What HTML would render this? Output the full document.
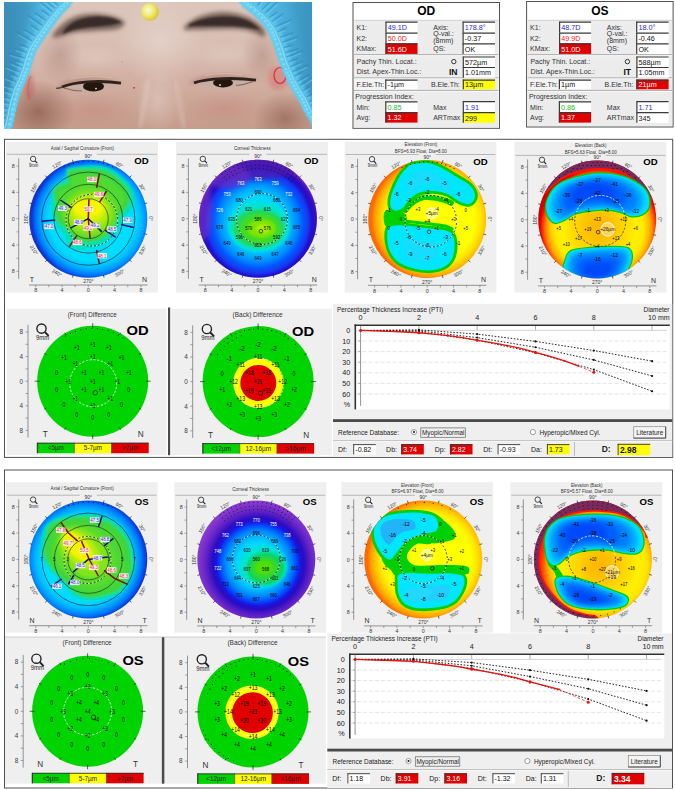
<!DOCTYPE html>
<html><head><meta charset="utf-8"><title>Belin/Ambrosio Enhanced Ectasia Display</title>
<style>
html,body{margin:0;padding:0;background:#fff;width:675px;height:790px;overflow:hidden;}
svg text{font-family:"Liberation Sans", sans-serif;}
</style></head><body>
<svg width="675" height="790" viewBox="0 0 675 790" style="display:block">
<rect x="0" y="0" width="675" height="790" fill="#ffffff"/>
<defs>
<clipPath id="phclip"><rect x="4" y="2" width="308" height="127"/></clipPath>
<linearGradient id="skinV" x1="0" y1="0" x2="0" y2="1">
 <stop offset="0" stop-color="#dcc6bc"/>
 <stop offset="0.35" stop-color="#d8bdb2"/>
 <stop offset="0.65" stop-color="#d1aea0"/>
 <stop offset="1" stop-color="#c59c8c"/>
</linearGradient>
<radialGradient id="noseHi" cx="0.5" cy="0.5" r="0.5">
 <stop offset="0" stop-color="#e6d4cc" stop-opacity="0.8"/>
 <stop offset="1" stop-color="#e6d4cc" stop-opacity="0"/>
</radialGradient>
<radialGradient id="shadeL" cx="0.5" cy="0.5" r="0.5">
 <stop offset="0" stop-color="#8a5a4c" stop-opacity="0.75"/>
 <stop offset="1" stop-color="#8a5a4c" stop-opacity="0"/>
</radialGradient>
<radialGradient id="pinkR" cx="0.5" cy="0.5" r="0.5">
 <stop offset="0" stop-color="#c07870" stop-opacity="0.55"/>
 <stop offset="1" stop-color="#c07870" stop-opacity="0"/>
</radialGradient>
<linearGradient id="capL" x1="0" y1="0" x2="1" y2="0">
 <stop offset="0" stop-color="#3e96c2"/>
 <stop offset="0.5" stop-color="#4cb0dc"/>
 <stop offset="1" stop-color="#5cc6ee"/>
</linearGradient>
<linearGradient id="capR" x1="1" y1="0" x2="0" y2="0">
 <stop offset="0" stop-color="#3e98c4"/>
 <stop offset="0.5" stop-color="#4cb2de"/>
 <stop offset="1" stop-color="#5cc8f0"/>
</linearGradient>
<radialGradient id="dotY" cx="0.4" cy="0.4" r="0.6">
 <stop offset="0" stop-color="#fbfbd8"/>
 <stop offset="0.55" stop-color="#f0ea70"/>
 <stop offset="1" stop-color="#d6c830"/>
</radialGradient>
<filter id="blur2" x="-20%" y="-20%" width="140%" height="140%"><feGaussianBlur stdDeviation="2"/></filter>
<filter id="blur1" x="-20%" y="-20%" width="140%" height="140%"><feGaussianBlur stdDeviation="1"/></filter>
<filter id="blur3" x="-30%" y="-30%" width="160%" height="160%"><feGaussianBlur stdDeviation="3.5"/></filter>
<filter id="blur6" x="-30%" y="-30%" width="160%" height="160%"><feGaussianBlur stdDeviation="6"/></filter>
<filter id="blur05" x="-20%" y="-20%" width="140%" height="140%"><feGaussianBlur stdDeviation="0.6"/></filter>
</defs>
<g clip-path="url(#phclip)">
<rect x="4" y="2" width="308" height="127" fill="url(#skinV)"/>
<ellipse cx="160" cy="40" rx="45" ry="45" fill="url(#noseHi)"/>
<ellipse cx="158" cy="100" rx="22" ry="35" fill="url(#noseHi)" opacity="0.6"/>
<ellipse cx="95" cy="58" rx="38" ry="14" fill="url(#noseHi)" opacity="0.55"/>
<ellipse cx="225" cy="55" rx="38" ry="14" fill="url(#noseHi)" opacity="0.55"/>
<path d="M148,80 C146,95 143,110 140,128" fill="none" stroke="#ecdcd6" stroke-width="3" opacity="0.5" filter="url(#blur2)"/>
<path d="M176,80 C178,95 181,110 184,128" fill="none" stroke="#ecdcd6" stroke-width="3" opacity="0.4" filter="url(#blur2)"/>
<ellipse cx="38" cy="112" rx="38" ry="32" fill="url(#shadeL)"/>
<ellipse cx="285" cy="118" rx="32" ry="26" fill="url(#shadeL)" opacity="0.8"/>
<ellipse cx="60" cy="55" rx="22" ry="30" fill="url(#shadeL)" opacity="0.35"/>
<ellipse cx="262" cy="55" rx="20" ry="30" fill="url(#shadeL)" opacity="0.35"/>
<ellipse cx="95" cy="110" rx="45" ry="18" fill="url(#pinkR)" opacity="0.6"/>
<ellipse cx="225" cy="108" rx="45" ry="18" fill="url(#pinkR)" opacity="0.6"/>
<path d="M52,37 C57,27 68,17 83,14.5 C97,12.5 113,14.5 124,21 C126,25 122,29 111,30 C97,31 84,31 72,33 C63,35 57,39 52,37 Z" fill="#5a463c" filter="url(#blur2)" opacity="0.75"/>
<path d="M63,32 C69,22 82,17 96,16.5 C108,16.5 117,18.5 121.5,22.5 C112,25.5 100,26.5 88,27.5 C78,28.5 70,30.5 63,34 Z" fill="#2e2420" filter="url(#blur1)" opacity="0.85"/>
<path d="M184,27 C190,19 204,13.5 220,12 C238,11.5 253,17 262,27 C266,32 266,36 263,37 C256,32 246,29 232,29 C215,29 198,30 184,30 Z" fill="#5a463c" filter="url(#blur2)" opacity="0.75"/>
<path d="M189,24.5 C199,18.5 214,16 230,16.5 C244,17.5 254,22 260,30 C250,27.5 238,26 225,26 C210,26 198,26 189,26.5 Z" fill="#2e2420" filter="url(#blur1)" opacity="0.85"/>
<path d="M58,86 C72,76 102,74 124,83 C104,79 80,80 58,88 Z" fill="#9a6a5c" filter="url(#blur2)" opacity="0.55"/>
<path d="M190,82 C206,73 236,72 258,80 C236,76 212,77 190,84 Z" fill="#9a6a5c" filter="url(#blur2)" opacity="0.55"/>
<path d="M70,79 C85,76 100,75.5 112,78" fill="none" stroke="#ead6cc" stroke-width="1.2" opacity="0.35" filter="url(#blur05)"/>
<path d="M205,75.5 C218,73 232,73 242,75" fill="none" stroke="#ead6cc" stroke-width="1.2" opacity="0.35" filter="url(#blur05)"/>
<path d="M63,86.5 C74,82 100,80 120,83.5 C112,88.5 101,91.2 89,91.2 C78,91.2 70,89.5 63,86.5 Z" fill="#c4aea6" filter="url(#blur05)"/>
<ellipse cx="93.5" cy="86.4" rx="10.5" ry="5" fill="#24150f" filter="url(#blur05)"/>
<path d="M62,87 C74,81.8 100,79.8 121,83.2" fill="none" stroke="#33201c" stroke-width="2.8" filter="url(#blur05)"/>
<path d="M64,88 C70,90 76,91 82,91" fill="none" stroke="#5a3a32" stroke-width="1.2" opacity="0.6" filter="url(#blur05)"/>
<path d="M62,87 C60,88 58,88.5 56,88.5" fill="none" stroke="#3a2622" stroke-width="1.4" filter="url(#blur05)" opacity="0.7"/>
<circle cx="96" cy="88.6" r="0.9" fill="#e8e0e0"/>
<path d="M195,82.5 C208,78.5 235,77.5 255,80.5 C246,85.5 235,87.5 222,87.5 C210,87.5 201,85.5 195,82.5 Z" fill="#c4aea6" filter="url(#blur05)"/>
<ellipse cx="223" cy="82.8" rx="10" ry="4.7" fill="#24150f" filter="url(#blur05)"/>
<path d="M194,82.8 C208,78.2 235,77.2 256,80.2" fill="none" stroke="#33201c" stroke-width="2.8" filter="url(#blur05)"/>
<path d="M236,85.5 C242,85 248,83.5 253,81.5" fill="none" stroke="#5a3a32" stroke-width="1.2" opacity="0.6" filter="url(#blur05)"/>
<circle cx="220" cy="85" r="0.9" fill="#e8e0e0"/>
<ellipse cx="278" cy="78" rx="10" ry="12" fill="#d86a6a" opacity="0.45" filter="url(#blur2)"/>
<ellipse cx="280" cy="75.5" rx="6" ry="8" fill="none" stroke="#d82a3a" stroke-width="1.2" filter="url(#blur05)"/>
<ellipse cx="29" cy="87" rx="5" ry="13" fill="#c05a5a" opacity="0.45" filter="url(#blur2)"/>
<path d="M31,76 C27,84 27,92 30,99" fill="none" stroke="#c84040" stroke-width="0.8" opacity="0.6"/>
<circle cx="134" cy="87.8" r="0.9" fill="#b03030"/>
<circle cx="122" cy="62" r="0.6" fill="#b06050" opacity="0.6"/>
<path d="M2,0 L73,1 L64,10 L56,20 L49,30 L42,40 L36,50 L32.5,60 L29.6,70 L25.5,80 L21,90 L18,100 L15.6,110 L13.5,120 L11,130 L2,131 Z" fill="url(#capL)"/>
<path d="M314,0 L239,1 L248,8 L256,15 L262.5,22 L268,30 L272.5,40 L276,50 L279,60 L283,70 L287.5,80 L293,90 L299.5,100 L304,110 L309,118 L313,126 L314,131 Z" fill="url(#capR)"/>
<path d="M67.0,1 L58.0,10 L50.0,20 L43.0,30 L36.0,40 L30.0,50 L26.5,60 L23.6,70 L19.5,80 L15.0,90 L12.0,100 L9.6,110 L7.5,120 L5.0,130" fill="none" stroke="#5cc4ea" stroke-width="12" opacity="0.9" filter="url(#blur1)"/>
<path d="M245.0,1 L254.0,8 L262.0,15 L268.5,22 L274.0,30 L278.5,40 L282.0,50 L285.0,60 L289.0,70 L293.5,80 L299.0,90 L305.5,100 L310.0,110 L315.0,118 L319.0,126" fill="none" stroke="#5cc4ea" stroke-width="12" opacity="0.9" filter="url(#blur1)"/>
<path d="M2,0 L36,0 C28,20 21,45 16,70 C12,95 9,115 8,131 L2,131 Z" fill="#2a6c90" opacity="0.25" filter="url(#blur3)"/>
<path d="M314,0 L290,0 C296,20 301,45 305,70 C308,95 310,110 312,131 L314,131 Z" fill="#2a7aa4" opacity="0.2" filter="url(#blur3)"/>
<line x1="67.3" y1="-4.7" x2="60.3" y2="-11.7" stroke="#2f86b4" stroke-width="1.3" opacity="0.55"/>
<line x1="65.9" y1="-3.2" x2="61.0" y2="-8.2" stroke="#74d0f0" stroke-width="1.1" opacity="0.5"/>
<line x1="64.3" y1="-1.7" x2="54.4" y2="-11.6" stroke="#2f86b4" stroke-width="1.3" opacity="0.55"/>
<line x1="62.9" y1="-0.2" x2="55.2" y2="-8.0" stroke="#74d0f0" stroke-width="1.1" opacity="0.5"/>
<line x1="61.3" y1="1.3" x2="48.6" y2="-11.4" stroke="#2f86b4" stroke-width="1.3" opacity="0.55"/>
<line x1="59.9" y1="2.8" x2="49.3" y2="-7.8" stroke="#74d0f0" stroke-width="1.1" opacity="0.5"/>
<line x1="57.8" y1="5.0" x2="49.9" y2="-1.2" stroke="#2f86b4" stroke-width="1.3" opacity="0.55"/>
<line x1="56.5" y1="6.6" x2="51.0" y2="2.2" stroke="#74d0f0" stroke-width="1.1" opacity="0.5"/>
<line x1="55.1" y1="8.3" x2="44.2" y2="-0.4" stroke="#2f86b4" stroke-width="1.3" opacity="0.55"/>
<line x1="53.8" y1="9.9" x2="45.2" y2="3.0" stroke="#74d0f0" stroke-width="1.1" opacity="0.5"/>
<line x1="52.4" y1="11.7" x2="38.4" y2="0.4" stroke="#2f86b4" stroke-width="1.3" opacity="0.55"/>
<line x1="51.2" y1="13.2" x2="39.5" y2="3.9" stroke="#74d0f0" stroke-width="1.1" opacity="0.5"/>
<line x1="49.4" y1="15.4" x2="41.3" y2="9.7" stroke="#2f86b4" stroke-width="1.3" opacity="0.55"/>
<line x1="48.3" y1="17.1" x2="42.6" y2="13.0" stroke="#74d0f0" stroke-width="1.1" opacity="0.5"/>
<line x1="45.9" y1="20.4" x2="34.5" y2="12.4" stroke="#2f86b4" stroke-width="1.3" opacity="0.55"/>
<line x1="44.8" y1="22.1" x2="35.8" y2="15.7" stroke="#74d0f0" stroke-width="1.1" opacity="0.5"/>
<line x1="42.4" y1="25.4" x2="27.7" y2="15.1" stroke="#2f86b4" stroke-width="1.3" opacity="0.55"/>
<line x1="41.3" y1="27.1" x2="29.0" y2="18.4" stroke="#74d0f0" stroke-width="1.1" opacity="0.5"/>
<line x1="38.9" y1="30.4" x2="30.8" y2="24.7" stroke="#2f86b4" stroke-width="1.3" opacity="0.55"/>
<line x1="37.8" y1="32.1" x2="32.1" y2="28.0" stroke="#74d0f0" stroke-width="1.1" opacity="0.5"/>
<line x1="35.1" y1="35.9" x2="23.1" y2="28.7" stroke="#2f86b4" stroke-width="1.3" opacity="0.55"/>
<line x1="34.1" y1="37.6" x2="24.7" y2="31.9" stroke="#74d0f0" stroke-width="1.1" opacity="0.5"/>
<line x1="32.1" y1="40.9" x2="16.7" y2="31.6" stroke="#2f86b4" stroke-width="1.3" opacity="0.55"/>
<line x1="31.1" y1="42.6" x2="18.2" y2="34.9" stroke="#74d0f0" stroke-width="1.1" opacity="0.5"/>
<line x1="28.4" y1="47.4" x2="19.0" y2="44.1" stroke="#2f86b4" stroke-width="1.3" opacity="0.55"/>
<line x1="27.8" y1="49.2" x2="21.2" y2="46.9" stroke="#74d0f0" stroke-width="1.1" opacity="0.5"/>
<line x1="26.7" y1="52.4" x2="13.5" y2="47.7" stroke="#2f86b4" stroke-width="1.3" opacity="0.55"/>
<line x1="26.0" y1="54.2" x2="15.7" y2="50.6" stroke="#74d0f0" stroke-width="1.1" opacity="0.5"/>
<line x1="24.8" y1="57.8" x2="7.5" y2="52.8" stroke="#2f86b4" stroke-width="1.3" opacity="0.55"/>
<line x1="24.3" y1="59.7" x2="9.9" y2="55.5" stroke="#74d0f0" stroke-width="1.1" opacity="0.5"/>
<line x1="23.4" y1="62.8" x2="13.8" y2="60.0" stroke="#2f86b4" stroke-width="1.3" opacity="0.55"/>
<line x1="22.8" y1="64.7" x2="16.1" y2="62.7" stroke="#74d0f0" stroke-width="1.1" opacity="0.5"/>
<line x1="22.2" y1="67.0" x2="9.2" y2="61.7" stroke="#2f86b4" stroke-width="1.3" opacity="0.55"/>
<line x1="21.4" y1="68.8" x2="11.3" y2="64.6" stroke="#74d0f0" stroke-width="1.1" opacity="0.5"/>
<line x1="20.1" y1="72.0" x2="3.5" y2="65.1" stroke="#2f86b4" stroke-width="1.3" opacity="0.55"/>
<line x1="19.4" y1="73.8" x2="5.5" y2="68.1" stroke="#74d0f0" stroke-width="1.1" opacity="0.5"/>
<line x1="18.2" y1="76.7" x2="9.1" y2="72.6" stroke="#2f86b4" stroke-width="1.3" opacity="0.55"/>
<line x1="17.4" y1="78.5" x2="11.0" y2="75.7" stroke="#74d0f0" stroke-width="1.1" opacity="0.5"/>
<line x1="16.0" y1="81.7" x2="3.2" y2="76.0" stroke="#2f86b4" stroke-width="1.3" opacity="0.55"/>
<line x1="15.1" y1="83.5" x2="5.1" y2="79.0" stroke="#74d0f0" stroke-width="1.1" opacity="0.5"/>
<line x1="13.3" y1="87.7" x2="-3.9" y2="82.5" stroke="#2f86b4" stroke-width="1.3" opacity="0.55"/>
<line x1="12.8" y1="89.6" x2="-1.6" y2="85.3" stroke="#74d0f0" stroke-width="1.1" opacity="0.5"/>
<line x1="11.8" y1="92.7" x2="2.3" y2="89.8" stroke="#2f86b4" stroke-width="1.3" opacity="0.55"/>
<line x1="11.3" y1="94.6" x2="4.6" y2="92.6" stroke="#74d0f0" stroke-width="1.1" opacity="0.5"/>
<line x1="10.2" y1="98.1" x2="-3.4" y2="94.9" stroke="#2f86b4" stroke-width="1.3" opacity="0.55"/>
<line x1="9.8" y1="100.1" x2="-0.9" y2="97.5" stroke="#74d0f0" stroke-width="1.1" opacity="0.5"/>
<line x1="9.0" y1="103.1" x2="-8.5" y2="98.9" stroke="#2f86b4" stroke-width="1.3" opacity="0.55"/>
<line x1="8.6" y1="105.1" x2="-6.0" y2="101.6" stroke="#74d0f0" stroke-width="1.1" opacity="0.5"/>
<line x1="7.8" y1="108.4" x2="-2.0" y2="106.3" stroke="#2f86b4" stroke-width="1.3" opacity="0.55"/>
<line x1="7.4" y1="110.3" x2="0.5" y2="108.9" stroke="#74d0f0" stroke-width="1.1" opacity="0.5"/>
<line x1="6.7" y1="113.4" x2="-7.0" y2="110.5" stroke="#2f86b4" stroke-width="1.3" opacity="0.55"/>
<line x1="6.3" y1="115.3" x2="-4.5" y2="113.1" stroke="#74d0f0" stroke-width="1.1" opacity="0.5"/>
<line x1="5.7" y1="118.1" x2="-11.7" y2="113.7" stroke="#2f86b4" stroke-width="1.3" opacity="0.55"/>
<line x1="5.3" y1="120.0" x2="-9.3" y2="116.4" stroke="#74d0f0" stroke-width="1.1" opacity="0.5"/>
<line x1="4.5" y1="123.1" x2="-5.2" y2="120.6" stroke="#2f86b4" stroke-width="1.3" opacity="0.55"/>
<line x1="4.0" y1="125.0" x2="-2.8" y2="123.3" stroke="#74d0f0" stroke-width="1.1" opacity="0.5"/>
<line x1="243.9" y1="-5.3" x2="250.1" y2="-13.2" stroke="#2f86b4" stroke-width="1.3" opacity="0.55"/>
<line x1="245.5" y1="-4.1" x2="249.8" y2="-9.6" stroke="#74d0f0" stroke-width="1.1" opacity="0.5"/>
<line x1="248.4" y1="-1.8" x2="257.0" y2="-12.9" stroke="#2f86b4" stroke-width="1.3" opacity="0.55"/>
<line x1="250.0" y1="-0.6" x2="256.7" y2="-9.3" stroke="#74d0f0" stroke-width="1.1" opacity="0.5"/>
<line x1="253.3" y1="2.0" x2="265.1" y2="-11.6" stroke="#2f86b4" stroke-width="1.3" opacity="0.55"/>
<line x1="254.8" y1="3.3" x2="264.7" y2="-8.0" stroke="#74d0f0" stroke-width="1.1" opacity="0.5"/>
<line x1="257.3" y1="5.5" x2="263.9" y2="-2.0" stroke="#2f86b4" stroke-width="1.3" opacity="0.55"/>
<line x1="258.8" y1="6.8" x2="263.4" y2="1.5" stroke="#74d0f0" stroke-width="1.1" opacity="0.5"/>
<line x1="261.9" y1="9.6" x2="272.1" y2="0.0" stroke="#2f86b4" stroke-width="1.3" opacity="0.55"/>
<line x1="263.2" y1="11.0" x2="271.3" y2="3.5" stroke="#74d0f0" stroke-width="1.1" opacity="0.5"/>
<line x1="265.1" y1="13.1" x2="278.3" y2="0.8" stroke="#2f86b4" stroke-width="1.3" opacity="0.55"/>
<line x1="266.5" y1="14.5" x2="277.5" y2="4.3" stroke="#74d0f0" stroke-width="1.1" opacity="0.5"/>
<line x1="269.1" y1="17.5" x2="277.3" y2="11.8" stroke="#2f86b4" stroke-width="1.3" opacity="0.55"/>
<line x1="270.2" y1="19.1" x2="276.0" y2="15.2" stroke="#74d0f0" stroke-width="1.1" opacity="0.5"/>
<line x1="271.8" y1="21.5" x2="283.4" y2="13.5" stroke="#2f86b4" stroke-width="1.3" opacity="0.55"/>
<line x1="273.0" y1="23.1" x2="282.0" y2="16.9" stroke="#74d0f0" stroke-width="1.1" opacity="0.5"/>
<line x1="275.3" y1="26.7" x2="291.7" y2="19.3" stroke="#2f86b4" stroke-width="1.3" opacity="0.55"/>
<line x1="276.1" y1="28.5" x2="289.8" y2="22.4" stroke="#74d0f0" stroke-width="1.1" opacity="0.5"/>
<line x1="277.5" y1="31.7" x2="286.7" y2="27.6" stroke="#2f86b4" stroke-width="1.3" opacity="0.55"/>
<line x1="278.4" y1="33.5" x2="284.7" y2="30.7" stroke="#74d0f0" stroke-width="1.1" opacity="0.5"/>
<line x1="280.1" y1="37.4" x2="293.3" y2="32.7" stroke="#2f86b4" stroke-width="1.3" opacity="0.55"/>
<line x1="280.7" y1="39.2" x2="291.1" y2="35.6" stroke="#74d0f0" stroke-width="1.1" opacity="0.5"/>
<line x1="281.8" y1="42.4" x2="298.8" y2="36.4" stroke="#2f86b4" stroke-width="1.3" opacity="0.55"/>
<line x1="282.5" y1="44.2" x2="296.6" y2="39.3" stroke="#74d0f0" stroke-width="1.1" opacity="0.5"/>
<line x1="283.7" y1="47.7" x2="293.2" y2="44.8" stroke="#2f86b4" stroke-width="1.3" opacity="0.55"/>
<line x1="284.2" y1="49.6" x2="290.9" y2="47.6" stroke="#74d0f0" stroke-width="1.1" opacity="0.5"/>
<line x1="285.2" y1="52.7" x2="298.6" y2="48.7" stroke="#2f86b4" stroke-width="1.3" opacity="0.55"/>
<line x1="285.7" y1="54.6" x2="296.3" y2="51.5" stroke="#74d0f0" stroke-width="1.1" opacity="0.5"/>
<line x1="286.4" y1="57.0" x2="303.1" y2="50.3" stroke="#2f86b4" stroke-width="1.3" opacity="0.55"/>
<line x1="287.2" y1="58.9" x2="301.1" y2="53.3" stroke="#74d0f0" stroke-width="1.1" opacity="0.5"/>
<line x1="288.4" y1="62.0" x2="297.7" y2="58.3" stroke="#2f86b4" stroke-width="1.3" opacity="0.55"/>
<line x1="289.2" y1="63.9" x2="295.7" y2="61.3" stroke="#74d0f0" stroke-width="1.1" opacity="0.5"/>
<line x1="290.3" y1="66.7" x2="303.1" y2="61.0" stroke="#2f86b4" stroke-width="1.3" opacity="0.55"/>
<line x1="291.1" y1="68.5" x2="301.1" y2="64.0" stroke="#74d0f0" stroke-width="1.1" opacity="0.5"/>
<line x1="292.5" y1="71.7" x2="309.0" y2="64.3" stroke="#2f86b4" stroke-width="1.3" opacity="0.55"/>
<line x1="293.4" y1="73.5" x2="307.0" y2="67.4" stroke="#74d0f0" stroke-width="1.1" opacity="0.5"/>
<line x1="294.5" y1="76.1" x2="303.3" y2="71.3" stroke="#2f86b4" stroke-width="1.3" opacity="0.55"/>
<line x1="295.5" y1="77.9" x2="301.6" y2="74.5" stroke="#74d0f0" stroke-width="1.1" opacity="0.5"/>
<line x1="297.3" y1="81.1" x2="309.5" y2="74.4" stroke="#2f86b4" stroke-width="1.3" opacity="0.55"/>
<line x1="298.2" y1="82.9" x2="307.9" y2="77.6" stroke="#74d0f0" stroke-width="1.1" opacity="0.5"/>
<line x1="299.7" y1="85.6" x2="314.8" y2="75.8" stroke="#2f86b4" stroke-width="1.3" opacity="0.55"/>
<line x1="300.8" y1="87.3" x2="313.4" y2="79.1" stroke="#74d0f0" stroke-width="1.1" opacity="0.5"/>
<line x1="303.0" y1="90.6" x2="311.3" y2="85.2" stroke="#2f86b4" stroke-width="1.3" opacity="0.55"/>
<line x1="304.0" y1="92.3" x2="309.9" y2="88.5" stroke="#74d0f0" stroke-width="1.1" opacity="0.5"/>
<line x1="306.8" y1="96.7" x2="319.6" y2="91.0" stroke="#2f86b4" stroke-width="1.3" opacity="0.55"/>
<line x1="307.6" y1="98.5" x2="317.6" y2="94.0" stroke="#74d0f0" stroke-width="1.1" opacity="0.5"/>
<line x1="309.0" y1="101.7" x2="325.5" y2="94.3" stroke="#2f86b4" stroke-width="1.3" opacity="0.55"/>
<line x1="309.9" y1="103.5" x2="323.5" y2="97.4" stroke="#74d0f0" stroke-width="1.1" opacity="0.5"/>
<line x1="310.8" y1="105.8" x2="319.3" y2="100.5" stroke="#2f86b4" stroke-width="1.3" opacity="0.55"/>
<line x1="311.8" y1="107.5" x2="317.8" y2="103.7" stroke="#74d0f0" stroke-width="1.1" opacity="0.5"/>
<line x1="313.3" y1="109.8" x2="325.2" y2="102.3" stroke="#2f86b4" stroke-width="1.3" opacity="0.55"/>
<line x1="314.3" y1="111.5" x2="323.7" y2="105.6" stroke="#74d0f0" stroke-width="1.1" opacity="0.5"/>
<line x1="316.2" y1="114.4" x2="332.3" y2="106.4" stroke="#2f86b4" stroke-width="1.3" opacity="0.55"/>
<line x1="317.0" y1="116.2" x2="330.5" y2="109.5" stroke="#74d0f0" stroke-width="1.1" opacity="0.5"/>
<line x1="318.2" y1="118.4" x2="327.1" y2="114.0" stroke="#2f86b4" stroke-width="1.3" opacity="0.55"/>
<line x1="319.0" y1="120.2" x2="325.3" y2="117.1" stroke="#74d0f0" stroke-width="1.1" opacity="0.5"/>
<path d="M66.5,1 L57.5,10 L49.5,20 L42.5,30 L35.5,40 L29.5,50 L26.0,60 L23.1,70 L19.0,80 L14.5,90 L11.5,100 L9.1,110 L7.0,120 L4.5,130" fill="none" stroke="#8edcf4" stroke-width="1.4" opacity="0.9"/>
<path d="M245.5,1 L254.5,8 L262.5,15 L269.0,22 L274.5,30 L279.0,40 L282.5,50 L285.5,60 L289.5,70 L294.0,80 L299.5,90 L306.0,100 L310.5,110 L315.5,118 L319.5,126" fill="none" stroke="#8edcf4" stroke-width="1.4" opacity="0.9"/>
<circle cx="70.6" cy="1.0" r="2.9" fill="#66cef0"/>
<circle cx="67.6" cy="4.0" r="2.9" fill="#66cef0"/>
<circle cx="64.6" cy="7.0" r="2.9" fill="#66cef0"/>
<circle cx="61.6" cy="10.0" r="2.9" fill="#66cef0"/>
<circle cx="58.9" cy="13.3" r="2.9" fill="#66cef0"/>
<circle cx="56.3" cy="16.7" r="2.9" fill="#66cef0"/>
<circle cx="53.6" cy="20.0" r="2.9" fill="#66cef0"/>
<circle cx="51.3" cy="23.3" r="2.9" fill="#66cef0"/>
<circle cx="48.9" cy="26.7" r="2.9" fill="#66cef0"/>
<circle cx="46.6" cy="30.0" r="2.9" fill="#66cef0"/>
<circle cx="44.3" cy="33.3" r="2.9" fill="#66cef0"/>
<circle cx="41.9" cy="36.7" r="2.9" fill="#66cef0"/>
<circle cx="39.6" cy="40.0" r="2.9" fill="#66cef0"/>
<circle cx="37.6" cy="43.3" r="2.9" fill="#66cef0"/>
<circle cx="35.6" cy="46.7" r="2.9" fill="#66cef0"/>
<circle cx="33.6" cy="50.0" r="2.9" fill="#66cef0"/>
<circle cx="31.9" cy="55.0" r="2.9" fill="#66cef0"/>
<circle cx="30.1" cy="60.0" r="2.9" fill="#66cef0"/>
<circle cx="28.7" cy="65.0" r="2.9" fill="#66cef0"/>
<circle cx="27.2" cy="70.0" r="2.9" fill="#66cef0"/>
<circle cx="25.8" cy="73.3" r="2.9" fill="#66cef0"/>
<circle cx="24.5" cy="76.7" r="2.9" fill="#66cef0"/>
<circle cx="23.1" cy="80.0" r="2.9" fill="#66cef0"/>
<circle cx="21.6" cy="83.3" r="2.9" fill="#66cef0"/>
<circle cx="20.1" cy="86.7" r="2.9" fill="#66cef0"/>
<circle cx="18.6" cy="90.0" r="2.9" fill="#66cef0"/>
<circle cx="17.1" cy="95.0" r="2.9" fill="#66cef0"/>
<circle cx="15.6" cy="100.0" r="2.9" fill="#66cef0"/>
<circle cx="14.4" cy="105.0" r="2.9" fill="#66cef0"/>
<circle cx="13.2" cy="110.0" r="2.9" fill="#66cef0"/>
<circle cx="12.2" cy="115.0" r="2.9" fill="#66cef0"/>
<circle cx="11.1" cy="120.0" r="2.9" fill="#66cef0"/>
<circle cx="9.8" cy="125.0" r="2.9" fill="#66cef0"/>
<circle cx="8.6" cy="130.0" r="2.9" fill="#66cef0"/>
<circle cx="70.2" cy="0.1" r="1.2" fill="#96e2f8" opacity="0.7"/>
<circle cx="67.2" cy="3.1" r="1.2" fill="#96e2f8" opacity="0.7"/>
<circle cx="64.2" cy="6.1" r="1.2" fill="#96e2f8" opacity="0.7"/>
<circle cx="61.2" cy="9.1" r="1.2" fill="#96e2f8" opacity="0.7"/>
<circle cx="58.5" cy="12.4" r="1.2" fill="#96e2f8" opacity="0.7"/>
<circle cx="55.9" cy="15.8" r="1.2" fill="#96e2f8" opacity="0.7"/>
<circle cx="53.2" cy="19.1" r="1.2" fill="#96e2f8" opacity="0.7"/>
<circle cx="50.9" cy="22.4" r="1.2" fill="#96e2f8" opacity="0.7"/>
<circle cx="48.5" cy="25.8" r="1.2" fill="#96e2f8" opacity="0.7"/>
<circle cx="46.2" cy="29.1" r="1.2" fill="#96e2f8" opacity="0.7"/>
<circle cx="43.9" cy="32.4" r="1.2" fill="#96e2f8" opacity="0.7"/>
<circle cx="41.5" cy="35.8" r="1.2" fill="#96e2f8" opacity="0.7"/>
<circle cx="39.2" cy="39.1" r="1.2" fill="#96e2f8" opacity="0.7"/>
<circle cx="37.2" cy="42.4" r="1.2" fill="#96e2f8" opacity="0.7"/>
<circle cx="35.2" cy="45.8" r="1.2" fill="#96e2f8" opacity="0.7"/>
<circle cx="33.2" cy="49.1" r="1.2" fill="#96e2f8" opacity="0.7"/>
<circle cx="31.4" cy="54.1" r="1.2" fill="#96e2f8" opacity="0.7"/>
<circle cx="29.7" cy="59.1" r="1.2" fill="#96e2f8" opacity="0.7"/>
<circle cx="28.2" cy="64.1" r="1.2" fill="#96e2f8" opacity="0.7"/>
<circle cx="26.8" cy="69.1" r="1.2" fill="#96e2f8" opacity="0.7"/>
<circle cx="25.4" cy="72.4" r="1.2" fill="#96e2f8" opacity="0.7"/>
<circle cx="24.1" cy="75.8" r="1.2" fill="#96e2f8" opacity="0.7"/>
<circle cx="22.7" cy="79.1" r="1.2" fill="#96e2f8" opacity="0.7"/>
<circle cx="21.2" cy="82.4" r="1.2" fill="#96e2f8" opacity="0.7"/>
<circle cx="19.7" cy="85.8" r="1.2" fill="#96e2f8" opacity="0.7"/>
<circle cx="18.2" cy="89.1" r="1.2" fill="#96e2f8" opacity="0.7"/>
<circle cx="16.7" cy="94.1" r="1.2" fill="#96e2f8" opacity="0.7"/>
<circle cx="15.2" cy="99.1" r="1.2" fill="#96e2f8" opacity="0.7"/>
<circle cx="14.0" cy="104.1" r="1.2" fill="#96e2f8" opacity="0.7"/>
<circle cx="12.8" cy="109.1" r="1.2" fill="#96e2f8" opacity="0.7"/>
<circle cx="11.8" cy="114.1" r="1.2" fill="#96e2f8" opacity="0.7"/>
<circle cx="10.7" cy="119.1" r="1.2" fill="#96e2f8" opacity="0.7"/>
<circle cx="9.4" cy="124.1" r="1.2" fill="#96e2f8" opacity="0.7"/>
<circle cx="8.2" cy="129.1" r="1.2" fill="#96e2f8" opacity="0.7"/>
<circle cx="241.4" cy="1.0" r="2.9" fill="#66cef0"/>
<circle cx="244.4" cy="3.3" r="2.9" fill="#66cef0"/>
<circle cx="247.4" cy="5.7" r="2.9" fill="#66cef0"/>
<circle cx="250.4" cy="8.0" r="2.9" fill="#66cef0"/>
<circle cx="254.4" cy="11.5" r="2.9" fill="#66cef0"/>
<circle cx="258.4" cy="15.0" r="2.9" fill="#66cef0"/>
<circle cx="261.6" cy="18.5" r="2.9" fill="#66cef0"/>
<circle cx="264.9" cy="22.0" r="2.9" fill="#66cef0"/>
<circle cx="267.6" cy="26.0" r="2.9" fill="#66cef0"/>
<circle cx="270.4" cy="30.0" r="2.9" fill="#66cef0"/>
<circle cx="271.9" cy="33.3" r="2.9" fill="#66cef0"/>
<circle cx="273.4" cy="36.7" r="2.9" fill="#66cef0"/>
<circle cx="274.9" cy="40.0" r="2.9" fill="#66cef0"/>
<circle cx="276.6" cy="45.0" r="2.9" fill="#66cef0"/>
<circle cx="278.4" cy="50.0" r="2.9" fill="#66cef0"/>
<circle cx="279.9" cy="55.0" r="2.9" fill="#66cef0"/>
<circle cx="281.4" cy="60.0" r="2.9" fill="#66cef0"/>
<circle cx="283.4" cy="65.0" r="2.9" fill="#66cef0"/>
<circle cx="285.4" cy="70.0" r="2.9" fill="#66cef0"/>
<circle cx="286.9" cy="73.3" r="2.9" fill="#66cef0"/>
<circle cx="288.4" cy="76.7" r="2.9" fill="#66cef0"/>
<circle cx="289.9" cy="80.0" r="2.9" fill="#66cef0"/>
<circle cx="291.7" cy="83.3" r="2.9" fill="#66cef0"/>
<circle cx="293.6" cy="86.7" r="2.9" fill="#66cef0"/>
<circle cx="295.4" cy="90.0" r="2.9" fill="#66cef0"/>
<circle cx="297.6" cy="93.3" r="2.9" fill="#66cef0"/>
<circle cx="299.7" cy="96.7" r="2.9" fill="#66cef0"/>
<circle cx="301.9" cy="100.0" r="2.9" fill="#66cef0"/>
<circle cx="303.4" cy="103.3" r="2.9" fill="#66cef0"/>
<circle cx="304.9" cy="106.7" r="2.9" fill="#66cef0"/>
<circle cx="306.4" cy="110.0" r="2.9" fill="#66cef0"/>
<circle cx="308.9" cy="114.0" r="2.9" fill="#66cef0"/>
<circle cx="311.4" cy="118.0" r="2.9" fill="#66cef0"/>
<circle cx="313.4" cy="122.0" r="2.9" fill="#66cef0"/>
<circle cx="315.4" cy="126.0" r="2.9" fill="#66cef0"/>
<circle cx="241.8" cy="0.1" r="1.2" fill="#96e2f8" opacity="0.7"/>
<circle cx="244.8" cy="2.4" r="1.2" fill="#96e2f8" opacity="0.7"/>
<circle cx="247.8" cy="4.8" r="1.2" fill="#96e2f8" opacity="0.7"/>
<circle cx="250.8" cy="7.1" r="1.2" fill="#96e2f8" opacity="0.7"/>
<circle cx="254.8" cy="10.6" r="1.2" fill="#96e2f8" opacity="0.7"/>
<circle cx="258.8" cy="14.1" r="1.2" fill="#96e2f8" opacity="0.7"/>
<circle cx="262.1" cy="17.6" r="1.2" fill="#96e2f8" opacity="0.7"/>
<circle cx="265.3" cy="21.1" r="1.2" fill="#96e2f8" opacity="0.7"/>
<circle cx="268.1" cy="25.1" r="1.2" fill="#96e2f8" opacity="0.7"/>
<circle cx="270.8" cy="29.1" r="1.2" fill="#96e2f8" opacity="0.7"/>
<circle cx="272.3" cy="32.4" r="1.2" fill="#96e2f8" opacity="0.7"/>
<circle cx="273.8" cy="35.8" r="1.2" fill="#96e2f8" opacity="0.7"/>
<circle cx="275.3" cy="39.1" r="1.2" fill="#96e2f8" opacity="0.7"/>
<circle cx="277.1" cy="44.1" r="1.2" fill="#96e2f8" opacity="0.7"/>
<circle cx="278.8" cy="49.1" r="1.2" fill="#96e2f8" opacity="0.7"/>
<circle cx="280.3" cy="54.1" r="1.2" fill="#96e2f8" opacity="0.7"/>
<circle cx="281.8" cy="59.1" r="1.2" fill="#96e2f8" opacity="0.7"/>
<circle cx="283.8" cy="64.1" r="1.2" fill="#96e2f8" opacity="0.7"/>
<circle cx="285.8" cy="69.1" r="1.2" fill="#96e2f8" opacity="0.7"/>
<circle cx="287.3" cy="72.4" r="1.2" fill="#96e2f8" opacity="0.7"/>
<circle cx="288.8" cy="75.8" r="1.2" fill="#96e2f8" opacity="0.7"/>
<circle cx="290.3" cy="79.1" r="1.2" fill="#96e2f8" opacity="0.7"/>
<circle cx="292.1" cy="82.4" r="1.2" fill="#96e2f8" opacity="0.7"/>
<circle cx="294.0" cy="85.8" r="1.2" fill="#96e2f8" opacity="0.7"/>
<circle cx="295.8" cy="89.1" r="1.2" fill="#96e2f8" opacity="0.7"/>
<circle cx="298.0" cy="92.4" r="1.2" fill="#96e2f8" opacity="0.7"/>
<circle cx="300.1" cy="95.8" r="1.2" fill="#96e2f8" opacity="0.7"/>
<circle cx="302.3" cy="99.1" r="1.2" fill="#96e2f8" opacity="0.7"/>
<circle cx="303.8" cy="102.4" r="1.2" fill="#96e2f8" opacity="0.7"/>
<circle cx="305.3" cy="105.8" r="1.2" fill="#96e2f8" opacity="0.7"/>
<circle cx="306.8" cy="109.1" r="1.2" fill="#96e2f8" opacity="0.7"/>
<circle cx="309.3" cy="113.1" r="1.2" fill="#96e2f8" opacity="0.7"/>
<circle cx="311.8" cy="117.1" r="1.2" fill="#96e2f8" opacity="0.7"/>
<circle cx="313.8" cy="121.1" r="1.2" fill="#96e2f8" opacity="0.7"/>
<circle cx="315.8" cy="125.1" r="1.2" fill="#96e2f8" opacity="0.7"/>
<circle cx="150" cy="12" r="8.8" fill="url(#dotY)"/>
</g>
<rect x="353.00" y="2.50" width="146.50" height="125.80" fill="#ffffff" stroke="#505050" stroke-width="1" />
<rect x="354.00" y="20.30" width="144.50" height="107.00" fill="#ececec" stroke="none" stroke-width="1" />
<line x1="354.00" y1="20.30" x2="498.50" y2="20.30" stroke="#c8c8c8" stroke-width="0.8" />
<text x="426.25" y="14.60" font-size="12.0" fill="#000" text-anchor="middle" font-weight="bold" >OD</text>
<line x1="354.00" y1="54.70" x2="498.50" y2="54.70" stroke="#a8a8a8" stroke-width="1" />
<line x1="354.00" y1="55.70" x2="498.50" y2="55.70" stroke="#fafafa" stroke-width="0.8" />
<line x1="354.00" y1="77.90" x2="498.50" y2="77.90" stroke="#a8a8a8" stroke-width="1" />
<line x1="354.00" y1="78.90" x2="498.50" y2="78.90" stroke="#fafafa" stroke-width="0.8" />
<line x1="354.00" y1="90.40" x2="498.50" y2="90.40" stroke="#a8a8a8" stroke-width="1" />
<line x1="354.00" y1="91.40" x2="498.50" y2="91.40" stroke="#fafafa" stroke-width="0.8" />
<text x="356.50" y="29.80" font-size="7.0" fill="#333" text-anchor="start" font-weight="normal" >K1:</text>
<text x="356.50" y="40.60" font-size="7.0" fill="#333" text-anchor="start" font-weight="normal" >K2:</text>
<text x="356.50" y="51.20" font-size="7.0" fill="#333" text-anchor="start" font-weight="normal" >KMax:</text>
<rect x="385.50" y="21.70" width="32.00" height="10.90" fill="#ffffff" stroke="none" stroke-width="1" />
<line x1="385.50" y1="22.20" x2="417.50" y2="22.20" stroke="#3a3a3a" stroke-width="1.2" />
<line x1="386.00" y1="21.70" x2="386.00" y2="32.60" stroke="#3a3a3a" stroke-width="1.2" />
<text x="387.70" y="30.30" font-size="7.2" fill="#2828e8" text-anchor="start" font-weight="normal" >49.1D</text>
<rect x="385.50" y="32.60" width="32.00" height="10.70" fill="#ffffff" stroke="none" stroke-width="1" />
<line x1="385.50" y1="33.10" x2="417.50" y2="33.10" stroke="#3a3a3a" stroke-width="1.2" />
<line x1="386.00" y1="32.60" x2="386.00" y2="43.30" stroke="#3a3a3a" stroke-width="1.2" />
<text x="387.70" y="41.00" font-size="7.2" fill="#f02020" text-anchor="start" font-weight="normal" >50.0D</text>
<rect x="385.50" y="43.30" width="32.00" height="10.60" fill="#e00000" stroke="none" stroke-width="1" />
<line x1="385.50" y1="43.80" x2="417.50" y2="43.80" stroke="#3a3a3a" stroke-width="1.2" />
<line x1="386.00" y1="43.30" x2="386.00" y2="53.90" stroke="#3a3a3a" stroke-width="1.2" />
<text x="387.70" y="51.60" font-size="7.2" fill="#fff" text-anchor="start" font-weight="normal" >51.6D</text>
<text x="433.20" y="29.60" font-size="7.0" fill="#333" text-anchor="start" font-weight="normal" >Axis:</text>
<text x="433.20" y="36.00" font-size="7.0" fill="#333" text-anchor="start" font-weight="normal" >Q-val.:</text>
<text x="433.20" y="43.40" font-size="7.0" fill="#333" text-anchor="start" font-weight="normal" >(8mm)</text>
<text x="433.20" y="51.20" font-size="7.0" fill="#333" text-anchor="start" font-weight="normal" >QS:</text>
<rect x="462.60" y="21.70" width="32.40" height="10.90" fill="#ffffff" stroke="none" stroke-width="1" />
<line x1="462.60" y1="22.20" x2="495.00" y2="22.20" stroke="#3a3a3a" stroke-width="1.2" />
<line x1="463.10" y1="21.70" x2="463.10" y2="32.60" stroke="#3a3a3a" stroke-width="1.2" />
<text x="464.80" y="30.30" font-size="7.2" fill="#2828e8" text-anchor="start" font-weight="normal" >178.8°</text>
<rect x="462.60" y="32.60" width="32.40" height="10.70" fill="#ffffff" stroke="none" stroke-width="1" />
<line x1="462.60" y1="33.10" x2="495.00" y2="33.10" stroke="#3a3a3a" stroke-width="1.2" />
<line x1="463.10" y1="32.60" x2="463.10" y2="43.30" stroke="#3a3a3a" stroke-width="1.2" />
<text x="464.80" y="41.00" font-size="7.2" fill="#111" text-anchor="start" font-weight="normal" >-0.37</text>
<rect x="462.60" y="43.30" width="32.40" height="10.60" fill="#ffffff" stroke="none" stroke-width="1" />
<line x1="462.60" y1="43.80" x2="495.00" y2="43.80" stroke="#3a3a3a" stroke-width="1.2" />
<line x1="463.10" y1="43.30" x2="463.10" y2="53.90" stroke="#3a3a3a" stroke-width="1.2" />
<text x="464.80" y="51.60" font-size="7.2" fill="#111" text-anchor="start" font-weight="normal" >OK</text>
<text x="356.80" y="63.80" font-size="7.0" fill="#333" text-anchor="start" font-weight="normal" >Pachy Thin. Locat.:</text>
<text x="356.80" y="74.40" font-size="7.0" fill="#333" text-anchor="start" font-weight="normal" >Dist. Apex-Thin.Loc.:</text>
<circle cx="453.80" cy="61.6" r="2.2" fill="none" stroke="#222" stroke-width="0.9"/>
<text x="457.50" y="74.60" font-size="8.6" fill="#111" text-anchor="end" font-weight="bold" >IN</text>
<rect x="462.80" y="56.50" width="32.20" height="10.50" fill="#ffffff" stroke="none" stroke-width="1" />
<line x1="462.80" y1="57.00" x2="495.00" y2="57.00" stroke="#3a3a3a" stroke-width="1.2" />
<line x1="463.30" y1="56.50" x2="463.30" y2="67.00" stroke="#3a3a3a" stroke-width="1.2" />
<text x="465.00" y="64.70" font-size="7.2" fill="#111" text-anchor="start" font-weight="normal" >572µm</text>
<rect x="462.80" y="67.00" width="32.20" height="10.70" fill="#ffffff" stroke="none" stroke-width="1" />
<line x1="462.80" y1="67.50" x2="495.00" y2="67.50" stroke="#3a3a3a" stroke-width="1.2" />
<line x1="463.30" y1="67.00" x2="463.30" y2="77.70" stroke="#3a3a3a" stroke-width="1.2" />
<text x="465.00" y="75.40" font-size="7.2" fill="#111" text-anchor="start" font-weight="normal" >1.01mm</text>
<rect x="354.50" y="79.20" width="30.50" height="10.60" fill="#f4f4f4" stroke="none" stroke-width="1" />
<text x="356.50" y="87.40" font-size="7.0" fill="#333" text-anchor="start" font-weight="normal" >F.Ele.Th:</text>
<rect x="385.30" y="79.60" width="32.20" height="9.60" fill="#ffffff" stroke="none" stroke-width="1" />
<line x1="385.30" y1="80.10" x2="417.50" y2="80.10" stroke="#3a3a3a" stroke-width="1.2" />
<line x1="385.80" y1="79.60" x2="385.80" y2="89.20" stroke="#3a3a3a" stroke-width="1.2" />
<text x="387.50" y="86.90" font-size="7.2" fill="#111" text-anchor="start" font-weight="normal" >-1µm</text>
<text x="459.80" y="87.40" font-size="7.0" fill="#333" text-anchor="end" font-weight="normal" >B.Ele.Th:</text>
<rect x="462.80" y="79.60" width="32.20" height="9.70" fill="#ffff00" stroke="none" stroke-width="1" />
<line x1="462.80" y1="80.10" x2="495.00" y2="80.10" stroke="#3a3a3a" stroke-width="1.2" />
<line x1="463.30" y1="79.60" x2="463.30" y2="89.30" stroke="#3a3a3a" stroke-width="1.2" />
<text x="465.00" y="87.00" font-size="7.2" fill="#111" text-anchor="start" font-weight="normal" >13µm</text>
<text x="355.30" y="98.70" font-size="7.0" fill="#333" text-anchor="start" font-weight="normal" >Progression Index:</text>
<text x="356.50" y="109.60" font-size="7.0" fill="#333" text-anchor="start" font-weight="normal" >Min:</text>
<text x="356.50" y="120.20" font-size="7.0" fill="#333" text-anchor="start" font-weight="normal" >Avg:</text>
<rect x="385.30" y="101.40" width="32.20" height="10.80" fill="#ffffff" stroke="none" stroke-width="1" />
<line x1="385.30" y1="101.90" x2="417.50" y2="101.90" stroke="#3a3a3a" stroke-width="1.2" />
<line x1="385.80" y1="101.40" x2="385.80" y2="112.20" stroke="#3a3a3a" stroke-width="1.2" />
<text x="387.50" y="109.90" font-size="7.2" fill="#20c020" text-anchor="start" font-weight="normal" >0.85</text>
<rect x="385.30" y="112.20" width="32.20" height="10.40" fill="#e00000" stroke="none" stroke-width="1" />
<line x1="385.30" y1="112.70" x2="417.50" y2="112.70" stroke="#3a3a3a" stroke-width="1.2" />
<line x1="385.80" y1="112.20" x2="385.80" y2="122.60" stroke="#3a3a3a" stroke-width="1.2" />
<text x="387.50" y="120.30" font-size="7.2" fill="#fff" text-anchor="start" font-weight="normal" >1.32</text>
<text x="433.20" y="109.60" font-size="7.0" fill="#333" text-anchor="start" font-weight="normal" >Max</text>
<text x="433.20" y="120.20" font-size="7.0" fill="#333" text-anchor="start" font-weight="normal" >ARTmax</text>
<rect x="462.80" y="101.20" width="32.20" height="11.00" fill="#ffffff" stroke="none" stroke-width="1" />
<line x1="462.80" y1="101.70" x2="495.00" y2="101.70" stroke="#3a3a3a" stroke-width="1.2" />
<line x1="463.30" y1="101.20" x2="463.30" y2="112.20" stroke="#3a3a3a" stroke-width="1.2" />
<text x="465.00" y="109.90" font-size="7.2" fill="#2828e8" text-anchor="start" font-weight="normal" >1.91</text>
<rect x="462.80" y="112.20" width="32.20" height="10.60" fill="#ffff00" stroke="none" stroke-width="1" />
<line x1="462.80" y1="112.70" x2="495.00" y2="112.70" stroke="#3a3a3a" stroke-width="1.2" />
<line x1="463.30" y1="112.20" x2="463.30" y2="122.80" stroke="#3a3a3a" stroke-width="1.2" />
<text x="465.00" y="120.50" font-size="7.2" fill="#111" text-anchor="start" font-weight="normal" >299</text>
<rect x="526.60" y="1.50" width="146.50" height="125.50" fill="#ffffff" stroke="#505050" stroke-width="1" />
<rect x="527.60" y="20.30" width="144.50" height="105.70" fill="#ececec" stroke="none" stroke-width="1" />
<line x1="527.60" y1="20.30" x2="672.10" y2="20.30" stroke="#c8c8c8" stroke-width="0.8" />
<text x="599.85" y="14.60" font-size="12.0" fill="#000" text-anchor="middle" font-weight="bold" >OS</text>
<line x1="527.60" y1="54.70" x2="672.10" y2="54.70" stroke="#a8a8a8" stroke-width="1" />
<line x1="527.60" y1="55.70" x2="672.10" y2="55.70" stroke="#fafafa" stroke-width="0.8" />
<line x1="527.60" y1="77.90" x2="672.10" y2="77.90" stroke="#a8a8a8" stroke-width="1" />
<line x1="527.60" y1="78.90" x2="672.10" y2="78.90" stroke="#fafafa" stroke-width="0.8" />
<line x1="527.60" y1="90.40" x2="672.10" y2="90.40" stroke="#a8a8a8" stroke-width="1" />
<line x1="527.60" y1="91.40" x2="672.10" y2="91.40" stroke="#fafafa" stroke-width="0.8" />
<text x="530.10" y="29.80" font-size="7.0" fill="#333" text-anchor="start" font-weight="normal" >K1:</text>
<text x="530.10" y="40.60" font-size="7.0" fill="#333" text-anchor="start" font-weight="normal" >K2:</text>
<text x="530.10" y="51.20" font-size="7.0" fill="#333" text-anchor="start" font-weight="normal" >KMax:</text>
<rect x="559.10" y="21.70" width="32.00" height="10.90" fill="#ffffff" stroke="none" stroke-width="1" />
<line x1="559.10" y1="22.20" x2="591.10" y2="22.20" stroke="#3a3a3a" stroke-width="1.2" />
<line x1="559.60" y1="21.70" x2="559.60" y2="32.60" stroke="#3a3a3a" stroke-width="1.2" />
<text x="561.30" y="30.30" font-size="7.2" fill="#2828e8" text-anchor="start" font-weight="normal" >48.7D</text>
<rect x="559.10" y="32.60" width="32.00" height="10.70" fill="#ffffff" stroke="none" stroke-width="1" />
<line x1="559.10" y1="33.10" x2="591.10" y2="33.10" stroke="#3a3a3a" stroke-width="1.2" />
<line x1="559.60" y1="32.60" x2="559.60" y2="43.30" stroke="#3a3a3a" stroke-width="1.2" />
<text x="561.30" y="41.00" font-size="7.2" fill="#f02020" text-anchor="start" font-weight="normal" >49.9D</text>
<rect x="559.10" y="43.30" width="32.00" height="10.60" fill="#e00000" stroke="none" stroke-width="1" />
<line x1="559.10" y1="43.80" x2="591.10" y2="43.80" stroke="#3a3a3a" stroke-width="1.2" />
<line x1="559.60" y1="43.30" x2="559.60" y2="53.90" stroke="#3a3a3a" stroke-width="1.2" />
<text x="561.30" y="51.60" font-size="7.2" fill="#fff" text-anchor="start" font-weight="normal" >51.0D</text>
<text x="606.80" y="29.60" font-size="7.0" fill="#333" text-anchor="start" font-weight="normal" >Axis:</text>
<text x="606.80" y="36.00" font-size="7.0" fill="#333" text-anchor="start" font-weight="normal" >Q-val.:</text>
<text x="606.80" y="43.40" font-size="7.0" fill="#333" text-anchor="start" font-weight="normal" >(8mm)</text>
<text x="606.80" y="51.20" font-size="7.0" fill="#333" text-anchor="start" font-weight="normal" >QS:</text>
<rect x="636.20" y="21.70" width="32.40" height="10.90" fill="#ffffff" stroke="none" stroke-width="1" />
<line x1="636.20" y1="22.20" x2="668.60" y2="22.20" stroke="#3a3a3a" stroke-width="1.2" />
<line x1="636.70" y1="21.70" x2="636.70" y2="32.60" stroke="#3a3a3a" stroke-width="1.2" />
<text x="638.40" y="30.30" font-size="7.2" fill="#2828e8" text-anchor="start" font-weight="normal" >18.0°</text>
<rect x="636.20" y="32.60" width="32.40" height="10.70" fill="#ffffff" stroke="none" stroke-width="1" />
<line x1="636.20" y1="33.10" x2="668.60" y2="33.10" stroke="#3a3a3a" stroke-width="1.2" />
<line x1="636.70" y1="32.60" x2="636.70" y2="43.30" stroke="#3a3a3a" stroke-width="1.2" />
<text x="638.40" y="41.00" font-size="7.2" fill="#111" text-anchor="start" font-weight="normal" >-0.46</text>
<rect x="636.20" y="43.30" width="32.40" height="10.60" fill="#ffffff" stroke="none" stroke-width="1" />
<line x1="636.20" y1="43.80" x2="668.60" y2="43.80" stroke="#3a3a3a" stroke-width="1.2" />
<line x1="636.70" y1="43.30" x2="636.70" y2="53.90" stroke="#3a3a3a" stroke-width="1.2" />
<text x="638.40" y="51.60" font-size="7.2" fill="#111" text-anchor="start" font-weight="normal" >OK</text>
<text x="530.40" y="63.80" font-size="7.0" fill="#333" text-anchor="start" font-weight="normal" >Pachy Thin. Locat.:</text>
<text x="530.40" y="74.40" font-size="7.0" fill="#333" text-anchor="start" font-weight="normal" >Dist. Apex-Thin.Loc.:</text>
<circle cx="627.40" cy="61.6" r="2.2" fill="none" stroke="#222" stroke-width="0.9"/>
<text x="631.10" y="74.60" font-size="8.6" fill="#111" text-anchor="end" font-weight="bold" >IT</text>
<rect x="636.40" y="56.50" width="32.20" height="10.50" fill="#ffffff" stroke="none" stroke-width="1" />
<line x1="636.40" y1="57.00" x2="668.60" y2="57.00" stroke="#3a3a3a" stroke-width="1.2" />
<line x1="636.90" y1="56.50" x2="636.90" y2="67.00" stroke="#3a3a3a" stroke-width="1.2" />
<text x="638.60" y="64.70" font-size="7.2" fill="#111" text-anchor="start" font-weight="normal" >588µm</text>
<rect x="636.40" y="67.00" width="32.20" height="10.70" fill="#ffffff" stroke="none" stroke-width="1" />
<line x1="636.40" y1="67.50" x2="668.60" y2="67.50" stroke="#3a3a3a" stroke-width="1.2" />
<line x1="636.90" y1="67.00" x2="636.90" y2="77.70" stroke="#3a3a3a" stroke-width="1.2" />
<text x="638.60" y="75.40" font-size="7.2" fill="#111" text-anchor="start" font-weight="normal" >1.05mm</text>
<rect x="528.10" y="79.20" width="30.50" height="10.60" fill="#f4f4f4" stroke="none" stroke-width="1" />
<text x="530.10" y="87.40" font-size="7.0" fill="#333" text-anchor="start" font-weight="normal" >F.Ele.Th:</text>
<rect x="558.90" y="79.60" width="32.20" height="9.60" fill="#ffffff" stroke="none" stroke-width="1" />
<line x1="558.90" y1="80.10" x2="591.10" y2="80.10" stroke="#3a3a3a" stroke-width="1.2" />
<line x1="559.40" y1="79.60" x2="559.40" y2="89.20" stroke="#3a3a3a" stroke-width="1.2" />
<text x="561.10" y="86.90" font-size="7.2" fill="#111" text-anchor="start" font-weight="normal" >1µm</text>
<text x="633.40" y="87.40" font-size="7.0" fill="#333" text-anchor="end" font-weight="normal" >B.Ele.Th:</text>
<rect x="636.40" y="79.60" width="32.20" height="9.70" fill="#e00000" stroke="none" stroke-width="1" />
<line x1="636.40" y1="80.10" x2="668.60" y2="80.10" stroke="#3a3a3a" stroke-width="1.2" />
<line x1="636.90" y1="79.60" x2="636.90" y2="89.30" stroke="#3a3a3a" stroke-width="1.2" />
<text x="638.60" y="87.00" font-size="7.2" fill="#fff" text-anchor="start" font-weight="normal" >21µm</text>
<text x="528.90" y="98.70" font-size="7.0" fill="#333" text-anchor="start" font-weight="normal" >Progression Index:</text>
<text x="530.10" y="109.60" font-size="7.0" fill="#333" text-anchor="start" font-weight="normal" >Min:</text>
<text x="530.10" y="120.20" font-size="7.0" fill="#333" text-anchor="start" font-weight="normal" >Avg:</text>
<rect x="558.90" y="101.40" width="32.20" height="10.80" fill="#ffffff" stroke="none" stroke-width="1" />
<line x1="558.90" y1="101.90" x2="591.10" y2="101.90" stroke="#3a3a3a" stroke-width="1.2" />
<line x1="559.40" y1="101.40" x2="559.40" y2="112.20" stroke="#3a3a3a" stroke-width="1.2" />
<text x="561.10" y="109.90" font-size="7.2" fill="#20c020" text-anchor="start" font-weight="normal" >0.86</text>
<rect x="558.90" y="112.20" width="32.20" height="10.40" fill="#e00000" stroke="none" stroke-width="1" />
<line x1="558.90" y1="112.70" x2="591.10" y2="112.70" stroke="#3a3a3a" stroke-width="1.2" />
<line x1="559.40" y1="112.20" x2="559.40" y2="122.60" stroke="#3a3a3a" stroke-width="1.2" />
<text x="561.10" y="120.30" font-size="7.2" fill="#fff" text-anchor="start" font-weight="normal" >1.37</text>
<text x="606.80" y="109.60" font-size="7.0" fill="#333" text-anchor="start" font-weight="normal" >Max</text>
<text x="606.80" y="120.20" font-size="7.0" fill="#333" text-anchor="start" font-weight="normal" >ARTmax</text>
<rect x="636.40" y="101.20" width="32.20" height="11.00" fill="#ffffff" stroke="none" stroke-width="1" />
<line x1="636.40" y1="101.70" x2="668.60" y2="101.70" stroke="#3a3a3a" stroke-width="1.2" />
<line x1="636.90" y1="101.20" x2="636.90" y2="112.20" stroke="#3a3a3a" stroke-width="1.2" />
<text x="638.60" y="109.90" font-size="7.2" fill="#2828e8" text-anchor="start" font-weight="normal" >1.71</text>
<rect x="636.40" y="112.20" width="32.20" height="10.60" fill="#ffffff" stroke="none" stroke-width="1" />
<line x1="636.40" y1="112.70" x2="668.60" y2="112.70" stroke="#3a3a3a" stroke-width="1.2" />
<line x1="636.90" y1="112.20" x2="636.90" y2="122.80" stroke="#3a3a3a" stroke-width="1.2" />
<text x="638.60" y="120.50" font-size="7.2" fill="#111" text-anchor="start" font-weight="normal" >345</text>
<rect x="4.50" y="139.30" width="668.20" height="318.10" fill="#ffffff" stroke="#505050" stroke-width="1" />
<rect x="6.00" y="141.80" width="152.00" height="150.70" fill="#efefef" stroke="none" stroke-width="1" />
<line x1="7.00" y1="154.30" x2="157.00" y2="154.30" stroke="#a8a8a8" stroke-width="0.8" />
<text x="82.30" y="149.50" font-size="5.1" fill="#333" text-anchor="middle" font-weight="normal" textLength="63.2" lengthAdjust="spacingAndGlyphs">Axial / Sagittal Curvature (Front)</text>
<rect x="79.80" y="153.30" width="17.00" height="2.50" fill="#efefef" stroke="none" stroke-width="1" />
<line x1="18.70" y1="158.48" x2="18.70" y2="278.92" stroke="#7a7a7a" stroke-width="0.8" />
<line x1="16.50" y1="166.06" x2="18.70" y2="166.06" stroke="#7a7a7a" stroke-width="0.7" />
<line x1="16.50" y1="179.22" x2="18.70" y2="179.22" stroke="#7a7a7a" stroke-width="0.7" />
<line x1="16.50" y1="192.38" x2="18.70" y2="192.38" stroke="#7a7a7a" stroke-width="0.7" />
<line x1="16.50" y1="205.54" x2="18.70" y2="205.54" stroke="#7a7a7a" stroke-width="0.7" />
<line x1="16.50" y1="218.70" x2="18.70" y2="218.70" stroke="#7a7a7a" stroke-width="0.7" />
<line x1="16.50" y1="231.86" x2="18.70" y2="231.86" stroke="#7a7a7a" stroke-width="0.7" />
<line x1="16.50" y1="245.02" x2="18.70" y2="245.02" stroke="#7a7a7a" stroke-width="0.7" />
<line x1="16.50" y1="258.18" x2="18.70" y2="258.18" stroke="#7a7a7a" stroke-width="0.7" />
<line x1="16.50" y1="271.34" x2="18.70" y2="271.34" stroke="#7a7a7a" stroke-width="0.7" />
<text x="13.30" y="168.00" font-size="5.4" fill="#3c3c3c" text-anchor="middle" font-weight="normal" >8</text>
<text x="13.30" y="194.32" font-size="5.4" fill="#3c3c3c" text-anchor="middle" font-weight="normal" >4</text>
<text x="13.30" y="220.64" font-size="5.4" fill="#3c3c3c" text-anchor="middle" font-weight="normal" >0</text>
<text x="13.30" y="246.96" font-size="5.4" fill="#3c3c3c" text-anchor="middle" font-weight="normal" >4</text>
<text x="13.30" y="273.28" font-size="5.4" fill="#3c3c3c" text-anchor="middle" font-weight="normal" >8</text>
<line x1="29.08" y1="285.00" x2="147.52" y2="285.00" stroke="#7a7a7a" stroke-width="0.8" />
<line x1="35.66" y1="285.00" x2="35.66" y2="287.20" stroke="#7a7a7a" stroke-width="0.7" />
<line x1="48.82" y1="285.00" x2="48.82" y2="287.20" stroke="#7a7a7a" stroke-width="0.7" />
<line x1="61.98" y1="285.00" x2="61.98" y2="287.20" stroke="#7a7a7a" stroke-width="0.7" />
<line x1="75.14" y1="285.00" x2="75.14" y2="287.20" stroke="#7a7a7a" stroke-width="0.7" />
<line x1="88.30" y1="285.00" x2="88.30" y2="287.20" stroke="#7a7a7a" stroke-width="0.7" />
<line x1="101.46" y1="285.00" x2="101.46" y2="287.20" stroke="#7a7a7a" stroke-width="0.7" />
<line x1="114.62" y1="285.00" x2="114.62" y2="287.20" stroke="#7a7a7a" stroke-width="0.7" />
<line x1="127.78" y1="285.00" x2="127.78" y2="287.20" stroke="#7a7a7a" stroke-width="0.7" />
<line x1="140.94" y1="285.00" x2="140.94" y2="287.20" stroke="#7a7a7a" stroke-width="0.7" />
<text x="35.66" y="292.30" font-size="5.4" fill="#3c3c3c" text-anchor="middle" font-weight="normal" >8</text>
<text x="61.98" y="292.30" font-size="5.4" fill="#3c3c3c" text-anchor="middle" font-weight="normal" >4</text>
<text x="88.30" y="292.30" font-size="5.4" fill="#3c3c3c" text-anchor="middle" font-weight="normal" >0</text>
<text x="114.62" y="292.30" font-size="5.4" fill="#3c3c3c" text-anchor="middle" font-weight="normal" >4</text>
<text x="140.94" y="292.30" font-size="5.4" fill="#3c3c3c" text-anchor="middle" font-weight="normal" >8</text>
<clipPath id="c1"><circle cx="88.3" cy="218.7" r="59.0"/></clipPath>
<g clip-path="url(#c1)">
<defs><filter id="mb" x="-10%" y="-10%" width="120%" height="120%"><feGaussianBlur stdDeviation="1.1"/></filter><filter id="mb2" x="-10%" y="-10%" width="120%" height="120%"><feGaussianBlur stdDeviation="2.2"/></filter><filter id="mb05" x="-10%" y="-10%" width="120%" height="120%"><feGaussianBlur stdDeviation="0.6"/></filter><filter id="mb4" x="-20%" y="-20%" width="140%" height="140%"><feGaussianBlur stdDeviation="4"/></filter></defs>
<defs><radialGradient id="g2" gradientUnits="userSpaceOnUse" cx="92.30" cy="218.70" r="61.00" fx="92.30" fy="218.70"><stop offset="0" stop-color="#00e4f4"/><stop offset="0.7" stop-color="#00dcff"/><stop offset="0.8" stop-color="#00bcff"/><stop offset="0.87" stop-color="#0098ff"/><stop offset="0.93" stop-color="#0070f8"/><stop offset="0.97" stop-color="#0050e8"/><stop offset="1" stop-color="#1a34d0"/></radialGradient></defs>
<circle cx="88.3" cy="218.7" r="60.0" fill="url(#g2)"/>
<path d="M48.3,173.7 A59,59 0 0,0 53.3,266.7" fill="none" stroke="#1020c0" stroke-width="5" opacity="0.35" filter="url(#mb2)"/>
<g filter="url(#mb)">
<path d="M68.30,167.70 C71.97,166.70 82.72,165.95 88.30,165.70 C93.88,165.45 98.02,165.67 101.80,166.20 C105.58,166.73 107.95,167.37 111.00,168.90 C114.05,170.43 117.05,172.78 120.10,175.40 C123.15,178.02 127.07,181.80 129.30,184.60 C131.53,187.40 132.63,189.75 133.50,192.20 C134.37,194.65 134.62,196.88 134.50,199.30 C134.38,201.72 134.08,204.13 132.80,206.70 C131.52,209.27 128.72,212.03 126.80,214.70 C124.88,217.37 122.58,220.53 121.30,222.70 C120.02,224.87 120.10,225.78 119.10,227.70 C118.10,229.62 117.33,231.87 115.30,234.20 C113.27,236.53 109.90,239.65 106.90,241.70 C103.90,243.75 100.40,245.33 97.30,246.50 C94.20,247.67 91.30,248.17 88.30,248.70 C85.30,249.23 82.57,250.20 79.30,249.70 C76.03,249.20 71.23,248.37 68.70,245.70 C66.17,243.03 66.08,237.00 64.10,233.70 C62.12,230.40 58.60,228.57 56.80,225.90 C55.00,223.23 54.13,220.23 53.30,217.70 C52.47,215.17 52.13,213.87 51.80,210.70 C51.47,207.53 51.22,201.95 51.30,198.70 C51.38,195.45 51.72,193.45 52.30,191.20 C52.88,188.95 53.22,186.78 54.80,185.20 C56.38,183.62 59.97,182.95 61.80,181.70 C63.63,180.45 65.05,179.37 65.80,177.70 C66.55,176.03 65.88,173.37 66.30,171.70 C66.72,170.03 64.63,168.70 68.30,167.70 Z" fill="#00e0b4" />
<path d="M70.30,170.20 C73.77,168.92 83.13,168.78 88.30,168.70 C93.47,168.62 97.63,169.03 101.30,169.70 C104.97,170.37 107.47,171.20 110.30,172.70 C113.13,174.20 115.63,176.37 118.30,178.70 C120.97,181.03 124.38,184.03 126.30,186.70 C128.22,189.37 129.22,192.20 129.80,194.70 C130.38,197.20 130.63,199.20 129.80,201.70 C128.97,204.20 126.63,207.20 124.80,209.70 C122.97,212.20 120.30,214.20 118.80,216.70 C117.30,219.20 117.22,222.20 115.80,224.70 C114.38,227.20 112.38,229.53 110.30,231.70 C108.22,233.87 105.80,236.12 103.30,237.70 C100.80,239.28 98.13,240.45 95.30,241.20 C92.47,241.95 89.30,242.28 86.30,242.20 C83.30,242.12 79.80,241.95 77.30,240.70 C74.80,239.45 73.47,236.95 71.30,234.70 C69.13,232.45 66.63,229.53 64.30,227.20 C61.97,224.87 58.90,223.05 57.30,220.70 C55.70,218.35 54.98,215.58 54.70,213.10 C54.42,210.62 55.60,208.10 55.60,205.80 C55.60,203.50 55.02,201.45 54.70,199.30 C54.38,197.15 53.55,194.88 53.70,192.90 C53.85,190.92 54.07,188.78 55.60,187.40 C57.13,186.02 60.77,185.52 62.90,184.60 C65.03,183.68 67.63,183.27 68.40,181.90 C69.17,180.53 67.18,178.35 67.50,176.40 C67.82,174.45 66.83,171.48 70.30,170.20 Z" fill="#3cd63c" />
<path d="M73.50,176.36 C76.41,175.28 84.28,175.17 88.62,175.10 C92.96,175.03 96.46,175.38 99.54,175.94 C102.62,176.50 104.72,177.20 107.10,178.46 C109.48,179.72 111.58,181.54 113.82,183.50 C116.06,185.46 118.93,187.98 120.54,190.22 C122.15,192.46 122.99,194.84 123.48,196.94 C123.97,199.04 124.18,200.72 123.48,202.82 C122.78,204.92 120.82,207.44 119.28,209.54 C117.74,211.64 115.50,213.32 114.24,215.42 C112.98,217.52 112.91,220.04 111.72,222.14 C110.53,224.24 108.85,226.20 107.10,228.02 C105.35,229.84 103.32,231.73 101.22,233.06 C99.12,234.39 96.88,235.37 94.50,236.00 C92.12,236.63 89.46,236.91 86.94,236.84 C84.42,236.77 81.48,236.63 79.38,235.58 C77.28,234.53 76.16,232.43 74.34,230.54 C72.52,228.65 70.42,226.20 68.46,224.24 C66.50,222.28 63.92,220.75 62.58,218.78 C61.24,216.81 60.63,214.48 60.40,212.40 C60.16,210.31 61.15,208.20 61.15,206.26 C61.15,204.33 60.66,202.61 60.40,200.80 C60.13,199.00 59.43,197.09 59.56,195.43 C59.68,193.76 59.86,191.97 61.15,190.81 C62.44,189.65 65.49,189.23 67.28,188.46 C69.08,187.69 71.26,187.34 71.90,186.19 C72.55,185.04 70.88,183.21 71.15,181.57 C71.41,179.93 70.59,177.44 73.50,176.36 Z" fill="#50da30" />
<ellipse cx="89.8" cy="212.7" rx="27" ry="25" fill="#6cde24"/>
<ellipse cx="89.3" cy="212.7" rx="23" ry="20.5" fill="#8ce618"/>
<ellipse cx="88.8" cy="211.7" rx="20" ry="17" fill="#b0ec0c"/>
<ellipse cx="88.8" cy="209.7" rx="17" ry="12" fill="#d8f200"/>
<ellipse cx="88.3" cy="208.2" rx="14.5" ry="8.5" fill="#f6f600"/>
<ellipse cx="87.3" cy="218.7" rx="4.5" ry="9" fill="#eef400"/>
</g>
</g>
<circle cx="88.3" cy="218.7" r="20.0" fill="none" stroke="#1c1c1c" stroke-width="0.6"/>
<circle cx="88.3" cy="218.7" r="34.4" fill="none" stroke="#1c1c1c" stroke-width="0.6"/>
<circle cx="88.3" cy="218.7" r="46.6" fill="none" stroke="#1c1c1c" stroke-width="0.6"/>
<circle cx="91.8" cy="220.2" r="25.8" fill="none" stroke="#f4f4f4" stroke-width="0.8" stroke-dasharray="1.9 1.9"/>
<circle cx="91.8" cy="220.2" r="25.8" fill="none" stroke="#1a1a1a" stroke-width="0.8" stroke-dasharray="1.9 1.9" stroke-dashoffset="1.9"/>
<circle cx="112.49" cy="166.83" r="0.55" fill="#111"/>
<circle cx="107.87" cy="164.92" r="0.55" fill="#111"/>
<circle cx="103.11" cy="163.42" r="0.55" fill="#111"/>
<circle cx="98.24" cy="162.34" r="0.55" fill="#111"/>
<circle cx="93.29" cy="161.69" r="0.55" fill="#111"/>
<circle cx="88.30" cy="161.47" r="0.55" fill="#111"/>
<circle cx="83.31" cy="161.69" r="0.55" fill="#111"/>
<circle cx="78.36" cy="162.34" r="0.55" fill="#111"/>
<circle cx="73.49" cy="163.42" r="0.55" fill="#111"/>
<circle cx="68.73" cy="164.92" r="0.55" fill="#111"/>
<circle cx="64.11" cy="166.83" r="0.55" fill="#111"/>
<line x1="88.90" y1="199.30" x2="88.30" y2="218.70" stroke="#8a0a0a" stroke-width="1.5" />
<line x1="88.30" y1="218.70" x2="90.10" y2="238.50" stroke="#8a0a0a" stroke-width="1.5" />
<line x1="99.50" y1="202.30" x2="106.60" y2="191.00" stroke="#8a0a0a" stroke-width="1.5" />
<line x1="77.00" y1="235.40" x2="69.30" y2="246.70" stroke="#8a0a0a" stroke-width="1.5" />
<line x1="99.40" y1="173.70" x2="96.60" y2="187.90" stroke="#8a0a0a" stroke-width="1.5" />
<line x1="96.60" y1="250.00" x2="99.40" y2="264.10" stroke="#8a0a0a" stroke-width="1.5" />
<line x1="88.30" y1="218.70" x2="70.30" y2="228.20" stroke="#101080" stroke-width="1.5" />
<line x1="88.30" y1="218.70" x2="101.90" y2="231.90" stroke="#101080" stroke-width="1.5" />
<line x1="60.40" y1="200.00" x2="71.70" y2="207.70" stroke="#101080" stroke-width="1.5" />
<line x1="104.90" y1="230.10" x2="115.60" y2="237.20" stroke="#101080" stroke-width="1.5" />
<line x1="41.60" y1="221.20" x2="55.20" y2="219.90" stroke="#101080" stroke-width="1.5" />
<line x1="121.00" y1="224.60" x2="133.80" y2="227.40" stroke="#101080" stroke-width="1.5" />
<rect x="87.20" y="176.80" width="9.40" height="5.40" fill="#fff4fa" stroke="none" stroke-width="1" fill-opacity="0.92"/>
<text x="91.90" y="181.35" font-size="5.0" fill="#f02848" text-anchor="middle" font-weight="normal" textLength="8.6" lengthAdjust="spacingAndGlyphs">48.0</text>
<rect x="94.10" y="191.80" width="9.40" height="5.40" fill="#fff4fa" stroke="none" stroke-width="1" fill-opacity="0.92"/>
<text x="98.80" y="196.35" font-size="5.0" fill="#f02848" text-anchor="middle" font-weight="normal" textLength="8.6" lengthAdjust="spacingAndGlyphs">49.6</text>
<rect x="83.80" y="206.30" width="9.40" height="5.40" fill="#fff4fa" stroke="none" stroke-width="1" fill-opacity="0.92"/>
<text x="88.50" y="210.85" font-size="5.0" fill="#f02848" text-anchor="middle" font-weight="normal" textLength="8.6" lengthAdjust="spacingAndGlyphs">50.7</text>
<rect x="58.00" y="205.60" width="9.40" height="5.40" fill="#f4f4ff" stroke="none" stroke-width="1" fill-opacity="0.92"/>
<text x="62.70" y="210.15" font-size="5.0" fill="#3828e0" text-anchor="middle" font-weight="normal" textLength="8.6" lengthAdjust="spacingAndGlyphs">49.3</text>
<rect x="44.30" y="223.80" width="9.40" height="5.40" fill="#f4f4ff" stroke="none" stroke-width="1" fill-opacity="0.92"/>
<text x="49.00" y="228.35" font-size="5.0" fill="#3828e0" text-anchor="middle" font-weight="normal" textLength="8.6" lengthAdjust="spacingAndGlyphs">47.0</text>
<rect x="74.00" y="219.60" width="9.40" height="5.40" fill="#f4f4ff" stroke="none" stroke-width="1" fill-opacity="0.92"/>
<text x="78.70" y="224.15" font-size="5.0" fill="#3828e0" text-anchor="middle" font-weight="normal" textLength="8.6" lengthAdjust="spacingAndGlyphs">48.9</text>
<rect x="83.40" y="225.30" width="9.40" height="5.40" fill="#fff4fa" stroke="none" stroke-width="1" fill-opacity="0.92"/>
<text x="88.10" y="229.85" font-size="5.0" fill="#f02848" text-anchor="middle" font-weight="normal" textLength="8.6" lengthAdjust="spacingAndGlyphs">49.0</text>
<rect x="90.40" y="222.90" width="9.40" height="5.40" fill="#f4f4ff" stroke="none" stroke-width="1" fill-opacity="0.92"/>
<text x="95.10" y="227.45" font-size="5.0" fill="#3828e0" text-anchor="middle" font-weight="normal" textLength="8.6" lengthAdjust="spacingAndGlyphs">49.2</text>
<rect x="107.30" y="226.30" width="9.40" height="5.40" fill="#f4f4ff" stroke="none" stroke-width="1" fill-opacity="0.92"/>
<text x="112.00" y="230.85" font-size="5.0" fill="#3828e0" text-anchor="middle" font-weight="normal" textLength="8.6" lengthAdjust="spacingAndGlyphs">48.5</text>
<rect x="122.90" y="217.60" width="9.40" height="5.40" fill="#f4f4ff" stroke="none" stroke-width="1" fill-opacity="0.92"/>
<text x="127.60" y="222.15" font-size="5.0" fill="#3828e0" text-anchor="middle" font-weight="normal" textLength="8.6" lengthAdjust="spacingAndGlyphs">47.9</text>
<rect x="72.70" y="239.80" width="9.40" height="5.40" fill="#fff4fa" stroke="none" stroke-width="1" fill-opacity="0.92"/>
<text x="77.40" y="244.35" font-size="5.0" fill="#f02848" text-anchor="middle" font-weight="normal" textLength="8.6" lengthAdjust="spacingAndGlyphs">48.6</text>
<rect x="97.50" y="253.00" width="9.40" height="5.40" fill="#fff4fa" stroke="none" stroke-width="1" fill-opacity="0.92"/>
<text x="102.20" y="257.55" font-size="5.0" fill="#f02848" text-anchor="middle" font-weight="normal" textLength="8.6" lengthAdjust="spacingAndGlyphs">48.1</text>
<text x="150.80" y="218.70" font-size="5.0" fill="#333" text-anchor="middle" dominant-baseline="central" transform="rotate(90.0 150.80 218.70)">0°</text>
<text x="142.43" y="187.45" font-size="5.0" fill="#333" text-anchor="middle" dominant-baseline="central" transform="rotate(60.0 142.43 187.45)">30°</text>
<text x="119.55" y="164.57" font-size="5.0" fill="#333" text-anchor="middle" dominant-baseline="central" transform="rotate(30.0 119.55 164.57)">60°</text>
<text x="88.30" y="156.20" font-size="5.0" fill="#333" text-anchor="middle" dominant-baseline="central" transform="rotate(0.0 88.30 156.20)">90°</text>
<text x="57.05" y="164.57" font-size="5.0" fill="#333" text-anchor="middle" dominant-baseline="central" transform="rotate(-30.0 57.05 164.57)">120°</text>
<text x="34.17" y="187.45" font-size="5.0" fill="#333" text-anchor="middle" dominant-baseline="central" transform="rotate(-60.0 34.17 187.45)">150°</text>
<text x="25.80" y="218.70" font-size="5.0" fill="#333" text-anchor="middle" dominant-baseline="central" transform="rotate(-90.0 25.80 218.70)">180°</text>
<text x="34.17" y="249.95" font-size="5.0" fill="#333" text-anchor="middle" dominant-baseline="central" transform="rotate(60.0 34.17 249.95)">210°</text>
<text x="57.05" y="272.83" font-size="5.0" fill="#333" text-anchor="middle" dominant-baseline="central" transform="rotate(30.0 57.05 272.83)">240°</text>
<text x="88.30" y="281.20" font-size="5.0" fill="#333" text-anchor="middle" dominant-baseline="central" transform="rotate(0.0 88.30 281.20)">270°</text>
<text x="119.55" y="272.83" font-size="5.0" fill="#333" text-anchor="middle" dominant-baseline="central" transform="rotate(-30.0 119.55 272.83)">300°</text>
<text x="142.43" y="249.95" font-size="5.0" fill="#333" text-anchor="middle" dominant-baseline="central" transform="rotate(-60.0 142.43 249.95)">330°</text>
<line x1="144.52" y1="203.64" x2="147.22" y2="202.91" stroke="#222" stroke-width="0.7" />
<line x1="129.45" y1="177.55" x2="131.43" y2="175.57" stroke="#222" stroke-width="0.7" />
<line x1="103.36" y1="162.48" x2="104.09" y2="159.78" stroke="#222" stroke-width="0.7" />
<line x1="73.24" y1="162.48" x2="72.51" y2="159.78" stroke="#222" stroke-width="0.7" />
<line x1="47.15" y1="177.55" x2="45.17" y2="175.57" stroke="#222" stroke-width="0.7" />
<line x1="32.08" y1="203.64" x2="29.38" y2="202.91" stroke="#222" stroke-width="0.7" />
<line x1="32.08" y1="233.76" x2="29.38" y2="234.49" stroke="#222" stroke-width="0.7" />
<line x1="47.15" y1="259.85" x2="45.17" y2="261.83" stroke="#222" stroke-width="0.7" />
<line x1="73.24" y1="274.92" x2="72.51" y2="277.62" stroke="#222" stroke-width="0.7" />
<line x1="103.36" y1="274.92" x2="104.09" y2="277.62" stroke="#222" stroke-width="0.7" />
<line x1="129.45" y1="259.85" x2="131.43" y2="261.83" stroke="#222" stroke-width="0.7" />
<line x1="144.52" y1="233.76" x2="147.22" y2="234.49" stroke="#222" stroke-width="0.7" />
<circle cx="33.10" cy="158.90" r="2.70" fill="none" stroke="#222" stroke-width="0.81"/>
<line x1="34.99" y1="160.79" x2="37.28" y2="163.22" stroke="#222" stroke-width="1.1340000000000001" />
<text x="33.60" y="166.90" font-size="5.4" fill="#222" text-anchor="middle" font-weight="normal" textLength="9.4" lengthAdjust="spacingAndGlyphs">9mm</text>
<text x="148.70" y="164.20" font-size="9.6" fill="#000" text-anchor="end" font-weight="bold" >OD</text>
<text x="32.00" y="282.10" font-size="7.0" fill="#333" text-anchor="middle" font-weight="normal" >T</text>
<text x="144.60" y="282.10" font-size="7.0" fill="#333" text-anchor="middle" font-weight="normal" >N</text>
<rect x="176.00" y="141.80" width="152.00" height="150.70" fill="#efefef" stroke="none" stroke-width="1" />
<line x1="177.00" y1="154.30" x2="327.00" y2="154.30" stroke="#a8a8a8" stroke-width="0.8" />
<text x="252.30" y="149.50" font-size="5.1" fill="#333" text-anchor="middle" font-weight="normal" textLength="36.7" lengthAdjust="spacingAndGlyphs">Corneal Thickness</text>
<rect x="249.50" y="153.30" width="17.00" height="2.50" fill="#efefef" stroke="none" stroke-width="1" />
<line x1="188.40" y1="158.48" x2="188.40" y2="278.92" stroke="#7a7a7a" stroke-width="0.8" />
<line x1="186.20" y1="166.06" x2="188.40" y2="166.06" stroke="#7a7a7a" stroke-width="0.7" />
<line x1="186.20" y1="179.22" x2="188.40" y2="179.22" stroke="#7a7a7a" stroke-width="0.7" />
<line x1="186.20" y1="192.38" x2="188.40" y2="192.38" stroke="#7a7a7a" stroke-width="0.7" />
<line x1="186.20" y1="205.54" x2="188.40" y2="205.54" stroke="#7a7a7a" stroke-width="0.7" />
<line x1="186.20" y1="218.70" x2="188.40" y2="218.70" stroke="#7a7a7a" stroke-width="0.7" />
<line x1="186.20" y1="231.86" x2="188.40" y2="231.86" stroke="#7a7a7a" stroke-width="0.7" />
<line x1="186.20" y1="245.02" x2="188.40" y2="245.02" stroke="#7a7a7a" stroke-width="0.7" />
<line x1="186.20" y1="258.18" x2="188.40" y2="258.18" stroke="#7a7a7a" stroke-width="0.7" />
<line x1="186.20" y1="271.34" x2="188.40" y2="271.34" stroke="#7a7a7a" stroke-width="0.7" />
<text x="183.00" y="168.00" font-size="5.4" fill="#3c3c3c" text-anchor="middle" font-weight="normal" >8</text>
<text x="183.00" y="194.32" font-size="5.4" fill="#3c3c3c" text-anchor="middle" font-weight="normal" >4</text>
<text x="183.00" y="220.64" font-size="5.4" fill="#3c3c3c" text-anchor="middle" font-weight="normal" >0</text>
<text x="183.00" y="246.96" font-size="5.4" fill="#3c3c3c" text-anchor="middle" font-weight="normal" >4</text>
<text x="183.00" y="273.28" font-size="5.4" fill="#3c3c3c" text-anchor="middle" font-weight="normal" >8</text>
<line x1="198.78" y1="285.00" x2="317.22" y2="285.00" stroke="#7a7a7a" stroke-width="0.8" />
<line x1="205.36" y1="285.00" x2="205.36" y2="287.20" stroke="#7a7a7a" stroke-width="0.7" />
<line x1="218.52" y1="285.00" x2="218.52" y2="287.20" stroke="#7a7a7a" stroke-width="0.7" />
<line x1="231.68" y1="285.00" x2="231.68" y2="287.20" stroke="#7a7a7a" stroke-width="0.7" />
<line x1="244.84" y1="285.00" x2="244.84" y2="287.20" stroke="#7a7a7a" stroke-width="0.7" />
<line x1="258.00" y1="285.00" x2="258.00" y2="287.20" stroke="#7a7a7a" stroke-width="0.7" />
<line x1="271.16" y1="285.00" x2="271.16" y2="287.20" stroke="#7a7a7a" stroke-width="0.7" />
<line x1="284.32" y1="285.00" x2="284.32" y2="287.20" stroke="#7a7a7a" stroke-width="0.7" />
<line x1="297.48" y1="285.00" x2="297.48" y2="287.20" stroke="#7a7a7a" stroke-width="0.7" />
<line x1="310.64" y1="285.00" x2="310.64" y2="287.20" stroke="#7a7a7a" stroke-width="0.7" />
<text x="205.36" y="292.30" font-size="5.4" fill="#3c3c3c" text-anchor="middle" font-weight="normal" >8</text>
<text x="231.68" y="292.30" font-size="5.4" fill="#3c3c3c" text-anchor="middle" font-weight="normal" >4</text>
<text x="258.00" y="292.30" font-size="5.4" fill="#3c3c3c" text-anchor="middle" font-weight="normal" >0</text>
<text x="284.32" y="292.30" font-size="5.4" fill="#3c3c3c" text-anchor="middle" font-weight="normal" >4</text>
<text x="310.64" y="292.30" font-size="5.4" fill="#3c3c3c" text-anchor="middle" font-weight="normal" >8</text>
<clipPath id="c3"><circle cx="258.0" cy="218.7" r="59.0"/></clipPath>
<g clip-path="url(#c3)">
<defs><radialGradient id="g4" gradientUnits="userSpaceOnUse" cx="258.00" cy="222.70" r="62.00" fx="258.00" fy="222.70"><stop offset="0" stop-color="#00e0f8"/><stop offset="0.42" stop-color="#00d6ff"/><stop offset="0.54" stop-color="#00b0ff"/><stop offset="0.64" stop-color="#0088ff"/><stop offset="0.73" stop-color="#0058ff"/><stop offset="0.81" stop-color="#1838f0"/><stop offset="0.87" stop-color="#2010d0"/><stop offset="0.93" stop-color="#3010b8"/><stop offset="0.97" stop-color="#5a1cc4"/><stop offset="1" stop-color="#7a28cc"/></radialGradient></defs>
<circle cx="258.0" cy="218.7" r="60.0" fill="url(#g4)"/>
<g filter="url(#mb2)">
<ellipse cx="254.0" cy="166.7" rx="46" ry="13" fill="#4a1cb0" opacity="0.8"/>
<ellipse cx="228.0" cy="176.7" rx="22" ry="12" fill="#6a2cc0" opacity="0.7"/>
<ellipse cx="204.0" cy="210.7" rx="8" ry="30" fill="#7a34c8" opacity="0.6"/>
</g><g filter="url(#mb)">
<ellipse cx="259.0" cy="226.7" rx="31" ry="25" fill="#00e4d0"/>
<ellipse cx="259.0" cy="228.39999999999998" rx="26" ry="19.5" fill="#20d858"/>
<ellipse cx="260.0" cy="228.7" rx="20" ry="14.5" fill="#40dc20"/>
<ellipse cx="261.5" cy="228.39999999999998" rx="14" ry="9.5" fill="#7ce400"/>
<ellipse cx="262.7" cy="228.7" rx="7" ry="4.5" fill="#a8f000"/>
</g>
</g>
<circle cx="296.29" cy="176.17" r="0.5" fill="#111"/>
<circle cx="292.84" cy="173.30" r="0.5" fill="#111"/>
<circle cx="289.17" cy="170.70" r="0.5" fill="#111"/>
<circle cx="285.31" cy="168.41" r="0.5" fill="#111"/>
<circle cx="281.28" cy="166.42" r="0.5" fill="#111"/>
<circle cx="277.10" cy="164.75" r="0.5" fill="#111"/>
<circle cx="272.81" cy="163.42" r="0.5" fill="#111"/>
<circle cx="268.43" cy="162.43" r="0.5" fill="#111"/>
<circle cx="263.98" cy="161.78" r="0.5" fill="#111"/>
<circle cx="259.50" cy="161.49" r="0.5" fill="#111"/>
<circle cx="255.00" cy="161.55" r="0.5" fill="#111"/>
<circle cx="250.53" cy="161.96" r="0.5" fill="#111"/>
<circle cx="246.10" cy="162.72" r="0.5" fill="#111"/>
<circle cx="241.75" cy="163.83" r="0.5" fill="#111"/>
<circle cx="237.49" cy="165.27" r="0.5" fill="#111"/>
<circle cx="233.36" cy="167.05" r="0.5" fill="#111"/>
<circle cx="229.39" cy="169.14" r="0.5" fill="#111"/>
<circle cx="225.58" cy="171.54" r="0.5" fill="#111"/>
<circle cx="221.98" cy="174.22" r="0.5" fill="#111"/>
<circle cx="293.93" cy="178.80" r="0.5" fill="#111"/>
<circle cx="290.68" cy="176.10" r="0.5" fill="#111"/>
<circle cx="287.24" cy="173.67" r="0.5" fill="#111"/>
<circle cx="283.62" cy="171.52" r="0.5" fill="#111"/>
<circle cx="279.84" cy="169.65" r="0.5" fill="#111"/>
<circle cx="275.92" cy="168.09" r="0.5" fill="#111"/>
<circle cx="271.90" cy="166.84" r="0.5" fill="#111"/>
<circle cx="267.78" cy="165.91" r="0.5" fill="#111"/>
<circle cx="263.61" cy="165.30" r="0.5" fill="#111"/>
<circle cx="259.41" cy="165.03" r="0.5" fill="#111"/>
<circle cx="255.19" cy="165.08" r="0.5" fill="#111"/>
<circle cx="250.99" cy="165.47" r="0.5" fill="#111"/>
<circle cx="246.84" cy="166.18" r="0.5" fill="#111"/>
<circle cx="242.75" cy="167.22" r="0.5" fill="#111"/>
<circle cx="238.76" cy="168.58" r="0.5" fill="#111"/>
<circle cx="234.89" cy="170.24" r="0.5" fill="#111"/>
<circle cx="231.16" cy="172.20" r="0.5" fill="#111"/>
<circle cx="227.59" cy="174.45" r="0.5" fill="#111"/>
<circle cx="224.21" cy="176.98" r="0.5" fill="#111"/>
<circle cx="291.56" cy="181.43" r="0.5" fill="#111"/>
<circle cx="288.53" cy="178.91" r="0.5" fill="#111"/>
<circle cx="285.31" cy="176.64" r="0.5" fill="#111"/>
<circle cx="281.93" cy="174.63" r="0.5" fill="#111"/>
<circle cx="278.40" cy="172.89" r="0.5" fill="#111"/>
<circle cx="274.74" cy="171.43" r="0.5" fill="#111"/>
<circle cx="270.98" cy="170.26" r="0.5" fill="#111"/>
<circle cx="267.14" cy="169.39" r="0.5" fill="#111"/>
<circle cx="263.24" cy="168.82" r="0.5" fill="#111"/>
<circle cx="259.31" cy="168.57" r="0.5" fill="#111"/>
<circle cx="255.38" cy="168.62" r="0.5" fill="#111"/>
<circle cx="251.45" cy="168.98" r="0.5" fill="#111"/>
<circle cx="247.57" cy="169.65" r="0.5" fill="#111"/>
<circle cx="243.76" cy="170.62" r="0.5" fill="#111"/>
<circle cx="240.03" cy="171.88" r="0.5" fill="#111"/>
<circle cx="236.41" cy="173.44" r="0.5" fill="#111"/>
<circle cx="232.93" cy="175.27" r="0.5" fill="#111"/>
<circle cx="229.59" cy="177.37" r="0.5" fill="#111"/>
<circle cx="226.44" cy="179.73" r="0.5" fill="#111"/>
<circle cx="262.0" cy="219.0" r="25.5" fill="none" stroke="#f4f4f4" stroke-width="0.8" stroke-dasharray="1.9 1.9"/>
<circle cx="262.0" cy="219.0" r="25.5" fill="none" stroke="#1a1a1a" stroke-width="0.8" stroke-dasharray="1.9 1.9" stroke-dashoffset="1.9"/>
<text x="258.00" y="220.50" font-size="5.2" fill="#000" text-anchor="middle" font-weight="normal" textLength="7.05" lengthAdjust="spacingAndGlyphs">586</text>
<text x="248.69" y="211.19" font-size="5.2" fill="#000" text-anchor="middle" font-weight="normal" textLength="7.05" lengthAdjust="spacingAndGlyphs">621</text>
<text x="267.31" y="211.19" font-size="5.2" fill="#000" text-anchor="middle" font-weight="normal" textLength="7.05" lengthAdjust="spacingAndGlyphs">615</text>
<text x="248.69" y="229.81" font-size="5.2" fill="#000" text-anchor="middle" font-weight="normal" textLength="7.05" lengthAdjust="spacingAndGlyphs">579</text>
<text x="267.31" y="229.81" font-size="5.2" fill="#000" text-anchor="middle" font-weight="normal" textLength="7.05" lengthAdjust="spacingAndGlyphs">576</text>
<text x="258.00" y="194.18" font-size="5.2" fill="#000" text-anchor="middle" font-weight="normal" textLength="7.05" lengthAdjust="spacingAndGlyphs">690</text>
<text x="239.39" y="201.89" font-size="5.2" fill="#000" text-anchor="middle" font-weight="normal" textLength="7.05" lengthAdjust="spacingAndGlyphs">680</text>
<text x="276.61" y="201.89" font-size="5.2" fill="#000" text-anchor="middle" font-weight="normal" textLength="7.05" lengthAdjust="spacingAndGlyphs">686</text>
<text x="231.68" y="220.50" font-size="5.2" fill="#000" text-anchor="middle" font-weight="normal" textLength="7.05" lengthAdjust="spacingAndGlyphs">635</text>
<text x="284.32" y="220.50" font-size="5.2" fill="#000" text-anchor="middle" font-weight="normal" textLength="7.05" lengthAdjust="spacingAndGlyphs">627</text>
<text x="239.39" y="239.11" font-size="5.2" fill="#000" text-anchor="middle" font-weight="normal" textLength="7.05" lengthAdjust="spacingAndGlyphs">596</text>
<text x="276.61" y="239.11" font-size="5.2" fill="#000" text-anchor="middle" font-weight="normal" textLength="7.05" lengthAdjust="spacingAndGlyphs">593</text>
<text x="258.00" y="246.82" font-size="5.2" fill="#000" text-anchor="middle" font-weight="normal" textLength="7.05" lengthAdjust="spacingAndGlyphs">605</text>
<text x="258.00" y="181.02" font-size="5.2" fill="#ffffff" text-anchor="middle" font-weight="normal" textLength="7.05" lengthAdjust="spacingAndGlyphs">763</text>
<text x="240.87" y="184.93" font-size="5.2" fill="#ffffff" text-anchor="middle" font-weight="normal" textLength="7.05" lengthAdjust="spacingAndGlyphs">763</text>
<text x="275.13" y="184.93" font-size="5.2" fill="#ffffff" text-anchor="middle" font-weight="normal" textLength="7.05" lengthAdjust="spacingAndGlyphs">759</text>
<text x="227.13" y="195.88" font-size="5.2" fill="#ffffff" text-anchor="middle" font-weight="normal" textLength="7.05" lengthAdjust="spacingAndGlyphs">753</text>
<text x="288.87" y="195.88" font-size="5.2" fill="#ffffff" text-anchor="middle" font-weight="normal" textLength="7.05" lengthAdjust="spacingAndGlyphs">732</text>
<text x="219.51" y="211.71" font-size="5.2" fill="#ffffff" text-anchor="middle" font-weight="normal" textLength="7.05" lengthAdjust="spacingAndGlyphs">726</text>
<text x="296.49" y="211.71" font-size="5.2" fill="#000" text-anchor="middle" font-weight="normal" textLength="7.05" lengthAdjust="spacingAndGlyphs">694</text>
<text x="219.51" y="229.29" font-size="5.2" fill="#000" text-anchor="middle" font-weight="normal" textLength="7.05" lengthAdjust="spacingAndGlyphs">678</text>
<text x="296.49" y="229.29" font-size="5.2" fill="#000" text-anchor="middle" font-weight="normal" textLength="7.05" lengthAdjust="spacingAndGlyphs">665</text>
<text x="227.13" y="245.12" font-size="5.2" fill="#000" text-anchor="middle" font-weight="normal" textLength="7.05" lengthAdjust="spacingAndGlyphs">649</text>
<text x="288.87" y="245.12" font-size="5.2" fill="#000" text-anchor="middle" font-weight="normal" textLength="7.05" lengthAdjust="spacingAndGlyphs">646</text>
<text x="240.87" y="256.07" font-size="5.2" fill="#000" text-anchor="middle" font-weight="normal" textLength="7.05" lengthAdjust="spacingAndGlyphs">646</text>
<text x="275.13" y="256.07" font-size="5.2" fill="#000" text-anchor="middle" font-weight="normal" textLength="7.05" lengthAdjust="spacingAndGlyphs">647</text>
<text x="258.00" y="259.98" font-size="5.2" fill="#000" text-anchor="middle" font-weight="normal" textLength="7.05" lengthAdjust="spacingAndGlyphs">649</text>
<circle cx="260.9" cy="231.2" r="1.8" fill="none" stroke="#111" stroke-width="0.7"/>
<text x="320.50" y="218.70" font-size="5.0" fill="#333" text-anchor="middle" dominant-baseline="central" transform="rotate(90.0 320.50 218.70)">0°</text>
<text x="312.13" y="187.45" font-size="5.0" fill="#333" text-anchor="middle" dominant-baseline="central" transform="rotate(60.0 312.13 187.45)">30°</text>
<text x="289.25" y="164.57" font-size="5.0" fill="#333" text-anchor="middle" dominant-baseline="central" transform="rotate(30.0 289.25 164.57)">60°</text>
<text x="258.00" y="156.20" font-size="5.0" fill="#333" text-anchor="middle" dominant-baseline="central" transform="rotate(0.0 258.00 156.20)">90°</text>
<text x="226.75" y="164.57" font-size="5.0" fill="#333" text-anchor="middle" dominant-baseline="central" transform="rotate(-30.0 226.75 164.57)">120°</text>
<text x="203.87" y="187.45" font-size="5.0" fill="#333" text-anchor="middle" dominant-baseline="central" transform="rotate(-60.0 203.87 187.45)">150°</text>
<text x="195.50" y="218.70" font-size="5.0" fill="#333" text-anchor="middle" dominant-baseline="central" transform="rotate(-90.0 195.50 218.70)">180°</text>
<text x="203.87" y="249.95" font-size="5.0" fill="#333" text-anchor="middle" dominant-baseline="central" transform="rotate(60.0 203.87 249.95)">210°</text>
<text x="226.75" y="272.83" font-size="5.0" fill="#333" text-anchor="middle" dominant-baseline="central" transform="rotate(30.0 226.75 272.83)">240°</text>
<text x="258.00" y="281.20" font-size="5.0" fill="#333" text-anchor="middle" dominant-baseline="central" transform="rotate(0.0 258.00 281.20)">270°</text>
<text x="289.25" y="272.83" font-size="5.0" fill="#333" text-anchor="middle" dominant-baseline="central" transform="rotate(-30.0 289.25 272.83)">300°</text>
<text x="312.13" y="249.95" font-size="5.0" fill="#333" text-anchor="middle" dominant-baseline="central" transform="rotate(-60.0 312.13 249.95)">330°</text>
<line x1="314.22" y1="203.64" x2="316.92" y2="202.91" stroke="#222" stroke-width="0.7" />
<line x1="299.15" y1="177.55" x2="301.13" y2="175.57" stroke="#222" stroke-width="0.7" />
<line x1="273.06" y1="162.48" x2="273.79" y2="159.78" stroke="#222" stroke-width="0.7" />
<line x1="242.94" y1="162.48" x2="242.21" y2="159.78" stroke="#222" stroke-width="0.7" />
<line x1="216.85" y1="177.55" x2="214.87" y2="175.57" stroke="#222" stroke-width="0.7" />
<line x1="201.78" y1="203.64" x2="199.08" y2="202.91" stroke="#222" stroke-width="0.7" />
<line x1="201.78" y1="233.76" x2="199.08" y2="234.49" stroke="#222" stroke-width="0.7" />
<line x1="216.85" y1="259.85" x2="214.87" y2="261.83" stroke="#222" stroke-width="0.7" />
<line x1="242.94" y1="274.92" x2="242.21" y2="277.62" stroke="#222" stroke-width="0.7" />
<line x1="273.06" y1="274.92" x2="273.79" y2="277.62" stroke="#222" stroke-width="0.7" />
<line x1="299.15" y1="259.85" x2="301.13" y2="261.83" stroke="#222" stroke-width="0.7" />
<line x1="314.22" y1="233.76" x2="316.92" y2="234.49" stroke="#222" stroke-width="0.7" />
<circle cx="202.80" cy="158.90" r="2.70" fill="none" stroke="#222" stroke-width="0.81"/>
<line x1="204.69" y1="160.79" x2="206.99" y2="163.22" stroke="#222" stroke-width="1.1340000000000001" />
<text x="203.30" y="166.90" font-size="5.4" fill="#222" text-anchor="middle" font-weight="normal" textLength="9.4" lengthAdjust="spacingAndGlyphs">9mm</text>
<text x="318.40" y="164.20" font-size="9.6" fill="#000" text-anchor="end" font-weight="bold" >OD</text>
<text x="201.70" y="282.10" font-size="7.0" fill="#333" text-anchor="middle" font-weight="normal" >T</text>
<text x="314.30" y="282.10" font-size="7.0" fill="#333" text-anchor="middle" font-weight="normal" >N</text>
<rect x="344.70" y="141.80" width="151.70" height="150.70" fill="#efefef" stroke="none" stroke-width="1" />
<line x1="345.70" y1="154.50" x2="495.40" y2="154.50" stroke="#a8a8a8" stroke-width="0.8" />
<text x="420.85" y="146.30" font-size="5.1" fill="#333" text-anchor="middle" font-weight="normal" textLength="32.6" lengthAdjust="spacingAndGlyphs">Elevation (Front)</text>
<text x="420.85" y="152.60" font-size="5.1" fill="#333" text-anchor="middle" font-weight="normal" textLength="52" lengthAdjust="spacingAndGlyphs">BFS=6.93 Float, Dia=8.00</text>
<rect x="418.70" y="153.50" width="17.00" height="2.50" fill="#efefef" stroke="none" stroke-width="1" />
<line x1="357.60" y1="158.78" x2="357.60" y2="279.22" stroke="#7a7a7a" stroke-width="0.8" />
<line x1="355.40" y1="166.36" x2="357.60" y2="166.36" stroke="#7a7a7a" stroke-width="0.7" />
<line x1="355.40" y1="179.52" x2="357.60" y2="179.52" stroke="#7a7a7a" stroke-width="0.7" />
<line x1="355.40" y1="192.68" x2="357.60" y2="192.68" stroke="#7a7a7a" stroke-width="0.7" />
<line x1="355.40" y1="205.84" x2="357.60" y2="205.84" stroke="#7a7a7a" stroke-width="0.7" />
<line x1="355.40" y1="219.00" x2="357.60" y2="219.00" stroke="#7a7a7a" stroke-width="0.7" />
<line x1="355.40" y1="232.16" x2="357.60" y2="232.16" stroke="#7a7a7a" stroke-width="0.7" />
<line x1="355.40" y1="245.32" x2="357.60" y2="245.32" stroke="#7a7a7a" stroke-width="0.7" />
<line x1="355.40" y1="258.48" x2="357.60" y2="258.48" stroke="#7a7a7a" stroke-width="0.7" />
<line x1="355.40" y1="271.64" x2="357.60" y2="271.64" stroke="#7a7a7a" stroke-width="0.7" />
<text x="352.20" y="168.30" font-size="5.4" fill="#3c3c3c" text-anchor="middle" font-weight="normal" >8</text>
<text x="352.20" y="194.62" font-size="5.4" fill="#3c3c3c" text-anchor="middle" font-weight="normal" >4</text>
<text x="352.20" y="220.94" font-size="5.4" fill="#3c3c3c" text-anchor="middle" font-weight="normal" >0</text>
<text x="352.20" y="247.26" font-size="5.4" fill="#3c3c3c" text-anchor="middle" font-weight="normal" >4</text>
<text x="352.20" y="273.58" font-size="5.4" fill="#3c3c3c" text-anchor="middle" font-weight="normal" >8</text>
<line x1="367.98" y1="285.30" x2="486.42" y2="285.30" stroke="#7a7a7a" stroke-width="0.8" />
<line x1="374.56" y1="285.30" x2="374.56" y2="287.50" stroke="#7a7a7a" stroke-width="0.7" />
<line x1="387.72" y1="285.30" x2="387.72" y2="287.50" stroke="#7a7a7a" stroke-width="0.7" />
<line x1="400.88" y1="285.30" x2="400.88" y2="287.50" stroke="#7a7a7a" stroke-width="0.7" />
<line x1="414.04" y1="285.30" x2="414.04" y2="287.50" stroke="#7a7a7a" stroke-width="0.7" />
<line x1="427.20" y1="285.30" x2="427.20" y2="287.50" stroke="#7a7a7a" stroke-width="0.7" />
<line x1="440.36" y1="285.30" x2="440.36" y2="287.50" stroke="#7a7a7a" stroke-width="0.7" />
<line x1="453.52" y1="285.30" x2="453.52" y2="287.50" stroke="#7a7a7a" stroke-width="0.7" />
<line x1="466.68" y1="285.30" x2="466.68" y2="287.50" stroke="#7a7a7a" stroke-width="0.7" />
<line x1="479.84" y1="285.30" x2="479.84" y2="287.50" stroke="#7a7a7a" stroke-width="0.7" />
<text x="374.56" y="292.60" font-size="5.4" fill="#3c3c3c" text-anchor="middle" font-weight="normal" >8</text>
<text x="400.88" y="292.60" font-size="5.4" fill="#3c3c3c" text-anchor="middle" font-weight="normal" >4</text>
<text x="427.20" y="292.60" font-size="5.4" fill="#3c3c3c" text-anchor="middle" font-weight="normal" >0</text>
<text x="453.52" y="292.60" font-size="5.4" fill="#3c3c3c" text-anchor="middle" font-weight="normal" >4</text>
<text x="479.84" y="292.60" font-size="5.4" fill="#3c3c3c" text-anchor="middle" font-weight="normal" >8</text>
<clipPath id="c5"><circle cx="427.2" cy="219.0" r="59.0"/></clipPath>
<g clip-path="url(#c5)">
<defs><radialGradient id="g6" gradientUnits="userSpaceOnUse" cx="432.20" cy="219.00" r="61.00" fx="432.20" fy="219.00"><stop offset="0" stop-color="#ffff00"/><stop offset="0.7" stop-color="#ffff00"/><stop offset="0.8" stop-color="#ffe400"/><stop offset="0.88" stop-color="#ffc000"/><stop offset="0.95" stop-color="#ff9800"/><stop offset="1" stop-color="#ff6a00"/></radialGradient></defs>
<circle cx="427.2" cy="219.0" r="60.0" fill="url(#g6)"/>
<defs><radialGradient id="g7" gradientUnits="userSpaceOnUse" cx="367.20" cy="219.00" r="20.00" fx="367.20" fy="219.00"><stop offset="0" stop-color="#ff4000"/><stop offset="1" stop-color="#ff4000"/></radialGradient></defs>
<path d="M370.2,194.0 A59,59 0 0,0 370.2,244.0" fill="none" stroke="#ff5000" stroke-width="5" opacity="0.55" filter="url(#mb)"/>
<g filter="url(#mb05)">
<path d="M385.20,211.00 C386.78,209.42 390.53,209.58 393.20,209.50 C395.87,209.42 399.03,209.42 401.20,210.50 C403.37,211.58 405.28,214.08 406.20,216.00 C407.12,217.92 407.20,220.25 406.70,222.00 C406.20,223.75 405.28,225.58 403.20,226.50 C401.12,227.42 397.03,227.42 394.20,227.50 C391.37,227.58 387.95,228.42 386.20,227.00 C384.45,225.58 383.87,221.67 383.70,219.00 C383.53,216.33 383.62,212.58 385.20,211.00 Z" fill="#00d000" />
<path d="M405.20,210.00 C406.70,208.58 411.03,203.60 414.20,201.50 C417.37,199.40 420.70,197.98 424.20,197.40 C427.70,196.82 431.70,197.50 435.20,198.00 C438.70,198.50 442.53,199.57 445.20,200.40 C447.87,201.23 450.20,202.57 451.20,203.00" fill="none" stroke="#00d000" stroke-width="5.5" stroke-linecap="round" stroke-linejoin="round"/>
<path d="M406.20,221.20 C408.03,221.40 412.87,221.90 417.20,222.40 C421.53,222.90 427.53,223.60 432.20,224.20 C436.87,224.80 441.87,225.20 445.20,226.00 C448.53,226.80 451.03,228.50 452.20,229.00" fill="none" stroke="#00d000" stroke-width="3.0" stroke-linecap="round" stroke-linejoin="round"/>
<path d="M411.90,164.60 C414.98,163.60 421.07,163.22 424.40,163.10 C427.73,162.98 428.93,163.03 431.90,163.90 C434.87,164.77 438.02,166.08 442.20,168.30 C446.38,170.52 452.55,174.48 457.00,177.20 C461.45,179.92 465.93,181.88 468.90,184.60 C471.87,187.32 474.07,190.78 474.80,193.50 C475.53,196.22 474.53,199.17 473.30,200.90 C472.07,202.63 469.87,203.90 467.40,203.90 C464.93,203.90 461.72,202.50 458.50,200.90 C455.28,199.30 451.80,195.90 448.10,194.30 C444.40,192.70 440.25,191.75 436.30,191.30 C432.35,190.85 427.85,191.07 424.40,191.60 C420.95,192.13 418.32,192.95 415.60,194.50 C412.88,196.05 410.33,198.60 408.10,200.90 C405.87,203.20 404.42,206.68 402.20,208.30 C399.98,209.92 396.77,211.08 394.80,210.60 C392.83,210.12 390.88,208.25 390.40,205.40 C389.92,202.55 390.42,198.20 391.90,193.50 C393.38,188.80 396.97,181.27 399.30,177.20 C401.63,173.13 403.80,171.20 405.90,169.10 C408.00,167.00 408.82,165.60 411.90,164.60 Z" fill="#00d000" stroke="#00d000" stroke-width="5.6" stroke-linejoin="round"/>
<path d="M411.90,164.60 C414.98,163.60 421.07,163.22 424.40,163.10 C427.73,162.98 428.93,163.03 431.90,163.90 C434.87,164.77 438.02,166.08 442.20,168.30 C446.38,170.52 452.55,174.48 457.00,177.20 C461.45,179.92 465.93,181.88 468.90,184.60 C471.87,187.32 474.07,190.78 474.80,193.50 C475.53,196.22 474.53,199.17 473.30,200.90 C472.07,202.63 469.87,203.90 467.40,203.90 C464.93,203.90 461.72,202.50 458.50,200.90 C455.28,199.30 451.80,195.90 448.10,194.30 C444.40,192.70 440.25,191.75 436.30,191.30 C432.35,190.85 427.85,191.07 424.40,191.60 C420.95,192.13 418.32,192.95 415.60,194.50 C412.88,196.05 410.33,198.60 408.10,200.90 C405.87,203.20 404.42,206.68 402.20,208.30 C399.98,209.92 396.77,211.08 394.80,210.60 C392.83,210.12 390.88,208.25 390.40,205.40 C389.92,202.55 390.42,198.20 391.90,193.50 C393.38,188.80 396.97,181.27 399.30,177.20 C401.63,173.13 403.80,171.20 405.90,169.10 C408.00,167.00 408.82,165.60 411.90,164.60 Z" fill="#00e6ff"/>
<path d="M389.80,226.90 C391.60,225.98 394.28,225.35 398.30,225.30 C402.32,225.25 408.72,226.05 413.90,226.60 C419.08,227.15 424.48,228.03 429.40,228.60 C434.32,229.17 439.77,229.25 443.40,230.00 C447.03,230.75 449.38,231.42 451.20,233.10 C453.02,234.78 453.78,237.12 454.30,240.10 C454.82,243.08 454.82,247.63 454.30,251.00 C453.78,254.37 453.02,257.58 451.20,260.30 C449.38,263.02 447.03,265.62 443.40,267.30 C439.77,268.98 434.58,270.27 429.40,270.40 C424.22,270.53 417.48,269.52 412.30,268.10 C407.12,266.68 401.92,264.50 398.30,261.90 C394.68,259.30 392.40,255.87 390.60,252.50 C388.80,249.13 388.02,245.32 387.50,241.70 C386.98,238.08 387.12,233.27 387.50,230.80 C387.88,228.33 388.00,227.82 389.80,226.90 Z" fill="#00d000" stroke="#00d000" stroke-width="5.6" stroke-linejoin="round"/>
<path d="M389.80,226.90 C391.60,225.98 394.28,225.35 398.30,225.30 C402.32,225.25 408.72,226.05 413.90,226.60 C419.08,227.15 424.48,228.03 429.40,228.60 C434.32,229.17 439.77,229.25 443.40,230.00 C447.03,230.75 449.38,231.42 451.20,233.10 C453.02,234.78 453.78,237.12 454.30,240.10 C454.82,243.08 454.82,247.63 454.30,251.00 C453.78,254.37 453.02,257.58 451.20,260.30 C449.38,263.02 447.03,265.62 443.40,267.30 C439.77,268.98 434.58,270.27 429.40,270.40 C424.22,270.53 417.48,269.52 412.30,268.10 C407.12,266.68 401.92,264.50 398.30,261.90 C394.68,259.30 392.40,255.87 390.60,252.50 C388.80,249.13 388.02,245.32 387.50,241.70 C386.98,238.08 387.12,233.27 387.50,230.80 C387.88,228.33 388.00,227.82 389.80,226.90 Z" fill="#00e6ff"/>
<path d="M418.05,170.80 C419.59,170.30 422.63,170.11 424.30,170.05 C425.97,169.99 426.57,170.02 428.05,170.45 C429.53,170.88 431.11,171.54 433.20,172.65 C435.29,173.76 438.37,175.74 440.60,177.10 C442.82,178.46 445.07,179.44 446.55,180.80 C448.03,182.16 449.13,183.89 449.50,185.25 C449.87,186.61 449.37,188.08 448.75,188.95 C448.13,189.82 447.03,190.45 445.80,190.45 C444.57,190.45 442.96,189.75 441.35,188.95 C439.74,188.15 438.00,186.45 436.15,185.65 C434.30,184.85 432.23,184.38 430.25,184.15 C428.27,183.93 426.03,184.03 424.30,184.30 C422.57,184.57 421.26,184.97 419.90,185.75 C418.54,186.53 417.27,187.80 416.15,188.95 C415.03,190.10 414.31,191.84 413.20,192.65 C412.09,193.46 410.48,194.04 409.50,193.80 C408.52,193.56 407.54,192.62 407.30,191.20 C407.06,189.77 407.31,187.60 408.05,185.25 C408.79,182.90 410.58,179.13 411.75,177.10 C412.92,175.07 414.00,174.10 415.05,173.05 C416.10,172.00 416.51,171.30 418.05,170.80 Z" fill="#14dcff" />
<path d="M404.50,240.45 C405.40,239.99 406.74,239.68 408.75,239.65 C410.76,239.62 413.96,240.03 416.55,240.30 C419.14,240.58 421.84,241.02 424.30,241.30 C426.76,241.58 429.48,241.62 431.30,242.00 C433.12,242.38 434.29,242.71 435.20,243.55 C436.11,244.39 436.49,245.56 436.75,247.05 C437.01,248.54 437.01,250.82 436.75,252.50 C436.49,254.18 436.11,255.79 435.20,257.15 C434.29,258.51 433.12,259.81 431.30,260.65 C429.48,261.49 426.89,262.13 424.30,262.20 C421.71,262.27 418.34,261.76 415.75,261.05 C413.16,260.34 410.56,259.25 408.75,257.95 C406.94,256.65 405.80,254.93 404.90,253.25 C404.00,251.57 403.61,249.66 403.35,247.85 C403.09,246.04 403.16,243.63 403.35,242.40 C403.54,241.17 403.60,240.91 404.50,240.45 Z" fill="#14dcff" />
</g>
</g>
<circle cx="430.8" cy="221.2" r="25.8" fill="none" stroke="#f4f4f4" stroke-width="0.8" stroke-dasharray="1.9 1.9"/>
<circle cx="430.8" cy="221.2" r="25.8" fill="none" stroke="#1a1a1a" stroke-width="0.8" stroke-dasharray="1.9 1.9" stroke-dashoffset="1.9"/>
<circle cx="454.07" cy="168.47" r="0.55" fill="#111"/>
<circle cx="450.02" cy="166.52" r="0.55" fill="#111"/>
<circle cx="445.83" cy="164.89" r="0.55" fill="#111"/>
<circle cx="441.53" cy="163.59" r="0.55" fill="#111"/>
<circle cx="437.14" cy="162.64" r="0.55" fill="#111"/>
<circle cx="432.69" cy="162.03" r="0.55" fill="#111"/>
<circle cx="428.20" cy="161.78" r="0.55" fill="#111"/>
<circle cx="423.71" cy="161.88" r="0.55" fill="#111"/>
<circle cx="419.24" cy="162.33" r="0.55" fill="#111"/>
<circle cx="414.81" cy="163.13" r="0.55" fill="#111"/>
<circle cx="410.47" cy="164.27" r="0.55" fill="#111"/>
<circle cx="406.23" cy="165.75" r="0.55" fill="#111"/>
<circle cx="402.11" cy="167.56" r="0.55" fill="#111"/>
<text x="417.89" y="211.49" font-size="5.2" fill="#000" text-anchor="middle" font-weight="normal" textLength="4.70" lengthAdjust="spacingAndGlyphs">+3</text>
<text x="436.51" y="211.49" font-size="5.2" fill="#000" text-anchor="middle" font-weight="normal" textLength="4.70" lengthAdjust="spacingAndGlyphs">+4</text>
<text x="417.89" y="230.11" font-size="5.2" fill="#000" text-anchor="middle" font-weight="normal" textLength="4.70" lengthAdjust="spacingAndGlyphs">-5</text>
<text x="436.51" y="230.11" font-size="5.2" fill="#000" text-anchor="middle" font-weight="normal" textLength="4.70" lengthAdjust="spacingAndGlyphs">+1</text>
<text x="427.20" y="194.48" font-size="5.2" fill="#000" text-anchor="middle" font-weight="normal" textLength="4.70" lengthAdjust="spacingAndGlyphs">-2</text>
<text x="408.59" y="202.19" font-size="5.2" fill="#000" text-anchor="middle" font-weight="normal" textLength="4.70" lengthAdjust="spacingAndGlyphs">-3</text>
<text x="445.81" y="202.19" font-size="5.2" fill="#000" text-anchor="middle" font-weight="normal" textLength="4.70" lengthAdjust="spacingAndGlyphs">-4</text>
<text x="400.88" y="220.80" font-size="5.2" fill="#000" text-anchor="middle" font-weight="normal" textLength="2.35" lengthAdjust="spacingAndGlyphs">0</text>
<text x="453.52" y="220.80" font-size="5.2" fill="#000" text-anchor="middle" font-weight="normal" textLength="4.70" lengthAdjust="spacingAndGlyphs">+3</text>
<text x="408.59" y="239.41" font-size="5.2" fill="#000" text-anchor="middle" font-weight="normal" textLength="4.70" lengthAdjust="spacingAndGlyphs">-6</text>
<text x="445.81" y="239.41" font-size="5.2" fill="#000" text-anchor="middle" font-weight="normal" textLength="4.70" lengthAdjust="spacingAndGlyphs">-3</text>
<text x="427.20" y="247.12" font-size="5.2" fill="#000" text-anchor="middle" font-weight="normal" textLength="4.70" lengthAdjust="spacingAndGlyphs">-6</text>
<text x="427.20" y="181.32" font-size="5.2" fill="#000" text-anchor="middle" font-weight="normal" textLength="4.70" lengthAdjust="spacingAndGlyphs">-6</text>
<text x="410.07" y="185.23" font-size="5.2" fill="#000" text-anchor="middle" font-weight="normal" textLength="4.70" lengthAdjust="spacingAndGlyphs">-6</text>
<text x="444.33" y="185.23" font-size="5.2" fill="#000" text-anchor="middle" font-weight="normal" textLength="4.70" lengthAdjust="spacingAndGlyphs">-5</text>
<text x="396.33" y="196.18" font-size="5.2" fill="#000" text-anchor="middle" font-weight="normal" textLength="4.70" lengthAdjust="spacingAndGlyphs">-6</text>
<text x="458.07" y="196.18" font-size="5.2" fill="#000" text-anchor="middle" font-weight="normal" textLength="4.70" lengthAdjust="spacingAndGlyphs">-6</text>
<text x="388.71" y="212.01" font-size="5.2" fill="#000" text-anchor="middle" font-weight="normal" textLength="4.70" lengthAdjust="spacingAndGlyphs">-1</text>
<text x="465.69" y="212.01" font-size="5.2" fill="#000" text-anchor="middle" font-weight="normal" textLength="2.35" lengthAdjust="spacingAndGlyphs">0</text>
<text x="388.71" y="229.59" font-size="5.2" fill="#000" text-anchor="middle" font-weight="normal" textLength="2.35" lengthAdjust="spacingAndGlyphs">0</text>
<text x="465.69" y="229.59" font-size="5.2" fill="#000" text-anchor="middle" font-weight="normal" textLength="4.70" lengthAdjust="spacingAndGlyphs">+5</text>
<text x="396.33" y="245.42" font-size="5.2" fill="#000" text-anchor="middle" font-weight="normal" textLength="4.70" lengthAdjust="spacingAndGlyphs">-5</text>
<text x="458.07" y="245.42" font-size="5.2" fill="#000" text-anchor="middle" font-weight="normal" textLength="4.70" lengthAdjust="spacingAndGlyphs">-1</text>
<text x="410.07" y="256.37" font-size="5.2" fill="#000" text-anchor="middle" font-weight="normal" textLength="4.70" lengthAdjust="spacingAndGlyphs">-9</text>
<text x="444.33" y="256.37" font-size="5.2" fill="#000" text-anchor="middle" font-weight="normal" textLength="4.70" lengthAdjust="spacingAndGlyphs">-6</text>
<text x="427.20" y="260.28" font-size="5.2" fill="#000" text-anchor="middle" font-weight="normal" textLength="4.70" lengthAdjust="spacingAndGlyphs">-7</text>
<circle cx="431.8" cy="213.4" r="5.6" fill="#ffffff" fill-opacity="0.45" stroke="#ffffff" stroke-width="0.9"/>
<text x="431.70" y="215.20" font-size="4.8" fill="#111" text-anchor="middle" font-weight="normal" >+5µm</text>
<text x="427.20" y="222.60" font-size="5.2" fill="#000" text-anchor="middle" font-weight="normal" >+4</text>
<circle cx="429.0" cy="231.8" r="1.8" fill="none" stroke="#111" stroke-width="0.7"/>
<text x="489.70" y="219.00" font-size="5.0" fill="#333" text-anchor="middle" dominant-baseline="central" transform="rotate(90.0 489.70 219.00)">0°</text>
<text x="481.33" y="187.75" font-size="5.0" fill="#333" text-anchor="middle" dominant-baseline="central" transform="rotate(60.0 481.33 187.75)">30°</text>
<text x="458.45" y="164.87" font-size="5.0" fill="#333" text-anchor="middle" dominant-baseline="central" transform="rotate(30.0 458.45 164.87)">60°</text>
<text x="427.20" y="156.50" font-size="5.0" fill="#333" text-anchor="middle" dominant-baseline="central" transform="rotate(0.0 427.20 156.50)">90°</text>
<text x="395.95" y="164.87" font-size="5.0" fill="#333" text-anchor="middle" dominant-baseline="central" transform="rotate(-30.0 395.95 164.87)">120°</text>
<text x="373.07" y="187.75" font-size="5.0" fill="#333" text-anchor="middle" dominant-baseline="central" transform="rotate(-60.0 373.07 187.75)">150°</text>
<text x="364.70" y="219.00" font-size="5.0" fill="#333" text-anchor="middle" dominant-baseline="central" transform="rotate(-90.0 364.70 219.00)">180°</text>
<text x="373.07" y="250.25" font-size="5.0" fill="#333" text-anchor="middle" dominant-baseline="central" transform="rotate(60.0 373.07 250.25)">210°</text>
<text x="395.95" y="273.13" font-size="5.0" fill="#333" text-anchor="middle" dominant-baseline="central" transform="rotate(30.0 395.95 273.13)">240°</text>
<text x="427.20" y="281.50" font-size="5.0" fill="#333" text-anchor="middle" dominant-baseline="central" transform="rotate(0.0 427.20 281.50)">270°</text>
<text x="458.45" y="273.13" font-size="5.0" fill="#333" text-anchor="middle" dominant-baseline="central" transform="rotate(-30.0 458.45 273.13)">300°</text>
<text x="481.33" y="250.25" font-size="5.0" fill="#333" text-anchor="middle" dominant-baseline="central" transform="rotate(-60.0 481.33 250.25)">330°</text>
<line x1="483.42" y1="203.94" x2="486.12" y2="203.21" stroke="#222" stroke-width="0.7" />
<line x1="468.35" y1="177.85" x2="470.33" y2="175.87" stroke="#222" stroke-width="0.7" />
<line x1="442.26" y1="162.78" x2="442.99" y2="160.08" stroke="#222" stroke-width="0.7" />
<line x1="412.14" y1="162.78" x2="411.41" y2="160.08" stroke="#222" stroke-width="0.7" />
<line x1="386.05" y1="177.85" x2="384.07" y2="175.87" stroke="#222" stroke-width="0.7" />
<line x1="370.98" y1="203.94" x2="368.28" y2="203.21" stroke="#222" stroke-width="0.7" />
<line x1="370.98" y1="234.06" x2="368.28" y2="234.79" stroke="#222" stroke-width="0.7" />
<line x1="386.05" y1="260.15" x2="384.07" y2="262.13" stroke="#222" stroke-width="0.7" />
<line x1="412.14" y1="275.22" x2="411.41" y2="277.92" stroke="#222" stroke-width="0.7" />
<line x1="442.26" y1="275.22" x2="442.99" y2="277.92" stroke="#222" stroke-width="0.7" />
<line x1="468.35" y1="260.15" x2="470.33" y2="262.13" stroke="#222" stroke-width="0.7" />
<line x1="483.42" y1="234.06" x2="486.12" y2="234.79" stroke="#222" stroke-width="0.7" />
<circle cx="372.00" cy="159.20" r="2.70" fill="none" stroke="#222" stroke-width="0.81"/>
<line x1="373.89" y1="161.09" x2="376.19" y2="163.52" stroke="#222" stroke-width="1.1340000000000001" />
<text x="372.50" y="167.20" font-size="5.4" fill="#222" text-anchor="middle" font-weight="normal" textLength="9.4" lengthAdjust="spacingAndGlyphs">9mm</text>
<text x="487.60" y="164.50" font-size="9.6" fill="#000" text-anchor="end" font-weight="bold" >OD</text>
<text x="370.90" y="282.40" font-size="7.0" fill="#333" text-anchor="middle" font-weight="normal" >T</text>
<text x="483.50" y="282.40" font-size="7.0" fill="#333" text-anchor="middle" font-weight="normal" >N</text>
<rect x="514.40" y="141.80" width="152.00" height="150.70" fill="#efefef" stroke="none" stroke-width="1" />
<line x1="515.40" y1="155.40" x2="665.40" y2="155.40" stroke="#a8a8a8" stroke-width="0.8" />
<text x="590.70" y="147.20" font-size="5.1" fill="#333" text-anchor="middle" font-weight="normal" textLength="31.5" lengthAdjust="spacingAndGlyphs">Elevation (Back)</text>
<text x="590.70" y="153.50" font-size="5.1" fill="#333" text-anchor="middle" font-weight="normal" textLength="52" lengthAdjust="spacingAndGlyphs">BFS=5.63 Float, Dia=8.00</text>
<rect x="588.70" y="154.40" width="17.00" height="2.50" fill="#efefef" stroke="none" stroke-width="1" />
<line x1="527.60" y1="159.38" x2="527.60" y2="279.82" stroke="#7a7a7a" stroke-width="0.8" />
<line x1="525.40" y1="166.96" x2="527.60" y2="166.96" stroke="#7a7a7a" stroke-width="0.7" />
<line x1="525.40" y1="180.12" x2="527.60" y2="180.12" stroke="#7a7a7a" stroke-width="0.7" />
<line x1="525.40" y1="193.28" x2="527.60" y2="193.28" stroke="#7a7a7a" stroke-width="0.7" />
<line x1="525.40" y1="206.44" x2="527.60" y2="206.44" stroke="#7a7a7a" stroke-width="0.7" />
<line x1="525.40" y1="219.60" x2="527.60" y2="219.60" stroke="#7a7a7a" stroke-width="0.7" />
<line x1="525.40" y1="232.76" x2="527.60" y2="232.76" stroke="#7a7a7a" stroke-width="0.7" />
<line x1="525.40" y1="245.92" x2="527.60" y2="245.92" stroke="#7a7a7a" stroke-width="0.7" />
<line x1="525.40" y1="259.08" x2="527.60" y2="259.08" stroke="#7a7a7a" stroke-width="0.7" />
<line x1="525.40" y1="272.24" x2="527.60" y2="272.24" stroke="#7a7a7a" stroke-width="0.7" />
<text x="522.20" y="168.90" font-size="5.4" fill="#3c3c3c" text-anchor="middle" font-weight="normal" >8</text>
<text x="522.20" y="195.22" font-size="5.4" fill="#3c3c3c" text-anchor="middle" font-weight="normal" >4</text>
<text x="522.20" y="221.54" font-size="5.4" fill="#3c3c3c" text-anchor="middle" font-weight="normal" >0</text>
<text x="522.20" y="247.86" font-size="5.4" fill="#3c3c3c" text-anchor="middle" font-weight="normal" >4</text>
<text x="522.20" y="274.18" font-size="5.4" fill="#3c3c3c" text-anchor="middle" font-weight="normal" >8</text>
<line x1="537.98" y1="285.90" x2="656.42" y2="285.90" stroke="#7a7a7a" stroke-width="0.8" />
<line x1="544.56" y1="285.90" x2="544.56" y2="288.10" stroke="#7a7a7a" stroke-width="0.7" />
<line x1="557.72" y1="285.90" x2="557.72" y2="288.10" stroke="#7a7a7a" stroke-width="0.7" />
<line x1="570.88" y1="285.90" x2="570.88" y2="288.10" stroke="#7a7a7a" stroke-width="0.7" />
<line x1="584.04" y1="285.90" x2="584.04" y2="288.10" stroke="#7a7a7a" stroke-width="0.7" />
<line x1="597.20" y1="285.90" x2="597.20" y2="288.10" stroke="#7a7a7a" stroke-width="0.7" />
<line x1="610.36" y1="285.90" x2="610.36" y2="288.10" stroke="#7a7a7a" stroke-width="0.7" />
<line x1="623.52" y1="285.90" x2="623.52" y2="288.10" stroke="#7a7a7a" stroke-width="0.7" />
<line x1="636.68" y1="285.90" x2="636.68" y2="288.10" stroke="#7a7a7a" stroke-width="0.7" />
<line x1="649.84" y1="285.90" x2="649.84" y2="288.10" stroke="#7a7a7a" stroke-width="0.7" />
<text x="544.56" y="293.20" font-size="5.4" fill="#3c3c3c" text-anchor="middle" font-weight="normal" >8</text>
<text x="570.88" y="293.20" font-size="5.4" fill="#3c3c3c" text-anchor="middle" font-weight="normal" >4</text>
<text x="597.20" y="293.20" font-size="5.4" fill="#3c3c3c" text-anchor="middle" font-weight="normal" >0</text>
<text x="623.52" y="293.20" font-size="5.4" fill="#3c3c3c" text-anchor="middle" font-weight="normal" >4</text>
<text x="649.84" y="293.20" font-size="5.4" fill="#3c3c3c" text-anchor="middle" font-weight="normal" >8</text>
<clipPath id="c8"><circle cx="597.2" cy="219.6" r="59.0"/></clipPath>
<g clip-path="url(#c8)">
<defs><radialGradient id="g9" gradientUnits="userSpaceOnUse" cx="599.20" cy="227.60" r="60.00" fx="599.20" fy="227.60"><stop offset="0" stop-color="#ffb400"/><stop offset="0.25" stop-color="#ffc400"/><stop offset="0.45" stop-color="#ffdc00"/><stop offset="0.62" stop-color="#fff000"/><stop offset="0.74" stop-color="#ffea00"/><stop offset="0.82" stop-color="#ffc000"/><stop offset="0.88" stop-color="#ff9000"/><stop offset="0.93" stop-color="#ff4800"/><stop offset="0.97" stop-color="#f01000"/><stop offset="1" stop-color="#d00000"/></radialGradient></defs>
<circle cx="597.2" cy="219.6" r="60.0" fill="url(#g9)"/>
<g filter="url(#mb05)">
<path d="M531.20,195.60 C533.37,203.10 541.07,195.72 544.20,194.60 C547.33,193.48 546.57,191.72 550.00,188.90 C553.43,186.08 559.60,180.50 564.80,177.70 C570.00,174.90 575.80,173.38 581.20,172.10 C586.60,170.82 591.20,170.05 597.20,170.00 C603.20,169.95 611.87,170.53 617.20,171.80 C622.53,173.07 625.58,175.28 629.20,177.60 C632.82,179.92 635.80,182.97 638.90,185.70 C642.00,188.43 645.75,191.68 647.80,194.00 C649.85,196.32 648.63,198.67 651.20,199.60 C653.77,200.53 661.20,207.93 663.20,199.60 C665.20,191.27 685.20,157.93 663.20,149.60 C641.20,141.27 553.20,141.93 531.20,149.60 C509.20,157.27 529.03,188.10 531.20,195.60 Z" fill="#ff1800"/>
<path d="M531.20,193.60 C533.37,200.77 541.07,193.72 544.20,192.60 C547.33,191.48 546.57,189.72 550.00,186.90 C553.43,184.08 559.60,178.50 564.80,175.70 C570.00,172.90 575.80,171.38 581.20,170.10 C586.60,168.82 591.20,168.05 597.20,168.00 C603.20,167.95 611.87,168.53 617.20,169.80 C622.53,171.07 625.58,173.28 629.20,175.60 C632.82,177.92 635.80,180.97 638.90,183.70 C642.00,186.43 645.75,189.68 647.80,192.00 C649.85,194.32 648.63,196.67 651.20,197.60 C653.77,198.53 661.20,205.60 663.20,197.60 C665.20,189.60 685.20,157.60 663.20,149.60 C641.20,141.60 553.20,142.27 531.20,149.60 C509.20,156.93 529.03,186.43 531.20,193.60 Z" fill="#7a2a5c"/>
<path d="M548.20,198.30 C549.62,195.17 551.42,191.03 554.70,188.00 C557.98,184.97 560.82,182.50 567.90,180.10 C574.98,177.70 588.12,174.22 597.20,173.60 C606.28,172.98 615.23,174.47 622.40,176.40 C629.57,178.33 635.97,182.17 640.20,185.20 C644.43,188.23 646.37,191.00 647.80,194.60 C649.23,198.20 649.73,203.52 648.80,206.80 C647.87,210.08 645.03,212.73 642.20,214.30 C639.37,215.87 635.10,216.50 631.80,216.20 C628.50,215.90 626.15,213.60 622.40,212.50 C618.65,211.40 614.63,209.92 609.30,209.60 C603.97,209.28 596.05,209.97 590.40,210.60 C584.75,211.23 579.78,211.83 575.40,213.40 C571.02,214.97 567.55,218.43 564.10,220.00 C560.65,221.57 557.35,223.43 554.70,222.80 C552.05,222.17 549.62,218.87 548.20,216.20 C546.78,213.53 546.20,209.78 546.20,206.80 C546.20,203.82 546.78,201.43 548.20,198.30 Z" fill="#00cc00" stroke="#00cc00" stroke-width="2.6" stroke-linejoin="round"/>
<path d="M548.20,198.30 C549.62,195.17 551.42,191.03 554.70,188.00 C557.98,184.97 560.82,182.50 567.90,180.10 C574.98,177.70 588.12,174.22 597.20,173.60 C606.28,172.98 615.23,174.47 622.40,176.40 C629.57,178.33 635.97,182.17 640.20,185.20 C644.43,188.23 646.37,191.00 647.80,194.60 C649.23,198.20 649.73,203.52 648.80,206.80 C647.87,210.08 645.03,212.73 642.20,214.30 C639.37,215.87 635.10,216.50 631.80,216.20 C628.50,215.90 626.15,213.60 622.40,212.50 C618.65,211.40 614.63,209.92 609.30,209.60 C603.97,209.28 596.05,209.97 590.40,210.60 C584.75,211.23 579.78,211.83 575.40,213.40 C571.02,214.97 567.55,218.43 564.10,220.00 C560.65,221.57 557.35,223.43 554.70,222.80 C552.05,222.17 549.62,218.87 548.20,216.20 C546.78,213.53 546.20,209.78 546.20,206.80 C546.20,203.82 546.78,201.43 548.20,198.30 Z" fill="#00e0ff"/>
<clipPath id="bc10"><path d="M548.91,198.23 C550.30,195.14 552.07,191.07 555.31,188.08 C558.54,185.10 561.33,182.67 568.31,180.30 C575.29,177.94 588.22,174.51 597.17,173.90 C606.12,173.29 614.93,174.75 621.99,176.66 C629.05,178.56 635.36,182.34 639.53,185.33 C643.69,188.31 645.60,191.04 647.01,194.58 C648.42,198.13 648.92,203.37 648.00,206.60 C647.08,209.84 644.29,212.45 641.50,213.99 C638.70,215.53 634.50,216.16 631.25,215.86 C628.00,215.57 625.69,213.30 621.99,212.22 C618.30,211.13 614.34,209.67 609.09,209.36 C603.84,209.05 596.04,209.72 590.47,210.34 C584.91,210.97 580.01,211.56 575.70,213.10 C571.38,214.65 567.96,218.06 564.57,219.60 C561.17,221.15 557.92,222.99 555.31,222.36 C552.70,221.74 550.30,218.49 548.91,215.86 C547.51,213.23 546.94,209.54 546.94,206.60 C546.94,203.66 547.51,201.32 548.91,198.23 Z"/></clipPath>
<g clip-path="url(#bc10)"><g filter="url(#mb2)">
<path d="M552.90,197.83 C554.18,195.01 555.80,191.29 558.75,188.56 C561.70,185.83 564.25,183.61 570.63,181.45 C577.00,179.29 588.83,176.16 597.00,175.60 C605.17,175.04 613.23,176.38 619.68,178.12 C626.13,179.86 631.89,183.31 635.70,186.04 C639.51,188.77 641.25,191.26 642.54,194.50 C643.83,197.74 644.28,202.52 643.44,205.48 C642.60,208.44 640.05,210.82 637.50,212.23 C634.95,213.64 631.11,214.21 628.14,213.94 C625.17,213.67 623.06,211.60 619.68,210.61 C616.31,209.62 612.69,208.28 607.89,208.00 C603.09,207.72 595.97,208.33 590.88,208.90 C585.79,209.47 581.33,210.01 577.38,211.42 C573.43,212.83 570.32,215.95 567.21,217.36 C564.11,218.77 561.13,220.45 558.75,219.88 C556.37,219.31 554.18,216.34 552.90,213.94 C551.63,211.54 551.10,208.16 551.10,205.48 C551.10,202.79 551.63,200.65 552.90,197.83 Z" fill="#00a8ff" />
<path d="M558.54,197.27 C559.65,194.82 561.05,191.60 563.61,189.23 C566.17,186.87 568.38,184.94 573.91,183.07 C579.43,181.20 589.67,178.48 596.76,178.00 C603.85,177.52 610.83,178.68 616.42,180.18 C622.01,181.69 627.00,184.68 630.30,187.05 C633.60,189.41 635.11,191.57 636.23,194.38 C637.35,197.19 637.74,201.33 637.01,203.90 C636.28,206.46 634.07,208.52 631.86,209.75 C629.65,210.97 626.32,211.46 623.75,211.23 C621.17,210.99 619.34,209.20 616.42,208.34 C613.49,207.48 610.36,206.33 606.20,206.08 C602.04,205.83 595.86,206.37 591.46,206.86 C587.05,207.35 583.18,207.82 579.76,209.04 C576.34,210.27 573.63,212.97 570.94,214.19 C568.25,215.41 565.68,216.87 563.61,216.38 C561.54,215.88 559.65,213.31 558.54,211.23 C557.44,209.15 556.98,206.22 556.98,203.90 C556.98,201.57 557.44,199.71 558.54,197.27 Z" fill="#0080ff" />
<path d="M564.54,194.99 C565.42,193.05 566.53,190.49 568.57,188.61 C570.61,186.73 572.36,185.20 576.75,183.71 C581.15,182.22 589.29,180.06 594.92,179.68 C600.55,179.30 606.10,180.22 610.54,181.42 C614.99,182.61 618.96,184.99 621.58,186.87 C624.20,188.75 625.40,190.47 626.29,192.70 C627.18,194.93 627.49,198.23 626.91,200.26 C626.33,202.30 624.58,203.94 622.82,204.91 C621.06,205.89 618.42,206.28 616.37,206.09 C614.33,205.91 612.87,204.48 610.54,203.80 C608.22,203.12 605.73,202.20 602.42,202.00 C599.12,201.80 594.21,202.23 590.70,202.62 C587.20,203.01 584.12,203.38 581.40,204.36 C578.69,205.33 576.54,207.48 574.40,208.45 C572.26,209.42 570.21,210.58 568.57,210.18 C566.93,209.79 565.42,207.75 564.54,206.09 C563.66,204.44 563.30,202.11 563.30,200.26 C563.30,198.41 563.66,196.94 564.54,194.99 Z" fill="#0060ff" />
<path d="M573.14,193.25 C573.74,191.94 574.49,190.20 575.87,188.93 C577.25,187.65 578.44,186.62 581.41,185.61 C584.39,184.60 589.90,183.14 593.72,182.88 C597.54,182.62 601.29,183.24 604.30,184.06 C607.31,184.87 610.00,186.48 611.78,187.75 C613.56,189.03 614.37,190.19 614.97,191.70 C615.57,193.21 615.78,195.44 615.39,196.82 C615.00,198.20 613.81,199.32 612.62,199.97 C611.43,200.63 609.64,200.90 608.25,200.77 C606.87,200.65 605.88,199.68 604.30,199.22 C602.73,198.76 601.04,198.13 598.80,198.00 C596.56,197.87 593.24,198.15 590.86,198.42 C588.49,198.69 586.41,198.94 584.56,199.60 C582.72,200.25 581.27,201.71 579.82,202.37 C578.37,203.03 576.98,203.81 575.87,203.54 C574.76,203.28 573.74,201.89 573.14,200.77 C572.55,199.65 572.30,198.08 572.30,196.82 C572.30,195.57 572.55,194.57 573.14,193.25 Z" fill="#0048f8" />
</g></g>
<path d="M565.20,261.40 C566.43,258.42 566.27,253.30 571.60,251.00 C576.93,248.70 588.73,248.22 597.20,247.60 C605.67,246.98 616.93,246.88 622.40,247.30 C627.87,247.72 628.43,248.38 630.00,250.10 C631.57,251.82 631.97,254.78 631.80,257.60 C631.63,260.42 630.60,263.67 629.00,267.00 C627.40,270.33 627.50,274.83 622.20,277.60 C616.90,280.37 605.53,283.27 597.20,283.60 C588.87,283.93 577.70,282.05 572.20,279.60 C566.70,277.15 565.37,271.93 564.20,268.90 C563.03,265.87 563.97,264.38 565.20,261.40 Z" fill="#00cc00" stroke="#00cc00" stroke-width="2.6" stroke-linejoin="round"/>
<path d="M565.20,261.40 C566.43,258.42 566.27,253.30 571.60,251.00 C576.93,248.70 588.73,248.22 597.20,247.60 C605.67,246.98 616.93,246.88 622.40,247.30 C627.87,247.72 628.43,248.38 630.00,250.10 C631.57,251.82 631.97,254.78 631.80,257.60 C631.63,260.42 630.60,263.67 629.00,267.00 C627.40,270.33 627.50,274.83 622.20,277.60 C616.90,280.37 605.53,283.27 597.20,283.60 C588.87,283.93 577.70,282.05 572.20,279.60 C566.70,277.15 565.37,271.93 564.20,268.90 C563.03,265.87 563.97,264.38 565.20,261.40 Z" fill="#00e0ff"/>
<clipPath id="bc11"><path d="M565.68,261.52 C566.89,258.58 566.73,253.54 571.98,251.28 C577.24,249.01 588.86,248.54 597.20,247.93 C605.54,247.32 616.64,247.22 622.02,247.63 C627.41,248.04 627.96,248.70 629.51,250.39 C631.05,252.08 631.45,255.01 631.28,257.78 C631.12,260.55 630.10,263.76 628.52,267.04 C626.95,270.32 627.05,274.75 621.83,277.48 C616.60,280.21 605.41,283.06 597.20,283.39 C588.99,283.72 577.99,281.86 572.58,279.45 C567.16,277.04 565.84,271.90 564.70,268.91 C563.55,265.92 564.47,264.46 565.68,261.52 Z"/></clipPath>
<g clip-path="url(#bc11)"><g filter="url(#mb2)">
<path d="M568.40,262.22 C569.51,259.53 569.36,254.93 574.16,252.86 C578.96,250.79 589.58,250.35 597.20,249.80 C604.82,249.24 614.96,249.16 619.88,249.53 C624.80,249.91 625.31,250.50 626.72,252.05 C628.13,253.60 628.49,256.26 628.34,258.80 C628.19,261.34 627.26,264.26 625.82,267.26 C624.38,270.26 624.47,274.31 619.70,276.80 C614.93,279.29 604.70,281.90 597.20,282.20 C589.70,282.50 579.65,280.81 574.70,278.60 C569.75,276.40 568.55,271.70 567.50,268.97 C566.45,266.24 567.29,264.90 568.40,262.22 Z" fill="#00a8ff" />
<path d="M572.24,263.20 C573.20,260.88 573.07,256.89 577.23,255.09 C581.39,253.30 590.60,252.92 597.20,252.44 C603.80,251.96 612.59,251.88 616.86,252.21 C621.12,252.53 621.56,253.05 622.78,254.39 C624.01,255.73 624.32,258.04 624.19,260.24 C624.06,262.44 623.25,264.97 622.00,267.57 C620.76,270.17 620.83,273.68 616.70,275.84 C612.57,278.00 603.70,280.26 597.20,280.52 C590.70,280.78 581.99,279.31 577.70,277.40 C573.41,275.49 572.37,271.42 571.46,269.05 C570.55,266.69 571.28,265.53 572.24,263.20 Z" fill="#0080ff" />
<path d="M577.36,266.04 C578.12,264.19 578.02,261.01 581.33,259.59 C584.63,258.16 591.95,257.86 597.20,257.48 C602.45,257.10 609.43,257.04 612.82,257.29 C616.21,257.55 616.56,257.97 617.54,259.03 C618.51,260.09 618.76,261.93 618.65,263.68 C618.55,265.43 617.91,267.44 616.92,269.51 C615.92,271.57 615.99,274.36 612.70,276.08 C609.41,277.80 602.37,279.59 597.20,279.80 C592.03,280.01 585.11,278.84 581.70,277.32 C578.29,275.80 577.46,272.57 576.74,270.69 C576.02,268.81 576.60,267.89 577.36,266.04 Z" fill="#0060ff" />
<path d="M583.76,268.48 C584.28,267.22 584.21,265.07 586.45,264.11 C588.69,263.14 593.64,262.94 597.20,262.68 C600.76,262.42 605.49,262.38 607.78,262.55 C610.08,262.73 610.32,263.01 610.98,263.73 C611.63,264.45 611.80,265.70 611.73,266.88 C611.66,268.06 611.23,269.43 610.56,270.83 C609.88,272.23 609.93,274.12 607.70,275.28 C605.47,276.44 600.70,277.66 597.20,277.80 C593.70,277.94 589.01,277.15 586.70,276.12 C584.39,275.09 583.83,272.90 583.34,271.63 C582.85,270.35 583.24,269.73 583.76,268.48 Z" fill="#0048f8" />
</g></g>
</g>
</g>
<circle cx="593.2" cy="162.6" r="0.55" fill="#111"/>
<circle cx="597.2" cy="162.6" r="0.55" fill="#111"/>
<circle cx="601.2" cy="162.6" r="0.55" fill="#111"/>
<circle cx="579.2" cy="165.6" r="0.55" fill="#111"/>
<circle cx="583.2" cy="165.6" r="0.55" fill="#111"/>
<circle cx="587.2" cy="165.6" r="0.55" fill="#111"/>
<circle cx="591.2" cy="165.6" r="0.55" fill="#111"/>
<circle cx="595.2" cy="165.6" r="0.55" fill="#111"/>
<circle cx="599.2" cy="165.6" r="0.55" fill="#111"/>
<circle cx="603.2" cy="165.6" r="0.55" fill="#111"/>
<circle cx="607.2" cy="165.6" r="0.55" fill="#111"/>
<circle cx="611.2" cy="165.6" r="0.55" fill="#111"/>
<circle cx="615.2" cy="165.6" r="0.55" fill="#111"/>
<circle cx="573.2" cy="168.6" r="0.55" fill="#111"/>
<circle cx="577.2" cy="168.6" r="0.55" fill="#111"/>
<circle cx="581.2" cy="168.6" r="0.55" fill="#111"/>
<circle cx="613.2" cy="168.6" r="0.55" fill="#111"/>
<circle cx="617.2" cy="168.6" r="0.55" fill="#111"/>
<circle cx="621.2" cy="168.6" r="0.55" fill="#111"/>
<circle cx="567.2" cy="171.6" r="0.55" fill="#111"/>
<circle cx="571.2" cy="171.6" r="0.55" fill="#111"/>
<circle cx="623.2" cy="171.6" r="0.55" fill="#111"/>
<circle cx="627.2" cy="171.6" r="0.55" fill="#111"/>
<circle cx="565.2" cy="174.6" r="0.55" fill="#111"/>
<circle cx="629.2" cy="174.6" r="0.55" fill="#111"/>
<circle cx="559.2" cy="177.6" r="0.55" fill="#111"/>
<circle cx="635.2" cy="177.6" r="0.55" fill="#111"/>
<path d="M624.16,212.18 A25.5,25.5 0 0,0 576.24,212.18" fill="none" stroke="#ffffff" stroke-width="0.8" stroke-dasharray="2.2 1.6"/>
<path d="M576.24,212.18 A25.5,25.5 0 1,0 624.16,212.18" fill="none" stroke="#3a3a3a" stroke-width="0.8" stroke-dasharray="2.2 1.6"/>
<text x="597.20" y="221.40" font-size="5.2" fill="#000" text-anchor="middle" font-weight="normal" textLength="7.05" lengthAdjust="spacingAndGlyphs">+13</text>
<text x="587.89" y="212.09" font-size="5.2" fill="#000" text-anchor="middle" font-weight="normal" textLength="4.70" lengthAdjust="spacingAndGlyphs">-1</text>
<text x="606.51" y="212.09" font-size="5.2" fill="#000" text-anchor="middle" font-weight="normal" textLength="4.70" lengthAdjust="spacingAndGlyphs">+3</text>
<text x="587.89" y="230.71" font-size="5.2" fill="#000" text-anchor="middle" font-weight="normal" textLength="7.05" lengthAdjust="spacingAndGlyphs">+19</text>
<text x="606.51" y="230.71" font-size="5.2" fill="#000" text-anchor="middle" font-weight="normal" textLength="0.00" lengthAdjust="spacingAndGlyphs"></text>
<text x="597.20" y="195.08" font-size="5.2" fill="#000" text-anchor="middle" font-weight="normal" textLength="7.05" lengthAdjust="spacingAndGlyphs">-42</text>
<text x="578.59" y="202.79" font-size="5.2" fill="#000" text-anchor="middle" font-weight="normal" textLength="7.05" lengthAdjust="spacingAndGlyphs">-28</text>
<text x="615.81" y="202.79" font-size="5.2" fill="#000" text-anchor="middle" font-weight="normal" textLength="7.05" lengthAdjust="spacingAndGlyphs">-25</text>
<text x="570.88" y="221.40" font-size="5.2" fill="#000" text-anchor="middle" font-weight="normal" textLength="4.70" lengthAdjust="spacingAndGlyphs">+4</text>
<text x="623.52" y="221.40" font-size="5.2" fill="#000" text-anchor="middle" font-weight="normal" textLength="7.05" lengthAdjust="spacingAndGlyphs">+10</text>
<text x="578.59" y="240.01" font-size="5.2" fill="#000" text-anchor="middle" font-weight="normal" textLength="7.05" lengthAdjust="spacingAndGlyphs">+17</text>
<text x="615.81" y="240.01" font-size="5.2" fill="#000" text-anchor="middle" font-weight="normal" textLength="7.05" lengthAdjust="spacingAndGlyphs">+13</text>
<text x="597.20" y="247.72" font-size="5.2" fill="#000" text-anchor="middle" font-weight="normal" textLength="4.70" lengthAdjust="spacingAndGlyphs">+4</text>
<text x="597.20" y="181.92" font-size="5.2" fill="#000" text-anchor="middle" font-weight="normal" textLength="7.05" lengthAdjust="spacingAndGlyphs">-37</text>
<text x="580.07" y="185.83" font-size="5.2" fill="#000" text-anchor="middle" font-weight="normal" textLength="7.05" lengthAdjust="spacingAndGlyphs">-37</text>
<text x="614.33" y="185.83" font-size="5.2" fill="#000" text-anchor="middle" font-weight="normal" textLength="7.05" lengthAdjust="spacingAndGlyphs">-41</text>
<text x="566.33" y="196.78" font-size="5.2" fill="#000" text-anchor="middle" font-weight="normal" textLength="7.05" lengthAdjust="spacingAndGlyphs">-39</text>
<text x="628.07" y="196.78" font-size="5.2" fill="#000" text-anchor="middle" font-weight="normal" textLength="7.05" lengthAdjust="spacingAndGlyphs">-36</text>
<text x="558.71" y="212.61" font-size="5.2" fill="#000" text-anchor="middle" font-weight="normal" textLength="7.05" lengthAdjust="spacingAndGlyphs">-27</text>
<text x="635.69" y="212.61" font-size="5.2" fill="#000" text-anchor="middle" font-weight="normal" textLength="7.05" lengthAdjust="spacingAndGlyphs">-12</text>
<text x="558.71" y="230.19" font-size="5.2" fill="#000" text-anchor="middle" font-weight="normal" textLength="4.70" lengthAdjust="spacingAndGlyphs">+5</text>
<text x="635.69" y="230.19" font-size="5.2" fill="#000" text-anchor="middle" font-weight="normal" textLength="4.70" lengthAdjust="spacingAndGlyphs">+6</text>
<text x="566.33" y="246.02" font-size="5.2" fill="#000" text-anchor="middle" font-weight="normal" textLength="7.05" lengthAdjust="spacingAndGlyphs">+10</text>
<text x="628.07" y="246.02" font-size="5.2" fill="#000" text-anchor="middle" font-weight="normal" textLength="4.70" lengthAdjust="spacingAndGlyphs">+4</text>
<text x="580.07" y="256.97" font-size="5.2" fill="#000" text-anchor="middle" font-weight="normal" textLength="4.70" lengthAdjust="spacingAndGlyphs">-7</text>
<text x="614.33" y="256.97" font-size="5.2" fill="#000" text-anchor="middle" font-weight="normal" textLength="7.05" lengthAdjust="spacingAndGlyphs">-12</text>
<text x="597.20" y="260.88" font-size="5.2" fill="#000" text-anchor="middle" font-weight="normal" textLength="7.05" lengthAdjust="spacingAndGlyphs">-16</text>
<circle cx="607.7" cy="229.4" r="6.8" fill="#ffffff" fill-opacity="0.35" stroke="#ffffff" stroke-width="0.9"/>
<text x="607.70" y="231.10" font-size="4.8" fill="#111" text-anchor="middle" font-weight="normal" >+26µm</text>
<circle cx="598.2" cy="232.1" r="1.8" fill="none" stroke="#111" stroke-width="0.7"/>
<text x="659.70" y="219.60" font-size="5.0" fill="#333" text-anchor="middle" dominant-baseline="central" transform="rotate(90.0 659.70 219.60)">0°</text>
<text x="651.33" y="188.35" font-size="5.0" fill="#333" text-anchor="middle" dominant-baseline="central" transform="rotate(60.0 651.33 188.35)">30°</text>
<text x="628.45" y="165.47" font-size="5.0" fill="#333" text-anchor="middle" dominant-baseline="central" transform="rotate(30.0 628.45 165.47)">60°</text>
<text x="597.20" y="157.10" font-size="5.0" fill="#333" text-anchor="middle" dominant-baseline="central" transform="rotate(0.0 597.20 157.10)">90°</text>
<text x="565.95" y="165.47" font-size="5.0" fill="#333" text-anchor="middle" dominant-baseline="central" transform="rotate(-30.0 565.95 165.47)">120°</text>
<text x="543.07" y="188.35" font-size="5.0" fill="#333" text-anchor="middle" dominant-baseline="central" transform="rotate(-60.0 543.07 188.35)">150°</text>
<text x="534.70" y="219.60" font-size="5.0" fill="#333" text-anchor="middle" dominant-baseline="central" transform="rotate(-90.0 534.70 219.60)">180°</text>
<text x="543.07" y="250.85" font-size="5.0" fill="#333" text-anchor="middle" dominant-baseline="central" transform="rotate(60.0 543.07 250.85)">210°</text>
<text x="565.95" y="273.73" font-size="5.0" fill="#333" text-anchor="middle" dominant-baseline="central" transform="rotate(30.0 565.95 273.73)">240°</text>
<text x="597.20" y="282.10" font-size="5.0" fill="#333" text-anchor="middle" dominant-baseline="central" transform="rotate(0.0 597.20 282.10)">270°</text>
<text x="628.45" y="273.73" font-size="5.0" fill="#333" text-anchor="middle" dominant-baseline="central" transform="rotate(-30.0 628.45 273.73)">300°</text>
<text x="651.33" y="250.85" font-size="5.0" fill="#333" text-anchor="middle" dominant-baseline="central" transform="rotate(-60.0 651.33 250.85)">330°</text>
<line x1="653.42" y1="204.54" x2="656.12" y2="203.81" stroke="#222" stroke-width="0.7" />
<line x1="638.35" y1="178.45" x2="640.33" y2="176.47" stroke="#222" stroke-width="0.7" />
<line x1="612.26" y1="163.38" x2="612.99" y2="160.68" stroke="#222" stroke-width="0.7" />
<line x1="582.14" y1="163.38" x2="581.41" y2="160.68" stroke="#222" stroke-width="0.7" />
<line x1="556.05" y1="178.45" x2="554.07" y2="176.47" stroke="#222" stroke-width="0.7" />
<line x1="540.98" y1="204.54" x2="538.28" y2="203.81" stroke="#222" stroke-width="0.7" />
<line x1="540.98" y1="234.66" x2="538.28" y2="235.39" stroke="#222" stroke-width="0.7" />
<line x1="556.05" y1="260.75" x2="554.07" y2="262.73" stroke="#222" stroke-width="0.7" />
<line x1="582.14" y1="275.82" x2="581.41" y2="278.52" stroke="#222" stroke-width="0.7" />
<line x1="612.26" y1="275.82" x2="612.99" y2="278.52" stroke="#222" stroke-width="0.7" />
<line x1="638.35" y1="260.75" x2="640.33" y2="262.73" stroke="#222" stroke-width="0.7" />
<line x1="653.42" y1="234.66" x2="656.12" y2="235.39" stroke="#222" stroke-width="0.7" />
<circle cx="542.00" cy="159.80" r="2.70" fill="none" stroke="#222" stroke-width="0.81"/>
<line x1="543.89" y1="161.69" x2="546.18" y2="164.12" stroke="#222" stroke-width="1.1340000000000001" />
<text x="542.50" y="167.80" font-size="5.4" fill="#222" text-anchor="middle" font-weight="normal" textLength="9.4" lengthAdjust="spacingAndGlyphs">9mm</text>
<text x="657.60" y="165.10" font-size="9.6" fill="#000" text-anchor="end" font-weight="bold" >OD</text>
<text x="540.90" y="283.00" font-size="7.0" fill="#333" text-anchor="middle" font-weight="normal" >T</text>
<text x="653.50" y="283.00" font-size="7.0" fill="#333" text-anchor="middle" font-weight="normal" >N</text>
<rect x="6.70" y="308.70" width="159.80" height="146.50" fill="#efefef" stroke="none" stroke-width="1" />
<rect x="171.30" y="308.70" width="160.50" height="146.50" fill="#efefef" stroke="none" stroke-width="1" />
<rect x="168.00" y="307.50" width="2.20" height="147.70" fill="#4a4a4a" stroke="none" stroke-width="1" />
<text x="92.20" y="317.00" font-size="6.6" fill="#333" text-anchor="middle" font-weight="normal" textLength="49.0" lengthAdjust="spacingAndGlyphs">(Front) Difference</text>
<line x1="28.00" y1="324.85" x2="28.00" y2="437.55" stroke="#7a7a7a" stroke-width="0.8" />
<line x1="25.60" y1="332.00" x2="28.00" y2="332.00" stroke="#7a7a7a" stroke-width="0.7" />
<line x1="25.60" y1="344.30" x2="28.00" y2="344.30" stroke="#7a7a7a" stroke-width="0.7" />
<line x1="25.60" y1="356.60" x2="28.00" y2="356.60" stroke="#7a7a7a" stroke-width="0.7" />
<line x1="25.60" y1="368.90" x2="28.00" y2="368.90" stroke="#7a7a7a" stroke-width="0.7" />
<line x1="25.60" y1="381.20" x2="28.00" y2="381.20" stroke="#7a7a7a" stroke-width="0.7" />
<line x1="25.60" y1="393.50" x2="28.00" y2="393.50" stroke="#7a7a7a" stroke-width="0.7" />
<line x1="25.60" y1="405.80" x2="28.00" y2="405.80" stroke="#7a7a7a" stroke-width="0.7" />
<line x1="25.60" y1="418.10" x2="28.00" y2="418.10" stroke="#7a7a7a" stroke-width="0.7" />
<line x1="25.60" y1="430.40" x2="28.00" y2="430.40" stroke="#7a7a7a" stroke-width="0.7" />
<text x="21.40" y="334.30" font-size="6.4" fill="#3c3c3c" text-anchor="middle" font-weight="normal" >8</text>
<text x="21.40" y="358.90" font-size="6.4" fill="#3c3c3c" text-anchor="middle" font-weight="normal" >4</text>
<text x="21.40" y="383.50" font-size="6.4" fill="#3c3c3c" text-anchor="middle" font-weight="normal" >0</text>
<text x="21.40" y="408.10" font-size="6.4" fill="#3c3c3c" text-anchor="middle" font-weight="normal" >4</text>
<text x="21.40" y="432.70" font-size="6.4" fill="#3c3c3c" text-anchor="middle" font-weight="normal" >8</text>
<circle cx="92.7" cy="381.2" r="55.5" fill="#00d400"/>
<circle cx="122.94" cy="338.01" r="0.55" fill="#111"/>
<circle cx="118.26" cy="335.09" r="0.55" fill="#111"/>
<circle cx="113.30" cy="332.67" r="0.55" fill="#111"/>
<circle cx="108.12" cy="330.78" r="0.55" fill="#111"/>
<circle cx="102.76" cy="329.44" r="0.55" fill="#111"/>
<circle cx="97.30" cy="328.68" r="0.55" fill="#111"/>
<circle cx="91.78" cy="328.48" r="0.55" fill="#111"/>
<circle cx="86.27" cy="328.87" r="0.55" fill="#111"/>
<circle cx="80.84" cy="329.83" r="0.55" fill="#111"/>
<circle cx="75.53" cy="331.35" r="0.55" fill="#111"/>
<circle cx="70.42" cy="333.41" r="0.55" fill="#111"/>
<circle cx="65.54" cy="336.01" r="0.55" fill="#111"/>
<circle cx="93.2" cy="383.2" r="23.5" fill="none" stroke="#ffffff" stroke-width="0.8" stroke-dasharray="2.2 1.6"/>
<text x="92.70" y="383.50" font-size="6.6" fill="#000" text-anchor="middle" font-weight="normal" textLength="5.80" lengthAdjust="spacingAndGlyphs">+1</text>
<text x="84.00" y="374.80" font-size="6.6" fill="#000" text-anchor="middle" font-weight="normal" textLength="5.80" lengthAdjust="spacingAndGlyphs">+1</text>
<text x="101.40" y="374.80" font-size="6.6" fill="#000" text-anchor="middle" font-weight="normal" textLength="5.80" lengthAdjust="spacingAndGlyphs">+1</text>
<text x="84.00" y="392.20" font-size="6.6" fill="#000" text-anchor="middle" font-weight="normal" textLength="5.80" lengthAdjust="spacingAndGlyphs">+1</text>
<text x="101.40" y="392.20" font-size="6.6" fill="#000" text-anchor="middle" font-weight="normal" textLength="5.80" lengthAdjust="spacingAndGlyphs">+1</text>
<text x="92.70" y="358.90" font-size="6.6" fill="#000" text-anchor="middle" font-weight="normal" textLength="5.80" lengthAdjust="spacingAndGlyphs">+1</text>
<text x="75.31" y="366.11" font-size="6.6" fill="#000" text-anchor="middle" font-weight="normal" textLength="5.80" lengthAdjust="spacingAndGlyphs">+1</text>
<text x="110.09" y="366.11" font-size="6.6" fill="#000" text-anchor="middle" font-weight="normal" textLength="5.80" lengthAdjust="spacingAndGlyphs">+1</text>
<text x="68.10" y="383.50" font-size="6.6" fill="#000" text-anchor="middle" font-weight="normal" textLength="5.80" lengthAdjust="spacingAndGlyphs">+1</text>
<text x="117.30" y="383.50" font-size="6.6" fill="#000" text-anchor="middle" font-weight="normal" textLength="5.80" lengthAdjust="spacingAndGlyphs">+1</text>
<text x="75.31" y="400.89" font-size="6.6" fill="#000" text-anchor="middle" font-weight="normal" textLength="5.80" lengthAdjust="spacingAndGlyphs">+1</text>
<text x="110.09" y="400.89" font-size="6.6" fill="#000" text-anchor="middle" font-weight="normal" textLength="5.80" lengthAdjust="spacingAndGlyphs">+1</text>
<text x="92.70" y="408.10" font-size="6.6" fill="#000" text-anchor="middle" font-weight="normal" textLength="5.80" lengthAdjust="spacingAndGlyphs">+1</text>
<text x="92.70" y="346.60" font-size="6.6" fill="#000" text-anchor="middle" font-weight="normal" textLength="5.80" lengthAdjust="spacingAndGlyphs">+1</text>
<text x="76.69" y="350.25" font-size="6.6" fill="#000" text-anchor="middle" font-weight="normal" textLength="5.80" lengthAdjust="spacingAndGlyphs">+1</text>
<text x="108.71" y="350.25" font-size="6.6" fill="#000" text-anchor="middle" font-weight="normal" textLength="5.80" lengthAdjust="spacingAndGlyphs">+1</text>
<text x="63.85" y="360.49" font-size="6.6" fill="#000" text-anchor="middle" font-weight="normal" textLength="5.80" lengthAdjust="spacingAndGlyphs">+1</text>
<text x="121.55" y="360.49" font-size="6.6" fill="#000" text-anchor="middle" font-weight="normal" textLength="5.80" lengthAdjust="spacingAndGlyphs">+1</text>
<text x="56.73" y="375.29" font-size="6.6" fill="#000" text-anchor="middle" font-weight="normal" textLength="2.90" lengthAdjust="spacingAndGlyphs">0</text>
<text x="128.67" y="375.29" font-size="6.6" fill="#000" text-anchor="middle" font-weight="normal" textLength="5.80" lengthAdjust="spacingAndGlyphs">+1</text>
<text x="56.73" y="391.71" font-size="6.6" fill="#000" text-anchor="middle" font-weight="normal" textLength="2.90" lengthAdjust="spacingAndGlyphs">0</text>
<text x="128.67" y="391.71" font-size="6.6" fill="#000" text-anchor="middle" font-weight="normal" textLength="2.90" lengthAdjust="spacingAndGlyphs">0</text>
<text x="63.85" y="406.51" font-size="6.6" fill="#000" text-anchor="middle" font-weight="normal" textLength="2.90" lengthAdjust="spacingAndGlyphs">0</text>
<text x="121.55" y="406.51" font-size="6.6" fill="#000" text-anchor="middle" font-weight="normal" textLength="2.90" lengthAdjust="spacingAndGlyphs">0</text>
<text x="76.69" y="416.75" font-size="6.6" fill="#000" text-anchor="middle" font-weight="normal" textLength="2.90" lengthAdjust="spacingAndGlyphs">0</text>
<text x="108.71" y="416.75" font-size="6.6" fill="#000" text-anchor="middle" font-weight="normal" textLength="2.90" lengthAdjust="spacingAndGlyphs">0</text>
<text x="92.70" y="420.40" font-size="6.6" fill="#000" text-anchor="middle" font-weight="normal" textLength="2.90" lengthAdjust="spacingAndGlyphs">0</text>
<circle cx="95.2" cy="392.8" r="2.2" fill="none" stroke="#111" stroke-width="0.7"/>
<line x1="145.70" y1="381.20" x2="150.70" y2="381.20" stroke="#222" stroke-width="0.7" />
<line x1="139.03" y1="354.45" x2="141.20" y2="353.20" stroke="#222" stroke-width="0.7" />
<line x1="119.45" y1="334.87" x2="120.70" y2="332.70" stroke="#222" stroke-width="0.7" />
<line x1="92.70" y1="328.20" x2="92.70" y2="323.20" stroke="#222" stroke-width="0.7" />
<line x1="65.95" y1="334.87" x2="64.70" y2="332.70" stroke="#222" stroke-width="0.7" />
<line x1="46.37" y1="354.45" x2="44.20" y2="353.20" stroke="#222" stroke-width="0.7" />
<line x1="39.70" y1="381.20" x2="34.70" y2="381.20" stroke="#222" stroke-width="0.7" />
<line x1="46.37" y1="407.95" x2="44.20" y2="409.20" stroke="#222" stroke-width="0.7" />
<line x1="65.95" y1="427.53" x2="64.70" y2="429.70" stroke="#222" stroke-width="0.7" />
<line x1="92.70" y1="434.20" x2="92.70" y2="439.20" stroke="#222" stroke-width="0.7" />
<line x1="119.45" y1="427.53" x2="120.70" y2="429.70" stroke="#222" stroke-width="0.7" />
<line x1="139.03" y1="407.95" x2="141.20" y2="409.20" stroke="#222" stroke-width="0.7" />
<circle cx="41.50" cy="328.60" r="4.60" fill="none" stroke="#222" stroke-width="1.38"/>
<line x1="44.72" y1="331.82" x2="48.63" y2="335.96" stroke="#222" stroke-width="1.9319999999999997" />
<text x="42.50" y="339.80" font-size="7.6" fill="#222" text-anchor="middle" font-weight="normal" textLength="13.2" lengthAdjust="spacingAndGlyphs">9mm</text>
<text x="148.70" y="335.30" font-size="13.4" fill="#000" text-anchor="end" font-weight="bold" textLength="22.2" lengthAdjust="spacingAndGlyphs">OD</text>
<text x="45.20" y="437.20" font-size="8.2" fill="#333" text-anchor="middle" font-weight="normal" >T</text>
<text x="140.70" y="437.20" font-size="8.2" fill="#333" text-anchor="middle" font-weight="normal" >N</text>
<rect x="37.20" y="442.80" width="37.17" height="10.40" fill="#00d400" stroke="none" stroke-width="1" />
<line x1="37.20" y1="442.80" x2="37.20" y2="453.20" stroke="#444" stroke-width="0.7" />
<text x="55.78" y="450.40" font-size="6.8" fill="#222" text-anchor="middle" font-weight="normal" textLength="16.0" lengthAdjust="spacingAndGlyphs">&lt;5µm</text>
<rect x="74.37" y="442.80" width="37.17" height="10.40" fill="#ffff00" stroke="none" stroke-width="1" />
<line x1="74.37" y1="442.80" x2="74.37" y2="453.20" stroke="#444" stroke-width="0.7" />
<text x="92.95" y="450.40" font-size="6.8" fill="#222" text-anchor="middle" font-weight="normal" textLength="18.2" lengthAdjust="spacingAndGlyphs">5-7µm</text>
<rect x="111.53" y="442.80" width="37.17" height="10.40" fill="#e00000" stroke="none" stroke-width="1" />
<line x1="111.53" y1="442.80" x2="111.53" y2="453.20" stroke="#444" stroke-width="0.7" />
<text x="130.12" y="450.40" font-size="6.8" fill="#222" text-anchor="middle" font-weight="normal" textLength="16.0" lengthAdjust="spacingAndGlyphs">&gt;7µm</text>
<line x1="37.20" y1="443.20" x2="148.70" y2="443.20" stroke="#333" stroke-width="0.9" />
<line x1="37.60" y1="442.80" x2="37.60" y2="453.20" stroke="#333" stroke-width="0.9" />
<text x="257.60" y="317.00" font-size="6.6" fill="#333" text-anchor="middle" font-weight="normal" textLength="50.2" lengthAdjust="spacingAndGlyphs">(Back) Difference</text>
<line x1="192.70" y1="325.25" x2="192.70" y2="437.95" stroke="#7a7a7a" stroke-width="0.8" />
<line x1="190.30" y1="332.40" x2="192.70" y2="332.40" stroke="#7a7a7a" stroke-width="0.7" />
<line x1="190.30" y1="344.70" x2="192.70" y2="344.70" stroke="#7a7a7a" stroke-width="0.7" />
<line x1="190.30" y1="357.00" x2="192.70" y2="357.00" stroke="#7a7a7a" stroke-width="0.7" />
<line x1="190.30" y1="369.30" x2="192.70" y2="369.30" stroke="#7a7a7a" stroke-width="0.7" />
<line x1="190.30" y1="381.60" x2="192.70" y2="381.60" stroke="#7a7a7a" stroke-width="0.7" />
<line x1="190.30" y1="393.90" x2="192.70" y2="393.90" stroke="#7a7a7a" stroke-width="0.7" />
<line x1="190.30" y1="406.20" x2="192.70" y2="406.20" stroke="#7a7a7a" stroke-width="0.7" />
<line x1="190.30" y1="418.50" x2="192.70" y2="418.50" stroke="#7a7a7a" stroke-width="0.7" />
<line x1="190.30" y1="430.80" x2="192.70" y2="430.80" stroke="#7a7a7a" stroke-width="0.7" />
<text x="186.10" y="334.70" font-size="6.4" fill="#3c3c3c" text-anchor="middle" font-weight="normal" >8</text>
<text x="186.10" y="359.30" font-size="6.4" fill="#3c3c3c" text-anchor="middle" font-weight="normal" >4</text>
<text x="186.10" y="383.90" font-size="6.4" fill="#3c3c3c" text-anchor="middle" font-weight="normal" >0</text>
<text x="186.10" y="408.50" font-size="6.4" fill="#3c3c3c" text-anchor="middle" font-weight="normal" >4</text>
<text x="186.10" y="433.10" font-size="6.4" fill="#3c3c3c" text-anchor="middle" font-weight="normal" >8</text>
<circle cx="258.1" cy="381.6" r="55.5" fill="#00d400"/>
<circle cx="258.20000000000005" cy="383.0" r="25" fill="#ffff00"/>
<circle cx="258.3" cy="382.90000000000003" r="18" fill="#e00000"/>
<circle cx="295.38" cy="344.32" r="0.55" fill="#111"/>
<circle cx="291.99" cy="341.21" r="0.55" fill="#111"/>
<circle cx="288.34" cy="338.41" r="0.55" fill="#111"/>
<circle cx="284.46" cy="335.94" r="0.55" fill="#111"/>
<circle cx="280.38" cy="333.81" r="0.55" fill="#111"/>
<circle cx="276.13" cy="332.05" r="0.55" fill="#111"/>
<circle cx="271.75" cy="330.67" r="0.55" fill="#111"/>
<circle cx="267.26" cy="329.68" r="0.55" fill="#111"/>
<circle cx="262.70" cy="329.08" r="0.55" fill="#111"/>
<circle cx="258.10" cy="328.88" r="0.55" fill="#111"/>
<circle cx="253.50" cy="329.08" r="0.55" fill="#111"/>
<circle cx="248.94" cy="329.68" r="0.55" fill="#111"/>
<circle cx="244.45" cy="330.67" r="0.55" fill="#111"/>
<circle cx="240.07" cy="332.05" r="0.55" fill="#111"/>
<circle cx="235.82" cy="333.81" r="0.55" fill="#111"/>
<circle cx="231.74" cy="335.94" r="0.55" fill="#111"/>
<circle cx="227.86" cy="338.41" r="0.55" fill="#111"/>
<circle cx="224.21" cy="341.21" r="0.55" fill="#111"/>
<circle cx="220.82" cy="344.32" r="0.55" fill="#111"/>
<circle cx="241.40" cy="335.71" r="0.55" fill="#111"/>
<circle cx="236.69" cy="337.70" r="0.55" fill="#111"/>
<circle cx="232.22" cy="340.18" r="0.55" fill="#111"/>
<circle cx="228.03" cy="343.11" r="0.55" fill="#111"/>
<circle cx="224.17" cy="346.47" r="0.55" fill="#111"/>
<circle cx="220.69" cy="350.21" r="0.55" fill="#111"/>
<circle cx="217.61" cy="354.29" r="0.55" fill="#111"/>
<circle cx="259.1" cy="383.1" r="24.5" fill="none" stroke="#ffffff" stroke-width="0.8" stroke-dasharray="2.2 1.6"/>
<text x="258.10" y="383.90" font-size="6.6" fill="#000" text-anchor="middle" font-weight="normal" textLength="8.70" lengthAdjust="spacingAndGlyphs">+21</text>
<text x="249.40" y="375.20" font-size="6.6" fill="#000" text-anchor="middle" font-weight="normal" textLength="8.70" lengthAdjust="spacingAndGlyphs">+18</text>
<text x="266.80" y="375.20" font-size="6.6" fill="#000" text-anchor="middle" font-weight="normal" textLength="8.70" lengthAdjust="spacingAndGlyphs">+18</text>
<text x="249.40" y="392.60" font-size="6.6" fill="#000" text-anchor="middle" font-weight="normal" textLength="8.70" lengthAdjust="spacingAndGlyphs">+19</text>
<text x="266.80" y="392.60" font-size="6.6" fill="#000" text-anchor="middle" font-weight="normal" textLength="8.70" lengthAdjust="spacingAndGlyphs">+19</text>
<text x="258.10" y="359.30" font-size="6.6" fill="#000" text-anchor="middle" font-weight="normal" textLength="8.70" lengthAdjust="spacingAndGlyphs">+11</text>
<text x="240.71" y="366.51" font-size="6.6" fill="#000" text-anchor="middle" font-weight="normal" textLength="8.70" lengthAdjust="spacingAndGlyphs">+11</text>
<text x="275.49" y="366.51" font-size="6.6" fill="#000" text-anchor="middle" font-weight="normal" textLength="8.70" lengthAdjust="spacingAndGlyphs">+11</text>
<text x="233.50" y="383.90" font-size="6.6" fill="#000" text-anchor="middle" font-weight="normal" textLength="8.70" lengthAdjust="spacingAndGlyphs">+12</text>
<text x="282.70" y="383.90" font-size="6.6" fill="#000" text-anchor="middle" font-weight="normal" textLength="8.70" lengthAdjust="spacingAndGlyphs">+12</text>
<text x="240.71" y="401.29" font-size="6.6" fill="#000" text-anchor="middle" font-weight="normal" textLength="8.70" lengthAdjust="spacingAndGlyphs">+13</text>
<text x="275.49" y="401.29" font-size="6.6" fill="#000" text-anchor="middle" font-weight="normal" textLength="8.70" lengthAdjust="spacingAndGlyphs">+13</text>
<text x="258.10" y="408.50" font-size="6.6" fill="#000" text-anchor="middle" font-weight="normal" textLength="8.70" lengthAdjust="spacingAndGlyphs">+13</text>
<text x="258.10" y="347.00" font-size="6.6" fill="#000" text-anchor="middle" font-weight="normal" textLength="5.80" lengthAdjust="spacingAndGlyphs">-2</text>
<text x="242.09" y="350.65" font-size="6.6" fill="#000" text-anchor="middle" font-weight="normal" textLength="5.80" lengthAdjust="spacingAndGlyphs">-2</text>
<text x="274.11" y="350.65" font-size="6.6" fill="#000" text-anchor="middle" font-weight="normal" textLength="5.80" lengthAdjust="spacingAndGlyphs">-2</text>
<text x="229.25" y="360.89" font-size="6.6" fill="#000" text-anchor="middle" font-weight="normal" textLength="5.80" lengthAdjust="spacingAndGlyphs">-1</text>
<text x="286.95" y="360.89" font-size="6.6" fill="#000" text-anchor="middle" font-weight="normal" textLength="5.80" lengthAdjust="spacingAndGlyphs">-1</text>
<text x="222.13" y="375.69" font-size="6.6" fill="#000" text-anchor="middle" font-weight="normal" textLength="2.90" lengthAdjust="spacingAndGlyphs">0</text>
<text x="294.07" y="375.69" font-size="6.6" fill="#000" text-anchor="middle" font-weight="normal" textLength="2.90" lengthAdjust="spacingAndGlyphs">0</text>
<text x="222.13" y="392.11" font-size="6.6" fill="#000" text-anchor="middle" font-weight="normal" textLength="5.80" lengthAdjust="spacingAndGlyphs">+1</text>
<text x="294.07" y="392.11" font-size="6.6" fill="#000" text-anchor="middle" font-weight="normal" textLength="5.80" lengthAdjust="spacingAndGlyphs">+2</text>
<text x="229.25" y="406.91" font-size="6.6" fill="#000" text-anchor="middle" font-weight="normal" textLength="5.80" lengthAdjust="spacingAndGlyphs">+2</text>
<text x="286.95" y="406.91" font-size="6.6" fill="#000" text-anchor="middle" font-weight="normal" textLength="5.80" lengthAdjust="spacingAndGlyphs">+2</text>
<text x="242.09" y="417.15" font-size="6.6" fill="#000" text-anchor="middle" font-weight="normal" textLength="5.80" lengthAdjust="spacingAndGlyphs">+3</text>
<text x="274.11" y="417.15" font-size="6.6" fill="#000" text-anchor="middle" font-weight="normal" textLength="5.80" lengthAdjust="spacingAndGlyphs">+3</text>
<text x="258.10" y="420.80" font-size="6.6" fill="#000" text-anchor="middle" font-weight="normal" textLength="5.80" lengthAdjust="spacingAndGlyphs">+3</text>
<circle cx="260.6" cy="393.20000000000005" r="2.2" fill="none" stroke="#111" stroke-width="0.7"/>
<line x1="311.10" y1="381.60" x2="316.10" y2="381.60" stroke="#222" stroke-width="0.7" />
<line x1="304.43" y1="354.85" x2="306.60" y2="353.60" stroke="#222" stroke-width="0.7" />
<line x1="284.85" y1="335.27" x2="286.10" y2="333.10" stroke="#222" stroke-width="0.7" />
<line x1="258.10" y1="328.60" x2="258.10" y2="323.60" stroke="#222" stroke-width="0.7" />
<line x1="231.35" y1="335.27" x2="230.10" y2="333.10" stroke="#222" stroke-width="0.7" />
<line x1="211.77" y1="354.85" x2="209.60" y2="353.60" stroke="#222" stroke-width="0.7" />
<line x1="205.10" y1="381.60" x2="200.10" y2="381.60" stroke="#222" stroke-width="0.7" />
<line x1="211.77" y1="408.35" x2="209.60" y2="409.60" stroke="#222" stroke-width="0.7" />
<line x1="231.35" y1="427.93" x2="230.10" y2="430.10" stroke="#222" stroke-width="0.7" />
<line x1="258.10" y1="434.60" x2="258.10" y2="439.60" stroke="#222" stroke-width="0.7" />
<line x1="284.85" y1="427.93" x2="286.10" y2="430.10" stroke="#222" stroke-width="0.7" />
<line x1="304.43" y1="408.35" x2="306.60" y2="409.60" stroke="#222" stroke-width="0.7" />
<circle cx="206.90" cy="329.00" r="4.60" fill="none" stroke="#222" stroke-width="1.38"/>
<line x1="210.12" y1="332.22" x2="214.03" y2="336.36" stroke="#222" stroke-width="1.9319999999999997" />
<text x="207.90" y="340.20" font-size="7.6" fill="#222" text-anchor="middle" font-weight="normal" textLength="13.2" lengthAdjust="spacingAndGlyphs">9mm</text>
<text x="314.10" y="335.70" font-size="13.4" fill="#000" text-anchor="end" font-weight="bold" textLength="22.2" lengthAdjust="spacingAndGlyphs">OD</text>
<text x="210.60" y="437.60" font-size="8.2" fill="#333" text-anchor="middle" font-weight="normal" >T</text>
<text x="306.10" y="437.60" font-size="8.2" fill="#333" text-anchor="middle" font-weight="normal" >N</text>
<rect x="202.60" y="443.20" width="37.17" height="10.40" fill="#00d400" stroke="none" stroke-width="1" />
<line x1="202.60" y1="443.20" x2="202.60" y2="453.60" stroke="#444" stroke-width="0.7" />
<text x="221.18" y="450.80" font-size="6.8" fill="#222" text-anchor="middle" font-weight="normal" textLength="19.7" lengthAdjust="spacingAndGlyphs">&lt;12µm</text>
<rect x="239.77" y="443.20" width="37.17" height="10.40" fill="#ffff00" stroke="none" stroke-width="1" />
<line x1="239.77" y1="443.20" x2="239.77" y2="453.60" stroke="#444" stroke-width="0.7" />
<text x="258.35" y="450.80" font-size="6.8" fill="#222" text-anchor="middle" font-weight="normal" textLength="25.7" lengthAdjust="spacingAndGlyphs">12-16µm</text>
<rect x="276.93" y="443.20" width="37.17" height="10.40" fill="#e00000" stroke="none" stroke-width="1" />
<line x1="276.93" y1="443.20" x2="276.93" y2="453.60" stroke="#444" stroke-width="0.7" />
<text x="295.52" y="450.80" font-size="6.8" fill="#222" text-anchor="middle" font-weight="normal" textLength="20.5" lengthAdjust="spacingAndGlyphs">&gt;16µm</text>
<line x1="202.60" y1="443.60" x2="314.10" y2="443.60" stroke="#333" stroke-width="0.9" />
<line x1="203.00" y1="443.20" x2="203.00" y2="453.60" stroke="#333" stroke-width="0.9" />
<rect x="333.00" y="303.80" width="339.20" height="153.20" fill="#efefef" stroke="none" stroke-width="1" />
<text x="336.90" y="311.50" font-size="7.2" fill="#222" text-anchor="start" font-weight="normal" textLength="106.3" lengthAdjust="spacingAndGlyphs">Percentage Thickness Increase (PTI)</text>
<text x="360.60" y="320.20" font-size="7.2" fill="#222" text-anchor="middle" font-weight="normal" >0</text>
<text x="418.90" y="320.20" font-size="7.2" fill="#222" text-anchor="middle" font-weight="normal" >2</text>
<text x="477.20" y="320.20" font-size="7.2" fill="#222" text-anchor="middle" font-weight="normal" >4</text>
<text x="535.50" y="320.20" font-size="7.2" fill="#222" text-anchor="middle" font-weight="normal" >6</text>
<text x="593.80" y="320.20" font-size="7.2" fill="#222" text-anchor="middle" font-weight="normal" >8</text>
<text x="669.50" y="312.00" font-size="7.0" fill="#222" text-anchor="end" font-weight="normal" textLength="26" lengthAdjust="spacingAndGlyphs">Diameter</text>
<text x="652.10" y="320.00" font-size="7.2" fill="#222" text-anchor="middle" font-weight="normal" >10</text>
<text x="669.60" y="320.00" font-size="7.0" fill="#222" text-anchor="end" font-weight="normal" >mm</text>
<rect x="354.50" y="324.40" width="315.30" height="85.00" fill="#ffffff" stroke="none" stroke-width="1" />
<line x1="354.50" y1="325.20" x2="669.80" y2="325.20" stroke="#303030" stroke-width="1.6" />
<line x1="355.30" y1="324.40" x2="355.30" y2="409.40" stroke="#303030" stroke-width="1.6" />
<line x1="356.50" y1="341.00" x2="667.80" y2="341.00" stroke="#d8d8d8" stroke-width="0.7" stroke-dasharray="4 2"/>
<line x1="356.50" y1="351.60" x2="667.80" y2="351.60" stroke="#d8d8d8" stroke-width="0.7" stroke-dasharray="4 2"/>
<line x1="356.50" y1="362.20" x2="667.80" y2="362.20" stroke="#d8d8d8" stroke-width="0.7" stroke-dasharray="4 2"/>
<line x1="356.50" y1="372.80" x2="667.80" y2="372.80" stroke="#d8d8d8" stroke-width="0.7" stroke-dasharray="4 2"/>
<line x1="356.50" y1="383.40" x2="667.80" y2="383.40" stroke="#d8d8d8" stroke-width="0.7" stroke-dasharray="4 2"/>
<line x1="356.50" y1="394.00" x2="667.80" y2="394.00" stroke="#d8d8d8" stroke-width="0.7" stroke-dasharray="4 2"/>
<line x1="360.60" y1="330.40" x2="666.80" y2="330.40" stroke="#c0c0c0" stroke-width="0.7" />
<line x1="360.60" y1="325.90" x2="360.60" y2="405.90" stroke="#888" stroke-width="0.9" />
<line x1="358.60" y1="330.40" x2="360.60" y2="330.40" stroke="#888" stroke-width="0.7" />
<line x1="358.60" y1="341.00" x2="360.60" y2="341.00" stroke="#888" stroke-width="0.7" />
<line x1="358.60" y1="351.60" x2="360.60" y2="351.60" stroke="#888" stroke-width="0.7" />
<line x1="358.60" y1="362.20" x2="360.60" y2="362.20" stroke="#888" stroke-width="0.7" />
<line x1="358.60" y1="372.80" x2="360.60" y2="372.80" stroke="#888" stroke-width="0.7" />
<line x1="358.60" y1="383.40" x2="360.60" y2="383.40" stroke="#888" stroke-width="0.7" />
<line x1="358.60" y1="394.00" x2="360.60" y2="394.00" stroke="#888" stroke-width="0.7" />
<line x1="418.90" y1="325.90" x2="418.90" y2="329.90" stroke="#888" stroke-width="0.7" />
<line x1="477.20" y1="325.90" x2="477.20" y2="329.90" stroke="#888" stroke-width="0.7" />
<line x1="535.50" y1="325.90" x2="535.50" y2="329.90" stroke="#888" stroke-width="0.7" />
<line x1="593.80" y1="325.90" x2="593.80" y2="329.90" stroke="#888" stroke-width="0.7" />
<line x1="652.10" y1="325.90" x2="652.10" y2="329.90" stroke="#888" stroke-width="0.7" />
<text x="350.20" y="333.00" font-size="7.2" fill="#222" text-anchor="end" font-weight="normal" >0</text>
<text x="350.20" y="343.60" font-size="7.2" fill="#222" text-anchor="end" font-weight="normal" >10</text>
<text x="350.20" y="354.20" font-size="7.2" fill="#222" text-anchor="end" font-weight="normal" >20</text>
<text x="350.20" y="364.80" font-size="7.2" fill="#222" text-anchor="end" font-weight="normal" >30</text>
<text x="350.20" y="375.40" font-size="7.2" fill="#222" text-anchor="end" font-weight="normal" >40</text>
<text x="350.20" y="386.00" font-size="7.2" fill="#222" text-anchor="end" font-weight="normal" >50</text>
<text x="350.20" y="396.60" font-size="7.2" fill="#222" text-anchor="end" font-weight="normal" >60</text>
<text x="350.20" y="407.20" font-size="7.2" fill="#222" text-anchor="end" font-weight="normal" >%</text>
<polyline points="360.60,330.40 418.90,329.87 477.20,334.11 535.50,341.42 593.80,350.54 652.10,361.14" fill="none" stroke="#111" stroke-width="0.9" stroke-dasharray="1.6 1.6"/>
<circle cx="418.90" cy="329.87" r="1.1" fill="#111"/>
<circle cx="477.20" cy="334.11" r="1.1" fill="#111"/>
<circle cx="535.50" cy="341.42" r="1.1" fill="#111"/>
<circle cx="593.80" cy="350.54" r="1.1" fill="#111"/>
<circle cx="652.10" cy="361.14" r="1.1" fill="#111"/>
<polyline points="360.60,330.40 418.90,330.93 477.20,337.61 535.50,347.25 593.80,359.97 652.10,375.98" fill="none" stroke="#111" stroke-width="0.9" stroke-dasharray="1.6 1.6"/>
<circle cx="418.90" cy="330.93" r="1.1" fill="#111"/>
<circle cx="477.20" cy="337.61" r="1.1" fill="#111"/>
<circle cx="535.50" cy="347.25" r="1.1" fill="#111"/>
<circle cx="593.80" cy="359.97" r="1.1" fill="#111"/>
<circle cx="652.10" cy="375.98" r="1.1" fill="#111"/>
<polyline points="360.60,330.40 418.90,331.99 477.20,340.15 535.50,352.66 593.80,369.62 652.10,391.24" fill="none" stroke="#111" stroke-width="0.9" stroke-dasharray="1.6 1.6"/>
<circle cx="418.90" cy="331.99" r="1.1" fill="#111"/>
<circle cx="477.20" cy="340.15" r="1.1" fill="#111"/>
<circle cx="535.50" cy="352.66" r="1.1" fill="#111"/>
<circle cx="593.80" cy="369.62" r="1.1" fill="#111"/>
<circle cx="652.10" cy="391.24" r="1.1" fill="#111"/>
<polyline points="360.60,330.40 375.18,330.88 389.75,331.41 404.33,331.99 418.90,332.73 433.48,334.11 448.05,335.70 462.62,337.61 477.20,340.36 491.77,342.70 506.35,345.35 520.92,348.42 535.50,352.45 550.08,356.26 564.65,360.93 579.23,366.44" fill="none" stroke="#ee1010" stroke-width="1.3"/>
<polyline points="579.23,366.44 593.80,372.27" fill="none" stroke="#f06060" stroke-width="1.0" stroke-dasharray="3 2"/>
<circle cx="360.60" cy="330.40" r="0.7" fill="#cc0000"/>
<circle cx="389.75" cy="331.41" r="0.7" fill="#cc0000"/>
<circle cx="418.90" cy="332.73" r="0.7" fill="#cc0000"/>
<circle cx="448.05" cy="335.70" r="0.7" fill="#cc0000"/>
<circle cx="477.20" cy="340.36" r="0.7" fill="#cc0000"/>
<circle cx="506.35" cy="345.35" r="0.7" fill="#cc0000"/>
<circle cx="535.50" cy="352.45" r="0.7" fill="#cc0000"/>
<circle cx="564.65" cy="360.93" r="0.7" fill="#cc0000"/>
<circle cx="360.60" cy="330.40" r="1.5" fill="#ee1010"/>
<circle cx="418.90" cy="332.73" r="1.5" fill="#ee1010"/>
<circle cx="477.20" cy="340.36" r="1.5" fill="#ee1010"/>
<circle cx="535.50" cy="352.45" r="1.5" fill="#ee1010"/>
<circle cx="593.80" cy="372.27" r="1.5" fill="#ee1010"/>
<rect x="333.00" y="419.20" width="339.20" height="2.80" fill="#4a4a4a" stroke="none" stroke-width="1" />
<text x="338.00" y="435.30" font-size="7.0" fill="#222" text-anchor="start" font-weight="normal" textLength="61" lengthAdjust="spacingAndGlyphs">Reference Database:</text>
<circle cx="414.00" cy="432.10" r="2.6" fill="#fff" stroke="#777" stroke-width="0.7"/>
<circle cx="414.00" cy="432.10" r="1.0" fill="#111"/>
<rect x="420.80" y="427.90" width="44.50" height="9.40" fill="none" stroke="#666" stroke-width="0.7" />
<text x="422.00" y="435.30" font-size="7.0" fill="#222" text-anchor="start" font-weight="normal" textLength="42.5" lengthAdjust="spacingAndGlyphs">Myopic/Normal</text>
<circle cx="532.90" cy="432.10" r="2.6" fill="#fff" stroke="#777" stroke-width="0.7"/>
<text x="539.40" y="435.30" font-size="7.0" fill="#222" text-anchor="start" font-weight="normal" textLength="61" lengthAdjust="spacingAndGlyphs">Hyperopic/Mixed Cyl.</text>
<rect x="633.70" y="426.70" width="32.00" height="11.40" fill="#f4f4f4" stroke="#888" stroke-width="0.7" />
<line x1="665.70" y1="426.70" x2="665.70" y2="438.10" stroke="#444" stroke-width="0.9" />
<line x1="633.70" y1="438.10" x2="665.70" y2="438.10" stroke="#444" stroke-width="0.9" />
<text x="649.70" y="435.30" font-size="7.0" fill="#222" text-anchor="middle" font-weight="normal" textLength="27" lengthAdjust="spacingAndGlyphs">Literature</text>
<line x1="333.00" y1="440.70" x2="672.20" y2="440.70" stroke="#b0b0b0" stroke-width="0.8" />
<line x1="333.00" y1="441.60" x2="672.20" y2="441.60" stroke="#fafafa" stroke-width="0.8" />
<text x="338.00" y="452.20" font-size="7.0" fill="#222" text-anchor="start" font-weight="normal" >Df:</text>
<rect x="353.30" y="444.20" width="22.50" height="10.20" fill="#ffffff" stroke="none" stroke-width="1" />
<line x1="353.30" y1="444.60" x2="375.80" y2="444.60" stroke="#333" stroke-width="0.9" />
<line x1="353.70" y1="444.20" x2="353.70" y2="454.40" stroke="#333" stroke-width="0.9" />
<text x="355.30" y="452.20" font-size="7.0" fill="#111" text-anchor="start" font-weight="normal" >-0.82</text>
<text x="386.10" y="452.20" font-size="7.0" fill="#222" text-anchor="start" font-weight="normal" >Db:</text>
<rect x="401.30" y="444.20" width="22.50" height="10.20" fill="#e00000" stroke="none" stroke-width="1" />
<line x1="401.30" y1="444.60" x2="423.80" y2="444.60" stroke="#333" stroke-width="0.9" />
<line x1="401.70" y1="444.20" x2="401.70" y2="454.40" stroke="#333" stroke-width="0.9" />
<text x="403.30" y="452.20" font-size="7.0" fill="#fff" text-anchor="start" font-weight="normal" >3.74</text>
<text x="434.70" y="452.20" font-size="7.0" fill="#222" text-anchor="start" font-weight="normal" >Dp:</text>
<rect x="450.00" y="444.20" width="22.50" height="10.20" fill="#e00000" stroke="none" stroke-width="1" />
<line x1="450.00" y1="444.60" x2="472.50" y2="444.60" stroke="#333" stroke-width="0.9" />
<line x1="450.40" y1="444.20" x2="450.40" y2="454.40" stroke="#333" stroke-width="0.9" />
<text x="452.00" y="452.20" font-size="7.0" fill="#fff" text-anchor="start" font-weight="normal" >2.82</text>
<text x="483.20" y="452.20" font-size="7.0" fill="#222" text-anchor="start" font-weight="normal" >Dt:</text>
<rect x="497.70" y="444.20" width="22.50" height="10.20" fill="#ffffff" stroke="none" stroke-width="1" />
<line x1="497.70" y1="444.60" x2="520.20" y2="444.60" stroke="#333" stroke-width="0.9" />
<line x1="498.10" y1="444.20" x2="498.10" y2="454.40" stroke="#333" stroke-width="0.9" />
<text x="499.70" y="452.20" font-size="7.0" fill="#111" text-anchor="start" font-weight="normal" >-0.93</text>
<text x="531.00" y="452.20" font-size="7.0" fill="#222" text-anchor="start" font-weight="normal" >Da:</text>
<rect x="547.00" y="444.20" width="22.50" height="10.20" fill="#ffff00" stroke="none" stroke-width="1" />
<line x1="547.00" y1="444.60" x2="569.50" y2="444.60" stroke="#333" stroke-width="0.9" />
<line x1="547.40" y1="444.20" x2="547.40" y2="454.40" stroke="#333" stroke-width="0.9" />
<text x="549.00" y="452.20" font-size="7.0" fill="#111" text-anchor="start" font-weight="normal" >1.73</text>
<line x1="574.50" y1="441.80" x2="574.50" y2="456.00" stroke="#b0b0b0" stroke-width="0.8" />
<text x="601.70" y="452.20" font-size="8.5" fill="#222" text-anchor="start" font-weight="bold" >D:</text>
<rect x="617.70" y="443.90" width="32.50" height="11.30" fill="#ffff00" stroke="none" stroke-width="1" />
<line x1="617.70" y1="444.30" x2="650.20" y2="444.30" stroke="#333" stroke-width="0.9" />
<line x1="618.10" y1="443.90" x2="618.10" y2="455.20" stroke="#333" stroke-width="0.9" />
<text x="619.90" y="452.70" font-size="8.5" fill="#111" text-anchor="start" font-weight="bold" >2.98</text>
<rect x="4.50" y="470.00" width="668.00" height="318.00" fill="#ffffff" stroke="#505050" stroke-width="1" />
<rect x="6.00" y="482.20" width="151.60" height="150.50" fill="#efefef" stroke="none" stroke-width="1" />
<line x1="7.00" y1="495.20" x2="156.60" y2="495.20" stroke="#a8a8a8" stroke-width="0.8" />
<text x="82.10" y="490.40" font-size="5.1" fill="#333" text-anchor="middle" font-weight="normal" textLength="63.2" lengthAdjust="spacingAndGlyphs">Axial / Sagittal Curvature (Front)</text>
<rect x="79.80" y="494.20" width="17.00" height="2.50" fill="#efefef" stroke="none" stroke-width="1" />
<line x1="18.70" y1="499.18" x2="18.70" y2="619.62" stroke="#7a7a7a" stroke-width="0.8" />
<line x1="16.50" y1="506.76" x2="18.70" y2="506.76" stroke="#7a7a7a" stroke-width="0.7" />
<line x1="16.50" y1="519.92" x2="18.70" y2="519.92" stroke="#7a7a7a" stroke-width="0.7" />
<line x1="16.50" y1="533.08" x2="18.70" y2="533.08" stroke="#7a7a7a" stroke-width="0.7" />
<line x1="16.50" y1="546.24" x2="18.70" y2="546.24" stroke="#7a7a7a" stroke-width="0.7" />
<line x1="16.50" y1="559.40" x2="18.70" y2="559.40" stroke="#7a7a7a" stroke-width="0.7" />
<line x1="16.50" y1="572.56" x2="18.70" y2="572.56" stroke="#7a7a7a" stroke-width="0.7" />
<line x1="16.50" y1="585.72" x2="18.70" y2="585.72" stroke="#7a7a7a" stroke-width="0.7" />
<line x1="16.50" y1="598.88" x2="18.70" y2="598.88" stroke="#7a7a7a" stroke-width="0.7" />
<line x1="16.50" y1="612.04" x2="18.70" y2="612.04" stroke="#7a7a7a" stroke-width="0.7" />
<text x="13.30" y="508.70" font-size="5.4" fill="#3c3c3c" text-anchor="middle" font-weight="normal" >8</text>
<text x="13.30" y="535.02" font-size="5.4" fill="#3c3c3c" text-anchor="middle" font-weight="normal" >4</text>
<text x="13.30" y="561.34" font-size="5.4" fill="#3c3c3c" text-anchor="middle" font-weight="normal" >0</text>
<text x="13.30" y="587.66" font-size="5.4" fill="#3c3c3c" text-anchor="middle" font-weight="normal" >4</text>
<text x="13.30" y="613.98" font-size="5.4" fill="#3c3c3c" text-anchor="middle" font-weight="normal" >8</text>
<line x1="29.08" y1="625.70" x2="147.52" y2="625.70" stroke="#7a7a7a" stroke-width="0.8" />
<line x1="35.66" y1="625.70" x2="35.66" y2="627.90" stroke="#7a7a7a" stroke-width="0.7" />
<line x1="48.82" y1="625.70" x2="48.82" y2="627.90" stroke="#7a7a7a" stroke-width="0.7" />
<line x1="61.98" y1="625.70" x2="61.98" y2="627.90" stroke="#7a7a7a" stroke-width="0.7" />
<line x1="75.14" y1="625.70" x2="75.14" y2="627.90" stroke="#7a7a7a" stroke-width="0.7" />
<line x1="88.30" y1="625.70" x2="88.30" y2="627.90" stroke="#7a7a7a" stroke-width="0.7" />
<line x1="101.46" y1="625.70" x2="101.46" y2="627.90" stroke="#7a7a7a" stroke-width="0.7" />
<line x1="114.62" y1="625.70" x2="114.62" y2="627.90" stroke="#7a7a7a" stroke-width="0.7" />
<line x1="127.78" y1="625.70" x2="127.78" y2="627.90" stroke="#7a7a7a" stroke-width="0.7" />
<line x1="140.94" y1="625.70" x2="140.94" y2="627.90" stroke="#7a7a7a" stroke-width="0.7" />
<text x="35.66" y="633.00" font-size="5.4" fill="#3c3c3c" text-anchor="middle" font-weight="normal" >8</text>
<text x="61.98" y="633.00" font-size="5.4" fill="#3c3c3c" text-anchor="middle" font-weight="normal" >4</text>
<text x="88.30" y="633.00" font-size="5.4" fill="#3c3c3c" text-anchor="middle" font-weight="normal" >0</text>
<text x="114.62" y="633.00" font-size="5.4" fill="#3c3c3c" text-anchor="middle" font-weight="normal" >4</text>
<text x="140.94" y="633.00" font-size="5.4" fill="#3c3c3c" text-anchor="middle" font-weight="normal" >8</text>
<clipPath id="c12"><circle cx="88.3" cy="559.4" r="59.0"/></clipPath>
<g clip-path="url(#c12)">
<defs><radialGradient id="g13" gradientUnits="userSpaceOnUse" cx="85.30" cy="559.40" r="61.00" fx="85.30" fy="559.40"><stop offset="0" stop-color="#00e4f4"/><stop offset="0.7" stop-color="#00dcff"/><stop offset="0.8" stop-color="#00bcff"/><stop offset="0.87" stop-color="#0098ff"/><stop offset="0.93" stop-color="#0070f8"/><stop offset="0.97" stop-color="#0050e8"/><stop offset="1" stop-color="#1a34d0"/></radialGradient></defs>
<circle cx="88.3" cy="559.4" r="60.0" fill="url(#g13)"/>
<g filter="url(#mb)">
<path d="M87.70,513.90 C82.87,513.90 73.95,514.37 69.30,514.90 C64.65,515.43 62.88,516.07 59.80,517.10 C56.72,518.13 53.30,519.43 50.80,521.10 C48.30,522.77 46.22,524.72 44.80,527.10 C43.38,529.48 42.88,532.47 42.30,535.40 C41.72,538.33 41.47,541.53 41.30,544.70 C41.13,547.87 40.13,550.53 41.30,554.40 C42.47,558.27 45.47,563.82 48.30,567.90 C51.13,571.98 55.38,575.73 58.30,578.90 C61.22,582.07 63.47,584.32 65.80,586.90 C68.13,589.48 68.75,592.15 72.30,594.40 C75.85,596.65 81.77,599.73 87.10,600.40 C92.43,601.07 98.68,599.65 104.30,598.40 C109.92,597.15 116.47,595.90 120.80,592.90 C125.13,589.90 127.97,584.65 130.30,580.40 C132.63,576.15 134.13,570.90 134.80,567.40 C135.47,563.90 134.55,562.32 134.30,559.40 C134.05,556.48 134.13,553.40 133.30,549.90 C132.47,546.40 131.30,542.23 129.30,538.40 C127.30,534.57 124.47,530.15 121.30,526.90 C118.13,523.65 114.13,520.90 110.30,518.90 C106.47,516.90 102.07,515.73 98.30,514.90 C94.53,514.07 92.53,513.90 87.70,513.90 Z" fill="#00e0b4" />
<path d="M87.70,516.70 C84.40,516.50 81.57,516.97 78.50,517.20 C75.43,517.43 72.35,517.65 69.30,518.10 C66.25,518.55 63.10,518.98 60.20,519.90 C57.30,520.82 54.05,522.07 51.90,523.60 C49.75,525.13 48.22,527.10 47.30,529.10 C46.38,531.10 46.87,533.00 46.40,535.60 C45.93,538.20 44.88,541.65 44.50,544.70 C44.12,547.75 42.97,550.10 44.10,553.90 C45.23,557.70 48.53,563.67 51.30,567.50 C54.07,571.33 57.88,574.08 60.70,576.90 C63.52,579.72 65.98,581.90 68.20,584.40 C70.42,586.90 70.85,589.70 74.00,591.90 C77.15,594.10 82.10,596.97 87.10,597.60 C92.10,598.23 98.67,596.95 104.00,595.70 C109.33,594.45 115.17,592.92 119.10,590.10 C123.03,587.28 125.40,582.57 127.60,578.80 C129.80,575.03 131.70,570.73 132.30,567.50 C132.90,564.27 131.55,562.28 131.20,559.40 C130.85,556.52 130.97,553.42 130.20,550.20 C129.43,546.98 128.58,543.62 126.60,540.10 C124.62,536.58 121.35,532.13 118.30,529.10 C115.25,526.07 111.63,523.68 108.30,521.90 C104.97,520.12 101.73,519.27 98.30,518.40 C94.87,517.53 91.00,516.90 87.70,516.70 Z" fill="#3cd63c" />
<path d="M87.79,522.80 C84.98,522.63 82.58,523.03 79.97,523.23 C77.36,523.43 74.74,523.61 72.15,524.00 C69.56,524.38 66.88,524.75 64.41,525.52 C61.95,526.30 59.19,527.37 57.36,528.67 C55.53,529.97 54.23,531.64 53.45,533.35 C52.67,535.05 53.08,536.66 52.69,538.87 C52.29,541.08 51.40,544.01 51.07,546.61 C50.74,549.20 49.77,551.19 50.73,554.42 C51.69,557.65 54.50,562.73 56.85,565.99 C59.20,569.24 62.45,571.58 64.84,573.98 C67.23,576.37 69.33,578.23 71.22,580.35 C73.10,582.48 73.47,584.86 76.14,586.73 C78.82,588.60 83.03,591.03 87.28,591.57 C91.53,592.11 97.11,591.02 101.64,589.95 C106.18,588.89 111.14,587.59 114.48,585.19 C117.82,582.80 119.83,578.79 121.70,575.59 C123.57,572.39 125.19,568.73 125.70,565.99 C126.21,563.24 125.06,561.55 124.76,559.10 C124.47,556.65 124.57,554.01 123.91,551.28 C123.26,548.55 122.54,545.68 120.85,542.69 C119.17,539.71 116.39,535.92 113.80,533.35 C111.21,530.77 108.13,528.74 105.30,527.23 C102.47,525.71 99.72,524.99 96.80,524.25 C93.88,523.51 90.59,522.97 87.79,522.80 Z" fill="#4cd834" />
<ellipse cx="85.3" cy="555.4" rx="34" ry="27" fill="#5cdc2c" transform="rotate(45 85.3 555.4)"/>
<ellipse cx="83.3" cy="552.4" rx="29" ry="20" fill="#84e41c" transform="rotate(45 83.3 552.4)"/>
<ellipse cx="80.3" cy="549.4" rx="24" ry="14" fill="#b4ec0c" transform="rotate(45 80.3 549.4)"/>
<ellipse cx="77.8" cy="546.9" rx="18.5" ry="9.5" fill="#f4f400" transform="rotate(45 77.8 546.9)"/>
</g>
</g>
<circle cx="88.3" cy="559.4" r="20.5" fill="none" stroke="#1c1c1c" stroke-width="0.6"/>
<circle cx="88.3" cy="559.4" r="34.0" fill="none" stroke="#1c1c1c" stroke-width="0.6"/>
<circle cx="88.3" cy="559.4" r="46.3" fill="none" stroke="#1c1c1c" stroke-width="0.6"/>
<circle cx="87.5" cy="560.0" r="23.5" fill="none" stroke="#f4f4f4" stroke-width="0.8" stroke-dasharray="1.9 1.9"/>
<circle cx="87.5" cy="560.0" r="23.5" fill="none" stroke="#1a1a1a" stroke-width="0.8" stroke-dasharray="1.9 1.9" stroke-dashoffset="1.9"/>
<circle cx="112.49" cy="507.53" r="0.55" fill="#111"/>
<circle cx="107.87" cy="505.62" r="0.55" fill="#111"/>
<circle cx="103.11" cy="504.12" r="0.55" fill="#111"/>
<circle cx="98.24" cy="503.04" r="0.55" fill="#111"/>
<circle cx="93.29" cy="502.39" r="0.55" fill="#111"/>
<circle cx="88.30" cy="502.17" r="0.55" fill="#111"/>
<circle cx="83.31" cy="502.39" r="0.55" fill="#111"/>
<circle cx="78.36" cy="503.04" r="0.55" fill="#111"/>
<circle cx="73.49" cy="504.12" r="0.55" fill="#111"/>
<circle cx="68.73" cy="505.62" r="0.55" fill="#111"/>
<circle cx="64.11" cy="507.53" r="0.55" fill="#111"/>
<line x1="60.80" y1="522.30" x2="68.30" y2="532.70" stroke="#8a0a0a" stroke-width="1.5" />
<line x1="68.30" y1="532.70" x2="77.70" y2="541.10" stroke="#8a0a0a" stroke-width="1.5" />
<line x1="81.50" y1="541.10" x2="89.00" y2="559.00" stroke="#8a0a0a" stroke-width="1.5" />
<line x1="89.00" y1="559.00" x2="98.40" y2="576.00" stroke="#8a0a0a" stroke-width="1.5" />
<line x1="104.00" y1="570.30" x2="115.30" y2="578.80" stroke="#8a0a0a" stroke-width="1.5" />
<line x1="115.30" y1="578.80" x2="127.60" y2="584.40" stroke="#8a0a0a" stroke-width="1.5" />
<line x1="98.40" y1="527.00" x2="102.20" y2="515.80" stroke="#101080" stroke-width="1.5" />
<line x1="104.00" y1="545.90" x2="113.40" y2="538.30" stroke="#101080" stroke-width="1.5" />
<line x1="88.30" y1="559.40" x2="107.80" y2="557.10" stroke="#101080" stroke-width="1.5" />
<line x1="88.30" y1="559.40" x2="73.00" y2="572.20" stroke="#101080" stroke-width="1.5" />
<line x1="68.30" y1="584.40" x2="73.90" y2="575.00" stroke="#101080" stroke-width="1.5" />
<line x1="51.40" y1="586.30" x2="61.70" y2="578.80" stroke="#101080" stroke-width="1.5" />
<rect x="89.90" y="517.40" width="9.40" height="5.40" fill="#f4f4ff" stroke="none" stroke-width="1" fill-opacity="0.92"/>
<text x="94.60" y="521.95" font-size="5.0" fill="#3828e0" text-anchor="middle" font-weight="normal" textLength="8.6" lengthAdjust="spacingAndGlyphs">47.5</text>
<rect x="56.10" y="527.50" width="9.40" height="5.40" fill="#fff4fa" stroke="none" stroke-width="1" fill-opacity="0.92"/>
<text x="60.80" y="532.05" font-size="5.0" fill="#f02848" text-anchor="middle" font-weight="normal" textLength="8.6" lengthAdjust="spacingAndGlyphs">47.8</text>
<rect x="63.20" y="540.30" width="9.40" height="5.40" fill="#fff4fa" stroke="none" stroke-width="1" fill-opacity="0.92"/>
<text x="67.90" y="544.85" font-size="5.0" fill="#f02848" text-anchor="middle" font-weight="normal" textLength="8.6" lengthAdjust="spacingAndGlyphs">49.7</text>
<rect x="100.30" y="536.90" width="9.40" height="5.40" fill="#f4f4ff" stroke="none" stroke-width="1" fill-opacity="0.92"/>
<text x="105.00" y="541.45" font-size="5.0" fill="#3828e0" text-anchor="middle" font-weight="normal" textLength="8.6" lengthAdjust="spacingAndGlyphs">48.8</text>
<rect x="79.60" y="547.90" width="9.40" height="5.40" fill="#fff4fa" stroke="none" stroke-width="1" fill-opacity="0.92"/>
<text x="84.30" y="552.45" font-size="5.0" fill="#f02848" text-anchor="middle" font-weight="normal" textLength="8.6" lengthAdjust="spacingAndGlyphs">50.5</text>
<rect x="92.80" y="555.00" width="9.40" height="5.40" fill="#f4f4ff" stroke="none" stroke-width="1" fill-opacity="0.92"/>
<text x="97.50" y="559.55" font-size="5.0" fill="#3828e0" text-anchor="middle" font-weight="normal" textLength="8.6" lengthAdjust="spacingAndGlyphs">48.7</text>
<rect x="75.80" y="562.90" width="9.40" height="5.40" fill="#f4f4ff" stroke="none" stroke-width="1" fill-opacity="0.92"/>
<text x="80.50" y="567.45" font-size="5.0" fill="#3828e0" text-anchor="middle" font-weight="normal" textLength="8.6" lengthAdjust="spacingAndGlyphs">48.5</text>
<rect x="89.00" y="564.80" width="9.40" height="5.40" fill="#fff4fa" stroke="none" stroke-width="1" fill-opacity="0.92"/>
<text x="93.70" y="569.35" font-size="5.0" fill="#f02848" text-anchor="middle" font-weight="normal" textLength="8.6" lengthAdjust="spacingAndGlyphs">49.3</text>
<rect x="106.90" y="567.20" width="9.40" height="5.40" fill="#fff4fa" stroke="none" stroke-width="1" fill-opacity="0.92"/>
<text x="111.60" y="571.75" font-size="5.0" fill="#f02848" text-anchor="middle" font-weight="normal" textLength="8.6" lengthAdjust="spacingAndGlyphs">48.6</text>
<rect x="119.10" y="573.30" width="9.40" height="5.40" fill="#fff4fa" stroke="none" stroke-width="1" fill-opacity="0.92"/>
<text x="123.80" y="577.85" font-size="5.0" fill="#f02848" text-anchor="middle" font-weight="normal" textLength="8.6" lengthAdjust="spacingAndGlyphs">48.3</text>
<rect x="70.20" y="579.80" width="9.40" height="5.40" fill="#f4f4ff" stroke="none" stroke-width="1" fill-opacity="0.92"/>
<text x="74.90" y="584.35" font-size="5.0" fill="#3828e0" text-anchor="middle" font-weight="normal" textLength="8.6" lengthAdjust="spacingAndGlyphs">48.0</text>
<rect x="52.30" y="583.60" width="9.40" height="5.40" fill="#f4f4ff" stroke="none" stroke-width="1" fill-opacity="0.92"/>
<text x="57.00" y="588.15" font-size="5.0" fill="#3828e0" text-anchor="middle" font-weight="normal" textLength="8.6" lengthAdjust="spacingAndGlyphs">46.1</text>
<text x="42.00" y="561.20" font-size="5" fill="#222" text-anchor="middle" font-weight="normal" >7</text>
<text x="54.30" y="561.20" font-size="5" fill="#222" text-anchor="middle" font-weight="normal" >5</text>
<text x="67.80" y="561.20" font-size="5" fill="#222" text-anchor="middle" font-weight="normal" >3</text>
<text x="108.80" y="561.20" font-size="5" fill="#222" text-anchor="middle" font-weight="normal" >3</text>
<text x="122.30" y="561.20" font-size="5" fill="#222" text-anchor="middle" font-weight="normal" >5</text>
<text x="134.60" y="561.20" font-size="5" fill="#222" text-anchor="middle" font-weight="normal" >7</text>
<text x="150.80" y="559.40" font-size="5.0" fill="#333" text-anchor="middle" dominant-baseline="central" transform="rotate(90.0 150.80 559.40)">0°</text>
<text x="142.43" y="528.15" font-size="5.0" fill="#333" text-anchor="middle" dominant-baseline="central" transform="rotate(60.0 142.43 528.15)">30°</text>
<text x="119.55" y="505.27" font-size="5.0" fill="#333" text-anchor="middle" dominant-baseline="central" transform="rotate(30.0 119.55 505.27)">60°</text>
<text x="88.30" y="496.90" font-size="5.0" fill="#333" text-anchor="middle" dominant-baseline="central" transform="rotate(0.0 88.30 496.90)">90°</text>
<text x="57.05" y="505.27" font-size="5.0" fill="#333" text-anchor="middle" dominant-baseline="central" transform="rotate(-30.0 57.05 505.27)">120°</text>
<text x="34.17" y="528.15" font-size="5.0" fill="#333" text-anchor="middle" dominant-baseline="central" transform="rotate(-60.0 34.17 528.15)">150°</text>
<text x="25.80" y="559.40" font-size="5.0" fill="#333" text-anchor="middle" dominant-baseline="central" transform="rotate(-90.0 25.80 559.40)">180°</text>
<text x="34.17" y="590.65" font-size="5.0" fill="#333" text-anchor="middle" dominant-baseline="central" transform="rotate(60.0 34.17 590.65)">210°</text>
<text x="57.05" y="613.53" font-size="5.0" fill="#333" text-anchor="middle" dominant-baseline="central" transform="rotate(30.0 57.05 613.53)">240°</text>
<text x="88.30" y="621.90" font-size="5.0" fill="#333" text-anchor="middle" dominant-baseline="central" transform="rotate(0.0 88.30 621.90)">270°</text>
<text x="119.55" y="613.53" font-size="5.0" fill="#333" text-anchor="middle" dominant-baseline="central" transform="rotate(-30.0 119.55 613.53)">300°</text>
<text x="142.43" y="590.65" font-size="5.0" fill="#333" text-anchor="middle" dominant-baseline="central" transform="rotate(-60.0 142.43 590.65)">330°</text>
<line x1="144.52" y1="544.34" x2="147.22" y2="543.61" stroke="#222" stroke-width="0.7" />
<line x1="129.45" y1="518.25" x2="131.43" y2="516.27" stroke="#222" stroke-width="0.7" />
<line x1="103.36" y1="503.18" x2="104.09" y2="500.48" stroke="#222" stroke-width="0.7" />
<line x1="73.24" y1="503.18" x2="72.51" y2="500.48" stroke="#222" stroke-width="0.7" />
<line x1="47.15" y1="518.25" x2="45.17" y2="516.27" stroke="#222" stroke-width="0.7" />
<line x1="32.08" y1="544.34" x2="29.38" y2="543.61" stroke="#222" stroke-width="0.7" />
<line x1="32.08" y1="574.46" x2="29.38" y2="575.19" stroke="#222" stroke-width="0.7" />
<line x1="47.15" y1="600.55" x2="45.17" y2="602.53" stroke="#222" stroke-width="0.7" />
<line x1="73.24" y1="615.62" x2="72.51" y2="618.32" stroke="#222" stroke-width="0.7" />
<line x1="103.36" y1="615.62" x2="104.09" y2="618.32" stroke="#222" stroke-width="0.7" />
<line x1="129.45" y1="600.55" x2="131.43" y2="602.53" stroke="#222" stroke-width="0.7" />
<line x1="144.52" y1="574.46" x2="147.22" y2="575.19" stroke="#222" stroke-width="0.7" />
<circle cx="33.10" cy="499.60" r="2.70" fill="none" stroke="#222" stroke-width="0.81"/>
<line x1="34.99" y1="501.49" x2="37.28" y2="503.92" stroke="#222" stroke-width="1.1340000000000001" />
<text x="33.60" y="507.60" font-size="5.4" fill="#222" text-anchor="middle" font-weight="normal" textLength="9.4" lengthAdjust="spacingAndGlyphs">9mm</text>
<text x="148.70" y="504.90" font-size="9.6" fill="#000" text-anchor="end" font-weight="bold" >OS</text>
<text x="32.00" y="622.80" font-size="7.0" fill="#333" text-anchor="middle" font-weight="normal" >N</text>
<text x="144.60" y="622.80" font-size="7.0" fill="#333" text-anchor="middle" font-weight="normal" >T</text>
<rect x="174.40" y="482.20" width="151.90" height="150.50" fill="#efefef" stroke="none" stroke-width="1" />
<line x1="175.40" y1="495.30" x2="325.30" y2="495.30" stroke="#a8a8a8" stroke-width="0.8" />
<text x="250.65" y="490.50" font-size="5.1" fill="#333" text-anchor="middle" font-weight="normal" textLength="36.7" lengthAdjust="spacingAndGlyphs">Corneal Thickness</text>
<rect x="247.80" y="494.30" width="17.00" height="2.50" fill="#efefef" stroke="none" stroke-width="1" />
<line x1="186.70" y1="499.38" x2="186.70" y2="619.82" stroke="#7a7a7a" stroke-width="0.8" />
<line x1="184.50" y1="506.96" x2="186.70" y2="506.96" stroke="#7a7a7a" stroke-width="0.7" />
<line x1="184.50" y1="520.12" x2="186.70" y2="520.12" stroke="#7a7a7a" stroke-width="0.7" />
<line x1="184.50" y1="533.28" x2="186.70" y2="533.28" stroke="#7a7a7a" stroke-width="0.7" />
<line x1="184.50" y1="546.44" x2="186.70" y2="546.44" stroke="#7a7a7a" stroke-width="0.7" />
<line x1="184.50" y1="559.60" x2="186.70" y2="559.60" stroke="#7a7a7a" stroke-width="0.7" />
<line x1="184.50" y1="572.76" x2="186.70" y2="572.76" stroke="#7a7a7a" stroke-width="0.7" />
<line x1="184.50" y1="585.92" x2="186.70" y2="585.92" stroke="#7a7a7a" stroke-width="0.7" />
<line x1="184.50" y1="599.08" x2="186.70" y2="599.08" stroke="#7a7a7a" stroke-width="0.7" />
<line x1="184.50" y1="612.24" x2="186.70" y2="612.24" stroke="#7a7a7a" stroke-width="0.7" />
<text x="181.30" y="508.90" font-size="5.4" fill="#3c3c3c" text-anchor="middle" font-weight="normal" >8</text>
<text x="181.30" y="535.22" font-size="5.4" fill="#3c3c3c" text-anchor="middle" font-weight="normal" >4</text>
<text x="181.30" y="561.54" font-size="5.4" fill="#3c3c3c" text-anchor="middle" font-weight="normal" >0</text>
<text x="181.30" y="587.86" font-size="5.4" fill="#3c3c3c" text-anchor="middle" font-weight="normal" >4</text>
<text x="181.30" y="614.18" font-size="5.4" fill="#3c3c3c" text-anchor="middle" font-weight="normal" >8</text>
<line x1="197.08" y1="625.90" x2="315.52" y2="625.90" stroke="#7a7a7a" stroke-width="0.8" />
<line x1="203.66" y1="625.90" x2="203.66" y2="628.10" stroke="#7a7a7a" stroke-width="0.7" />
<line x1="216.82" y1="625.90" x2="216.82" y2="628.10" stroke="#7a7a7a" stroke-width="0.7" />
<line x1="229.98" y1="625.90" x2="229.98" y2="628.10" stroke="#7a7a7a" stroke-width="0.7" />
<line x1="243.14" y1="625.90" x2="243.14" y2="628.10" stroke="#7a7a7a" stroke-width="0.7" />
<line x1="256.30" y1="625.90" x2="256.30" y2="628.10" stroke="#7a7a7a" stroke-width="0.7" />
<line x1="269.46" y1="625.90" x2="269.46" y2="628.10" stroke="#7a7a7a" stroke-width="0.7" />
<line x1="282.62" y1="625.90" x2="282.62" y2="628.10" stroke="#7a7a7a" stroke-width="0.7" />
<line x1="295.78" y1="625.90" x2="295.78" y2="628.10" stroke="#7a7a7a" stroke-width="0.7" />
<line x1="308.94" y1="625.90" x2="308.94" y2="628.10" stroke="#7a7a7a" stroke-width="0.7" />
<text x="203.66" y="633.20" font-size="5.4" fill="#3c3c3c" text-anchor="middle" font-weight="normal" >8</text>
<text x="229.98" y="633.20" font-size="5.4" fill="#3c3c3c" text-anchor="middle" font-weight="normal" >4</text>
<text x="256.30" y="633.20" font-size="5.4" fill="#3c3c3c" text-anchor="middle" font-weight="normal" >0</text>
<text x="282.62" y="633.20" font-size="5.4" fill="#3c3c3c" text-anchor="middle" font-weight="normal" >4</text>
<text x="308.94" y="633.20" font-size="5.4" fill="#3c3c3c" text-anchor="middle" font-weight="normal" >8</text>
<clipPath id="c14"><circle cx="256.3" cy="559.6" r="59.0"/></clipPath>
<g clip-path="url(#c14)">
<defs><radialGradient id="g15" gradientUnits="userSpaceOnUse" cx="258.30" cy="563.60" r="62.00" fx="258.30" fy="563.60"><stop offset="0" stop-color="#00e0f8"/><stop offset="0.33" stop-color="#00d8ff"/><stop offset="0.43" stop-color="#00b8ff"/><stop offset="0.53" stop-color="#0088ff"/><stop offset="0.61" stop-color="#0050ff"/><stop offset="0.68" stop-color="#1a14e0"/><stop offset="0.74" stop-color="#2a0cc0"/><stop offset="0.8" stop-color="#4a18c4"/><stop offset="0.88" stop-color="#6e28c8"/><stop offset="1" stop-color="#8a3cd0"/></radialGradient></defs>
<circle cx="256.3" cy="559.6" r="60.0" fill="url(#g15)"/>
<g filter="url(#mb)">
<ellipse cx="263.3" cy="566.6" rx="24" ry="21" fill="#00e4d0"/>
<ellipse cx="265.5" cy="568.4" rx="19.3" ry="16.5" fill="#10d460"/>
<ellipse cx="264.8" cy="568.1" rx="14" ry="11" fill="#30d830"/>
<ellipse cx="264.3" cy="567.6" rx="9" ry="7" fill="#50e000"/>
</g>
</g>
<circle cx="294.59" cy="517.07" r="0.5" fill="#111"/>
<circle cx="291.14" cy="514.20" r="0.5" fill="#111"/>
<circle cx="287.47" cy="511.60" r="0.5" fill="#111"/>
<circle cx="283.61" cy="509.31" r="0.5" fill="#111"/>
<circle cx="279.58" cy="507.32" r="0.5" fill="#111"/>
<circle cx="275.40" cy="505.65" r="0.5" fill="#111"/>
<circle cx="271.11" cy="504.32" r="0.5" fill="#111"/>
<circle cx="266.73" cy="503.33" r="0.5" fill="#111"/>
<circle cx="262.28" cy="502.68" r="0.5" fill="#111"/>
<circle cx="257.80" cy="502.39" r="0.5" fill="#111"/>
<circle cx="253.30" cy="502.45" r="0.5" fill="#111"/>
<circle cx="248.83" cy="502.86" r="0.5" fill="#111"/>
<circle cx="244.40" cy="503.62" r="0.5" fill="#111"/>
<circle cx="240.05" cy="504.73" r="0.5" fill="#111"/>
<circle cx="235.79" cy="506.17" r="0.5" fill="#111"/>
<circle cx="231.66" cy="507.95" r="0.5" fill="#111"/>
<circle cx="227.69" cy="510.04" r="0.5" fill="#111"/>
<circle cx="223.88" cy="512.44" r="0.5" fill="#111"/>
<circle cx="220.28" cy="515.12" r="0.5" fill="#111"/>
<circle cx="292.23" cy="519.70" r="0.5" fill="#111"/>
<circle cx="288.98" cy="517.00" r="0.5" fill="#111"/>
<circle cx="285.54" cy="514.57" r="0.5" fill="#111"/>
<circle cx="281.92" cy="512.42" r="0.5" fill="#111"/>
<circle cx="278.14" cy="510.55" r="0.5" fill="#111"/>
<circle cx="274.22" cy="508.99" r="0.5" fill="#111"/>
<circle cx="270.20" cy="507.74" r="0.5" fill="#111"/>
<circle cx="266.08" cy="506.81" r="0.5" fill="#111"/>
<circle cx="261.91" cy="506.20" r="0.5" fill="#111"/>
<circle cx="257.71" cy="505.93" r="0.5" fill="#111"/>
<circle cx="253.49" cy="505.98" r="0.5" fill="#111"/>
<circle cx="249.29" cy="506.37" r="0.5" fill="#111"/>
<circle cx="245.14" cy="507.08" r="0.5" fill="#111"/>
<circle cx="241.05" cy="508.12" r="0.5" fill="#111"/>
<circle cx="237.06" cy="509.48" r="0.5" fill="#111"/>
<circle cx="233.19" cy="511.14" r="0.5" fill="#111"/>
<circle cx="229.46" cy="513.10" r="0.5" fill="#111"/>
<circle cx="225.89" cy="515.35" r="0.5" fill="#111"/>
<circle cx="222.51" cy="517.88" r="0.5" fill="#111"/>
<circle cx="289.86" cy="522.33" r="0.5" fill="#111"/>
<circle cx="286.83" cy="519.81" r="0.5" fill="#111"/>
<circle cx="283.61" cy="517.54" r="0.5" fill="#111"/>
<circle cx="280.23" cy="515.53" r="0.5" fill="#111"/>
<circle cx="276.70" cy="513.79" r="0.5" fill="#111"/>
<circle cx="273.04" cy="512.33" r="0.5" fill="#111"/>
<circle cx="269.28" cy="511.16" r="0.5" fill="#111"/>
<circle cx="265.44" cy="510.29" r="0.5" fill="#111"/>
<circle cx="261.54" cy="509.72" r="0.5" fill="#111"/>
<circle cx="257.61" cy="509.47" r="0.5" fill="#111"/>
<circle cx="253.68" cy="509.52" r="0.5" fill="#111"/>
<circle cx="249.75" cy="509.88" r="0.5" fill="#111"/>
<circle cx="245.87" cy="510.55" r="0.5" fill="#111"/>
<circle cx="242.06" cy="511.52" r="0.5" fill="#111"/>
<circle cx="238.33" cy="512.78" r="0.5" fill="#111"/>
<circle cx="234.71" cy="514.34" r="0.5" fill="#111"/>
<circle cx="231.23" cy="516.17" r="0.5" fill="#111"/>
<circle cx="227.89" cy="518.27" r="0.5" fill="#111"/>
<circle cx="224.74" cy="520.63" r="0.5" fill="#111"/>
<circle cx="256.3" cy="558.9" r="24" fill="none" stroke="#f4f4f4" stroke-width="0.8" stroke-dasharray="1.9 1.9"/>
<circle cx="256.3" cy="558.9" r="24" fill="none" stroke="#1a1a1a" stroke-width="0.8" stroke-dasharray="1.9 1.9" stroke-dashoffset="1.9"/>
<text x="256.30" y="561.40" font-size="5.2" fill="#000" text-anchor="middle" font-weight="normal" textLength="7.05" lengthAdjust="spacingAndGlyphs">560</text>
<text x="246.99" y="552.09" font-size="5.2" fill="#000" text-anchor="middle" font-weight="normal" textLength="7.05" lengthAdjust="spacingAndGlyphs">630</text>
<text x="265.61" y="552.09" font-size="5.2" fill="#000" text-anchor="middle" font-weight="normal" textLength="7.05" lengthAdjust="spacingAndGlyphs">619</text>
<text x="246.99" y="570.71" font-size="5.2" fill="#000" text-anchor="middle" font-weight="normal" textLength="7.05" lengthAdjust="spacingAndGlyphs">607</text>
<text x="265.61" y="570.71" font-size="5.2" fill="#000" text-anchor="middle" font-weight="normal" textLength="7.05" lengthAdjust="spacingAndGlyphs">568</text>
<text x="256.30" y="535.08" font-size="5.2" fill="#000" text-anchor="middle" font-weight="normal" textLength="7.05" lengthAdjust="spacingAndGlyphs">696</text>
<text x="237.69" y="542.79" font-size="5.2" fill="#000" text-anchor="middle" font-weight="normal" textLength="7.05" lengthAdjust="spacingAndGlyphs">682</text>
<text x="274.91" y="542.79" font-size="5.2" fill="#000" text-anchor="middle" font-weight="normal" textLength="7.05" lengthAdjust="spacingAndGlyphs">669</text>
<text x="229.98" y="561.40" font-size="5.2" fill="#000" text-anchor="middle" font-weight="normal" textLength="7.05" lengthAdjust="spacingAndGlyphs">660</text>
<text x="282.62" y="561.40" font-size="5.2" fill="#000" text-anchor="middle" font-weight="normal" textLength="7.05" lengthAdjust="spacingAndGlyphs">626</text>
<text x="237.69" y="580.01" font-size="5.2" fill="#000" text-anchor="middle" font-weight="normal" textLength="7.05" lengthAdjust="spacingAndGlyphs">644</text>
<text x="274.91" y="580.01" font-size="5.2" fill="#000" text-anchor="middle" font-weight="normal" textLength="7.05" lengthAdjust="spacingAndGlyphs">601</text>
<text x="256.30" y="587.72" font-size="5.2" fill="#000" text-anchor="middle" font-weight="normal" textLength="7.05" lengthAdjust="spacingAndGlyphs">625</text>
<text x="256.30" y="521.92" font-size="5.2" fill="#ffffff" text-anchor="middle" font-weight="normal" textLength="7.05" lengthAdjust="spacingAndGlyphs">770</text>
<text x="239.17" y="525.83" font-size="5.2" fill="#ffffff" text-anchor="middle" font-weight="normal" textLength="7.05" lengthAdjust="spacingAndGlyphs">773</text>
<text x="273.43" y="525.83" font-size="5.2" fill="#ffffff" text-anchor="middle" font-weight="normal" textLength="7.05" lengthAdjust="spacingAndGlyphs">755</text>
<text x="225.43" y="536.78" font-size="5.2" fill="#ffffff" text-anchor="middle" font-weight="normal" textLength="7.05" lengthAdjust="spacingAndGlyphs">762</text>
<text x="287.17" y="536.78" font-size="5.2" fill="#ffffff" text-anchor="middle" font-weight="normal" textLength="7.05" lengthAdjust="spacingAndGlyphs">738</text>
<text x="217.81" y="552.61" font-size="5.2" fill="#ffffff" text-anchor="middle" font-weight="normal" textLength="7.05" lengthAdjust="spacingAndGlyphs">748</text>
<text x="294.79" y="552.61" font-size="5.2" fill="#000" text-anchor="middle" font-weight="normal" textLength="7.05" lengthAdjust="spacingAndGlyphs">700</text>
<text x="217.81" y="570.19" font-size="5.2" fill="#ffffff" text-anchor="middle" font-weight="normal" textLength="7.05" lengthAdjust="spacingAndGlyphs">722</text>
<text x="294.79" y="570.19" font-size="5.2" fill="#000" text-anchor="middle" font-weight="normal" textLength="7.05" lengthAdjust="spacingAndGlyphs">661</text>
<text x="225.43" y="586.02" font-size="5.2" fill="#000" text-anchor="middle" font-weight="normal" textLength="7.05" lengthAdjust="spacingAndGlyphs">713</text>
<text x="287.17" y="586.02" font-size="5.2" fill="#000" text-anchor="middle" font-weight="normal" textLength="7.05" lengthAdjust="spacingAndGlyphs">646</text>
<text x="239.17" y="596.97" font-size="5.2" fill="#000" text-anchor="middle" font-weight="normal" textLength="7.05" lengthAdjust="spacingAndGlyphs">701</text>
<text x="273.43" y="596.97" font-size="5.2" fill="#000" text-anchor="middle" font-weight="normal" textLength="7.05" lengthAdjust="spacingAndGlyphs">660</text>
<text x="256.30" y="600.88" font-size="5.2" fill="#000" text-anchor="middle" font-weight="normal" textLength="7.05" lengthAdjust="spacingAndGlyphs">687</text>
<text x="318.80" y="559.60" font-size="5.0" fill="#333" text-anchor="middle" dominant-baseline="central" transform="rotate(90.0 318.80 559.60)">0°</text>
<text x="310.43" y="528.35" font-size="5.0" fill="#333" text-anchor="middle" dominant-baseline="central" transform="rotate(60.0 310.43 528.35)">30°</text>
<text x="287.55" y="505.47" font-size="5.0" fill="#333" text-anchor="middle" dominant-baseline="central" transform="rotate(30.0 287.55 505.47)">60°</text>
<text x="256.30" y="497.10" font-size="5.0" fill="#333" text-anchor="middle" dominant-baseline="central" transform="rotate(0.0 256.30 497.10)">90°</text>
<text x="225.05" y="505.47" font-size="5.0" fill="#333" text-anchor="middle" dominant-baseline="central" transform="rotate(-30.0 225.05 505.47)">120°</text>
<text x="202.17" y="528.35" font-size="5.0" fill="#333" text-anchor="middle" dominant-baseline="central" transform="rotate(-60.0 202.17 528.35)">150°</text>
<text x="193.80" y="559.60" font-size="5.0" fill="#333" text-anchor="middle" dominant-baseline="central" transform="rotate(-90.0 193.80 559.60)">180°</text>
<text x="202.17" y="590.85" font-size="5.0" fill="#333" text-anchor="middle" dominant-baseline="central" transform="rotate(60.0 202.17 590.85)">210°</text>
<text x="225.05" y="613.73" font-size="5.0" fill="#333" text-anchor="middle" dominant-baseline="central" transform="rotate(30.0 225.05 613.73)">240°</text>
<text x="256.30" y="622.10" font-size="5.0" fill="#333" text-anchor="middle" dominant-baseline="central" transform="rotate(0.0 256.30 622.10)">270°</text>
<text x="287.55" y="613.73" font-size="5.0" fill="#333" text-anchor="middle" dominant-baseline="central" transform="rotate(-30.0 287.55 613.73)">300°</text>
<text x="310.43" y="590.85" font-size="5.0" fill="#333" text-anchor="middle" dominant-baseline="central" transform="rotate(-60.0 310.43 590.85)">330°</text>
<line x1="312.52" y1="544.54" x2="315.22" y2="543.81" stroke="#222" stroke-width="0.7" />
<line x1="297.45" y1="518.45" x2="299.43" y2="516.47" stroke="#222" stroke-width="0.7" />
<line x1="271.36" y1="503.38" x2="272.09" y2="500.68" stroke="#222" stroke-width="0.7" />
<line x1="241.24" y1="503.38" x2="240.51" y2="500.68" stroke="#222" stroke-width="0.7" />
<line x1="215.15" y1="518.45" x2="213.17" y2="516.47" stroke="#222" stroke-width="0.7" />
<line x1="200.08" y1="544.54" x2="197.38" y2="543.81" stroke="#222" stroke-width="0.7" />
<line x1="200.08" y1="574.66" x2="197.38" y2="575.39" stroke="#222" stroke-width="0.7" />
<line x1="215.15" y1="600.75" x2="213.17" y2="602.73" stroke="#222" stroke-width="0.7" />
<line x1="241.24" y1="615.82" x2="240.51" y2="618.52" stroke="#222" stroke-width="0.7" />
<line x1="271.36" y1="615.82" x2="272.09" y2="618.52" stroke="#222" stroke-width="0.7" />
<line x1="297.45" y1="600.75" x2="299.43" y2="602.73" stroke="#222" stroke-width="0.7" />
<line x1="312.52" y1="574.66" x2="315.22" y2="575.39" stroke="#222" stroke-width="0.7" />
<circle cx="201.10" cy="499.80" r="2.70" fill="none" stroke="#222" stroke-width="0.81"/>
<line x1="202.99" y1="501.69" x2="205.29" y2="504.12" stroke="#222" stroke-width="1.1340000000000001" />
<text x="201.60" y="507.80" font-size="5.4" fill="#222" text-anchor="middle" font-weight="normal" textLength="9.4" lengthAdjust="spacingAndGlyphs">9mm</text>
<text x="316.70" y="505.10" font-size="9.6" fill="#000" text-anchor="end" font-weight="bold" >OS</text>
<text x="200.00" y="623.00" font-size="7.0" fill="#333" text-anchor="middle" font-weight="normal" >N</text>
<text x="312.60" y="623.00" font-size="7.0" fill="#333" text-anchor="middle" font-weight="normal" >T</text>
<rect x="341.30" y="482.20" width="151.60" height="150.50" fill="#efefef" stroke="none" stroke-width="1" />
<line x1="342.30" y1="495.30" x2="491.90" y2="495.30" stroke="#a8a8a8" stroke-width="0.8" />
<text x="417.40" y="487.10" font-size="5.1" fill="#333" text-anchor="middle" font-weight="normal" textLength="32.6" lengthAdjust="spacingAndGlyphs">Elevation (Front)</text>
<text x="417.40" y="493.40" font-size="5.1" fill="#333" text-anchor="middle" font-weight="normal" textLength="52" lengthAdjust="spacingAndGlyphs">BFS=6.97 Float, Dia=8.00</text>
<rect x="414.80" y="494.30" width="17.00" height="2.50" fill="#efefef" stroke="none" stroke-width="1" />
<line x1="353.70" y1="499.38" x2="353.70" y2="619.82" stroke="#7a7a7a" stroke-width="0.8" />
<line x1="351.50" y1="506.96" x2="353.70" y2="506.96" stroke="#7a7a7a" stroke-width="0.7" />
<line x1="351.50" y1="520.12" x2="353.70" y2="520.12" stroke="#7a7a7a" stroke-width="0.7" />
<line x1="351.50" y1="533.28" x2="353.70" y2="533.28" stroke="#7a7a7a" stroke-width="0.7" />
<line x1="351.50" y1="546.44" x2="353.70" y2="546.44" stroke="#7a7a7a" stroke-width="0.7" />
<line x1="351.50" y1="559.60" x2="353.70" y2="559.60" stroke="#7a7a7a" stroke-width="0.7" />
<line x1="351.50" y1="572.76" x2="353.70" y2="572.76" stroke="#7a7a7a" stroke-width="0.7" />
<line x1="351.50" y1="585.92" x2="353.70" y2="585.92" stroke="#7a7a7a" stroke-width="0.7" />
<line x1="351.50" y1="599.08" x2="353.70" y2="599.08" stroke="#7a7a7a" stroke-width="0.7" />
<line x1="351.50" y1="612.24" x2="353.70" y2="612.24" stroke="#7a7a7a" stroke-width="0.7" />
<text x="348.30" y="508.90" font-size="5.4" fill="#3c3c3c" text-anchor="middle" font-weight="normal" >8</text>
<text x="348.30" y="535.22" font-size="5.4" fill="#3c3c3c" text-anchor="middle" font-weight="normal" >4</text>
<text x="348.30" y="561.54" font-size="5.4" fill="#3c3c3c" text-anchor="middle" font-weight="normal" >0</text>
<text x="348.30" y="587.86" font-size="5.4" fill="#3c3c3c" text-anchor="middle" font-weight="normal" >4</text>
<text x="348.30" y="614.18" font-size="5.4" fill="#3c3c3c" text-anchor="middle" font-weight="normal" >8</text>
<line x1="364.08" y1="625.90" x2="482.52" y2="625.90" stroke="#7a7a7a" stroke-width="0.8" />
<line x1="370.66" y1="625.90" x2="370.66" y2="628.10" stroke="#7a7a7a" stroke-width="0.7" />
<line x1="383.82" y1="625.90" x2="383.82" y2="628.10" stroke="#7a7a7a" stroke-width="0.7" />
<line x1="396.98" y1="625.90" x2="396.98" y2="628.10" stroke="#7a7a7a" stroke-width="0.7" />
<line x1="410.14" y1="625.90" x2="410.14" y2="628.10" stroke="#7a7a7a" stroke-width="0.7" />
<line x1="423.30" y1="625.90" x2="423.30" y2="628.10" stroke="#7a7a7a" stroke-width="0.7" />
<line x1="436.46" y1="625.90" x2="436.46" y2="628.10" stroke="#7a7a7a" stroke-width="0.7" />
<line x1="449.62" y1="625.90" x2="449.62" y2="628.10" stroke="#7a7a7a" stroke-width="0.7" />
<line x1="462.78" y1="625.90" x2="462.78" y2="628.10" stroke="#7a7a7a" stroke-width="0.7" />
<line x1="475.94" y1="625.90" x2="475.94" y2="628.10" stroke="#7a7a7a" stroke-width="0.7" />
<text x="370.66" y="633.20" font-size="5.4" fill="#3c3c3c" text-anchor="middle" font-weight="normal" >8</text>
<text x="396.98" y="633.20" font-size="5.4" fill="#3c3c3c" text-anchor="middle" font-weight="normal" >4</text>
<text x="423.30" y="633.20" font-size="5.4" fill="#3c3c3c" text-anchor="middle" font-weight="normal" >0</text>
<text x="449.62" y="633.20" font-size="5.4" fill="#3c3c3c" text-anchor="middle" font-weight="normal" >4</text>
<text x="475.94" y="633.20" font-size="5.4" fill="#3c3c3c" text-anchor="middle" font-weight="normal" >8</text>
<clipPath id="c16"><circle cx="423.3" cy="559.6" r="59.0"/></clipPath>
<g clip-path="url(#c16)">
<defs><radialGradient id="g17" gradientUnits="userSpaceOnUse" cx="428.30" cy="559.60" r="61.00" fx="428.30" fy="559.60"><stop offset="0" stop-color="#ffff00"/><stop offset="0.7" stop-color="#ffff00"/><stop offset="0.8" stop-color="#ffe400"/><stop offset="0.88" stop-color="#ffc000"/><stop offset="0.95" stop-color="#ff9800"/><stop offset="1" stop-color="#ff6a00"/></radialGradient></defs>
<circle cx="423.3" cy="559.6" r="60.0" fill="url(#g17)"/>
<defs><radialGradient id="g18" gradientUnits="userSpaceOnUse" cx="363.30" cy="559.60" r="20.00" fx="363.30" fy="559.60"><stop offset="0" stop-color="#ff4000"/><stop offset="1" stop-color="#ff4000"/></radialGradient></defs>
<path d="M368.3,529.6 A59,59 0 0,0 373.3,594.6" fill="none" stroke="#ff5000" stroke-width="5" opacity="0.6" filter="url(#mb)"/>
<g filter="url(#mb05)">
<path d="M435.30,514.60 C436.97,513.27 442.20,518.93 445.30,521.60 C448.40,524.27 452.32,527.83 453.90,530.60 C455.48,533.37 455.70,536.45 454.80,538.20 C453.90,539.95 451.02,540.33 448.50,541.10 C445.98,541.87 442.57,542.47 439.70,542.80 C436.83,543.13 433.37,543.97 431.30,543.10 C429.23,542.23 426.63,539.85 427.30,537.60 C427.97,535.35 433.97,533.43 435.30,529.60 C436.63,525.77 433.63,515.93 435.30,514.60 Z" fill="#00d000" />
<path d="M431.30,543.60 C429.47,545.43 421.80,542.60 418.30,543.60 C414.80,544.60 412.22,547.38 410.30,549.60 C408.38,551.82 406.63,554.57 406.80,556.90 C406.97,559.23 409.38,562.12 411.30,563.60 C413.22,565.08 413.57,565.55 418.30,565.80 C423.03,566.05 433.87,565.22 439.70,565.10 C445.53,564.98 448.70,564.85 453.30,565.10 C457.90,565.35 464.63,565.52 467.30,566.60 C469.97,567.68 469.63,570.27 469.30,571.60 C468.97,572.93 469.63,574.27 465.30,574.60 C460.97,574.93 450.30,573.68 443.30,573.60 C436.30,573.52 429.97,573.93 423.30,574.10 C416.63,574.27 407.80,574.18 403.30,574.60 C398.80,575.02 398.47,577.43 396.30,576.60 C394.13,575.77 392.13,571.43 390.30,569.60 C388.47,567.77 386.72,567.43 385.30,565.60 C383.88,563.77 381.47,559.93 381.80,558.60 C382.13,557.27 385.05,558.77 387.30,557.60 C389.55,556.43 392.63,554.27 395.30,551.60 C397.97,548.93 399.97,544.43 403.30,541.60 C406.63,538.77 410.97,536.10 415.30,534.60 C419.63,533.10 426.63,531.10 429.30,532.60 C431.97,534.10 433.13,541.77 431.30,543.60 Z" fill="#00d000" />
<path d="M375.70,524.90 C377.47,522.38 380.37,518.83 384.50,516.90 C388.63,514.97 394.87,513.98 400.50,513.30 C406.13,512.62 412.82,512.35 418.30,512.80 C423.78,513.25 430.13,514.28 433.40,516.00 C436.67,517.72 437.45,520.58 437.90,523.10 C438.35,525.62 438.18,529.32 436.10,531.10 C434.02,532.88 429.25,532.75 425.40,533.80 C421.55,534.85 416.70,535.63 413.00,537.40 C409.30,539.17 406.02,541.75 403.20,544.40 C400.38,547.05 398.32,550.77 396.10,553.30 C393.88,555.83 392.12,559.30 389.90,559.60 C387.68,559.90 385.17,557.92 382.80,555.10 C380.43,552.28 377.18,546.55 375.70,542.70 C374.22,538.85 373.90,534.97 373.90,532.00 C373.90,529.03 373.93,527.42 375.70,524.90 Z" fill="#00d000" stroke="#00d000" stroke-width="5.6" stroke-linejoin="round"/>
<path d="M375.70,524.90 C377.47,522.38 380.37,518.83 384.50,516.90 C388.63,514.97 394.87,513.98 400.50,513.30 C406.13,512.62 412.82,512.35 418.30,512.80 C423.78,513.25 430.13,514.28 433.40,516.00 C436.67,517.72 437.45,520.58 437.90,523.10 C438.35,525.62 438.18,529.32 436.10,531.10 C434.02,532.88 429.25,532.75 425.40,533.80 C421.55,534.85 416.70,535.63 413.00,537.40 C409.30,539.17 406.02,541.75 403.20,544.40 C400.38,547.05 398.32,550.77 396.10,553.30 C393.88,555.83 392.12,559.30 389.90,559.60 C387.68,559.90 385.17,557.92 382.80,555.10 C380.43,552.28 377.18,546.55 375.70,542.70 C374.22,538.85 373.90,534.97 373.90,532.00 C373.90,529.03 373.93,527.42 375.70,524.90 Z" fill="#00e6ff"/>
<path d="M398.80,574.70 C401.05,573.10 405.58,573.05 411.20,572.90 C416.82,572.75 426.28,573.73 432.50,573.80 C438.72,573.87 443.60,573.00 448.50,573.30 C453.40,573.60 459.23,574.18 461.90,575.60 C464.57,577.02 464.50,579.28 464.50,581.80 C464.50,584.32 463.63,587.43 461.90,590.70 C460.17,593.97 457.92,598.68 454.10,601.40 C450.28,604.12 445.27,605.90 439.00,607.00 C432.73,608.10 422.28,608.63 416.50,608.00 C410.72,607.37 407.28,605.57 404.30,603.20 C401.32,600.83 399.70,597.25 398.60,593.80 C397.50,590.35 397.67,585.68 397.70,582.50 C397.73,579.32 396.55,576.30 398.80,574.70 Z" fill="#00d000" stroke="#00d000" stroke-width="5.6" stroke-linejoin="round"/>
<path d="M398.80,574.70 C401.05,573.10 405.58,573.05 411.20,572.90 C416.82,572.75 426.28,573.73 432.50,573.80 C438.72,573.87 443.60,573.00 448.50,573.30 C453.40,573.60 459.23,574.18 461.90,575.60 C464.57,577.02 464.50,579.28 464.50,581.80 C464.50,584.32 463.63,587.43 461.90,590.70 C460.17,593.97 457.92,598.68 454.10,601.40 C450.28,604.12 445.27,605.90 439.00,607.00 C432.73,608.10 422.28,608.63 416.50,608.00 C410.72,607.37 407.28,605.57 404.30,603.20 C401.32,600.83 399.70,597.25 398.60,593.80 C397.50,590.35 397.67,585.68 397.70,582.50 C397.73,579.32 396.55,576.30 398.80,574.70 Z" fill="#00e6ff"/>
<path d="M381.37,525.66 C382.34,524.28 383.94,522.33 386.21,521.26 C388.48,520.20 391.91,519.66 395.01,519.29 C398.11,518.91 401.78,518.76 404.80,519.01 C407.82,519.26 411.31,519.83 413.11,520.77 C414.90,521.71 415.33,523.29 415.58,524.68 C415.83,526.06 415.74,528.09 414.59,529.08 C413.44,530.06 410.82,529.98 408.71,530.56 C406.59,531.14 403.92,531.57 401.88,532.54 C399.85,533.51 398.04,534.93 396.50,536.39 C394.95,537.85 393.81,539.89 392.59,541.29 C391.37,542.68 390.40,544.59 389.18,544.75 C387.96,544.91 386.58,543.82 385.28,542.27 C383.97,540.73 382.19,537.57 381.37,535.46 C380.55,533.34 380.38,531.20 380.38,529.57 C380.38,527.94 380.40,527.05 381.37,525.66 Z" fill="#24b4f8" />
<path d="M421.07,586.20 C422.09,585.48 424.13,585.45 426.66,585.38 C429.18,585.32 433.44,585.76 436.24,585.79 C439.04,585.82 441.24,585.43 443.44,585.57 C445.64,585.70 448.27,585.96 449.47,586.60 C450.67,587.24 450.64,588.26 450.64,589.39 C450.64,590.52 450.25,591.92 449.47,593.39 C448.69,594.87 447.68,596.99 445.96,598.21 C444.24,599.43 441.99,600.24 439.17,600.73 C436.35,601.23 431.64,601.47 429.04,601.18 C426.44,600.90 424.89,600.09 423.55,599.02 C422.21,597.95 421.48,596.34 420.99,594.79 C420.49,593.24 420.56,591.14 420.58,589.71 C420.59,588.27 420.06,586.92 421.07,586.20 Z" fill="#20d0ff" />
<path d="M406.30,588.44 C407.20,587.80 409.01,587.78 411.26,587.72 C413.51,587.66 417.29,588.05 419.78,588.08 C422.27,588.11 424.22,587.76 426.18,587.88 C428.14,588.00 430.47,588.23 431.54,588.80 C432.61,589.37 432.58,590.27 432.58,591.28 C432.58,592.29 432.23,593.53 431.54,594.84 C430.85,596.15 429.95,598.03 428.42,599.12 C426.89,600.21 424.89,600.92 422.38,601.36 C419.87,601.80 415.69,602.01 413.38,601.76 C411.07,601.51 409.69,600.79 408.50,599.84 C407.31,598.89 406.66,597.46 406.22,596.08 C405.78,594.70 405.85,592.83 405.86,591.56 C405.87,590.29 405.40,589.08 406.30,588.44 Z" fill="#20d8ff" />
</g>
</g>
<circle cx="423.3" cy="559.6" r="24" fill="none" stroke="#f4f4f4" stroke-width="0.8" stroke-dasharray="1.9 1.9"/>
<circle cx="423.3" cy="559.6" r="24" fill="none" stroke="#1a1a1a" stroke-width="0.8" stroke-dasharray="1.9 1.9" stroke-dashoffset="1.9"/>
<circle cx="450.17" cy="509.07" r="0.55" fill="#111"/>
<circle cx="441.93" cy="505.49" r="0.55" fill="#111"/>
<circle cx="433.24" cy="503.24" r="0.55" fill="#111"/>
<circle cx="424.30" cy="502.38" r="0.55" fill="#111"/>
<circle cx="415.34" cy="502.93" r="0.55" fill="#111"/>
<circle cx="406.57" cy="504.87" r="0.55" fill="#111"/>
<circle cx="398.21" cy="508.16" r="0.55" fill="#111"/>
<text x="413.99" y="552.09" font-size="5.2" fill="#000" text-anchor="middle" font-weight="normal" textLength="4.70" lengthAdjust="spacingAndGlyphs">+1</text>
<text x="432.61" y="552.09" font-size="5.2" fill="#000" text-anchor="middle" font-weight="normal" textLength="4.70" lengthAdjust="spacingAndGlyphs">+3</text>
<text x="413.99" y="570.71" font-size="5.2" fill="#000" text-anchor="middle" font-weight="normal" textLength="2.35" lengthAdjust="spacingAndGlyphs">0</text>
<text x="423.30" y="535.08" font-size="5.2" fill="#000" text-anchor="middle" font-weight="normal" textLength="4.70" lengthAdjust="spacingAndGlyphs">-4</text>
<text x="404.69" y="542.79" font-size="5.2" fill="#000" text-anchor="middle" font-weight="normal" textLength="4.70" lengthAdjust="spacingAndGlyphs">-2</text>
<text x="441.91" y="542.79" font-size="5.2" fill="#000" text-anchor="middle" font-weight="normal" textLength="4.70" lengthAdjust="spacingAndGlyphs">+1</text>
<text x="396.98" y="561.40" font-size="5.2" fill="#000" text-anchor="middle" font-weight="normal" textLength="4.70" lengthAdjust="spacingAndGlyphs">-1</text>
<text x="449.62" y="561.40" font-size="5.2" fill="#000" text-anchor="middle" font-weight="normal" textLength="4.70" lengthAdjust="spacingAndGlyphs">+3</text>
<text x="404.69" y="580.01" font-size="5.2" fill="#000" text-anchor="middle" font-weight="normal" textLength="4.70" lengthAdjust="spacingAndGlyphs">-2</text>
<text x="441.91" y="580.01" font-size="5.2" fill="#000" text-anchor="middle" font-weight="normal" textLength="4.70" lengthAdjust="spacingAndGlyphs">-4</text>
<text x="423.30" y="587.72" font-size="5.2" fill="#000" text-anchor="middle" font-weight="normal" textLength="4.70" lengthAdjust="spacingAndGlyphs">-5</text>
<text x="423.30" y="521.92" font-size="5.2" fill="#000" text-anchor="middle" font-weight="normal" textLength="4.70" lengthAdjust="spacingAndGlyphs">-5</text>
<text x="406.17" y="525.83" font-size="5.2" fill="#000" text-anchor="middle" font-weight="normal" textLength="7.05" lengthAdjust="spacingAndGlyphs">-12</text>
<text x="440.43" y="525.83" font-size="5.2" fill="#000" text-anchor="middle" font-weight="normal" textLength="2.35" lengthAdjust="spacingAndGlyphs">0</text>
<text x="392.43" y="536.78" font-size="5.2" fill="#000" text-anchor="middle" font-weight="normal" textLength="7.05" lengthAdjust="spacingAndGlyphs">-16</text>
<text x="454.17" y="536.78" font-size="5.2" fill="#000" text-anchor="middle" font-weight="normal" textLength="4.70" lengthAdjust="spacingAndGlyphs">+1</text>
<text x="384.81" y="552.61" font-size="5.2" fill="#000" text-anchor="middle" font-weight="normal" textLength="4.70" lengthAdjust="spacingAndGlyphs">-5</text>
<text x="461.79" y="552.61" font-size="5.2" fill="#000" text-anchor="middle" font-weight="normal" textLength="4.70" lengthAdjust="spacingAndGlyphs">+2</text>
<text x="384.81" y="570.19" font-size="5.2" fill="#000" text-anchor="middle" font-weight="normal" textLength="4.70" lengthAdjust="spacingAndGlyphs">+1</text>
<text x="461.79" y="570.19" font-size="5.2" fill="#000" text-anchor="middle" font-weight="normal" textLength="4.70" lengthAdjust="spacingAndGlyphs">+1</text>
<text x="392.43" y="586.02" font-size="5.2" fill="#000" text-anchor="middle" font-weight="normal" textLength="4.70" lengthAdjust="spacingAndGlyphs">+3</text>
<text x="454.17" y="586.02" font-size="5.2" fill="#000" text-anchor="middle" font-weight="normal" textLength="4.70" lengthAdjust="spacingAndGlyphs">-5</text>
<text x="406.17" y="596.97" font-size="5.2" fill="#000" text-anchor="middle" font-weight="normal" textLength="4.70" lengthAdjust="spacingAndGlyphs">-4</text>
<text x="440.43" y="596.97" font-size="5.2" fill="#000" text-anchor="middle" font-weight="normal" textLength="7.05" lengthAdjust="spacingAndGlyphs">-10</text>
<text x="423.30" y="600.88" font-size="5.2" fill="#000" text-anchor="middle" font-weight="normal" textLength="4.70" lengthAdjust="spacingAndGlyphs">-8</text>
<circle cx="426.8" cy="555.0" r="5.6" fill="#ffffff" fill-opacity="0.45" stroke="#ffffff" stroke-width="0.9"/>
<text x="426.80" y="556.70" font-size="4.8" fill="#111" text-anchor="middle" font-weight="normal" >+4µm</text>
<circle cx="432.3" cy="568.3000000000001" r="1.8" fill="none" stroke="#111" stroke-width="0.8"/>
<text x="485.80" y="559.60" font-size="5.0" fill="#333" text-anchor="middle" dominant-baseline="central" transform="rotate(90.0 485.80 559.60)">0°</text>
<text x="477.43" y="528.35" font-size="5.0" fill="#333" text-anchor="middle" dominant-baseline="central" transform="rotate(60.0 477.43 528.35)">30°</text>
<text x="454.55" y="505.47" font-size="5.0" fill="#333" text-anchor="middle" dominant-baseline="central" transform="rotate(30.0 454.55 505.47)">60°</text>
<text x="423.30" y="497.10" font-size="5.0" fill="#333" text-anchor="middle" dominant-baseline="central" transform="rotate(0.0 423.30 497.10)">90°</text>
<text x="392.05" y="505.47" font-size="5.0" fill="#333" text-anchor="middle" dominant-baseline="central" transform="rotate(-30.0 392.05 505.47)">120°</text>
<text x="369.17" y="528.35" font-size="5.0" fill="#333" text-anchor="middle" dominant-baseline="central" transform="rotate(-60.0 369.17 528.35)">150°</text>
<text x="360.80" y="559.60" font-size="5.0" fill="#333" text-anchor="middle" dominant-baseline="central" transform="rotate(-90.0 360.80 559.60)">180°</text>
<text x="369.17" y="590.85" font-size="5.0" fill="#333" text-anchor="middle" dominant-baseline="central" transform="rotate(60.0 369.17 590.85)">210°</text>
<text x="392.05" y="613.73" font-size="5.0" fill="#333" text-anchor="middle" dominant-baseline="central" transform="rotate(30.0 392.05 613.73)">240°</text>
<text x="423.30" y="622.10" font-size="5.0" fill="#333" text-anchor="middle" dominant-baseline="central" transform="rotate(0.0 423.30 622.10)">270°</text>
<text x="454.55" y="613.73" font-size="5.0" fill="#333" text-anchor="middle" dominant-baseline="central" transform="rotate(-30.0 454.55 613.73)">300°</text>
<text x="477.43" y="590.85" font-size="5.0" fill="#333" text-anchor="middle" dominant-baseline="central" transform="rotate(-60.0 477.43 590.85)">330°</text>
<line x1="479.52" y1="544.54" x2="482.22" y2="543.81" stroke="#222" stroke-width="0.7" />
<line x1="464.45" y1="518.45" x2="466.43" y2="516.47" stroke="#222" stroke-width="0.7" />
<line x1="438.36" y1="503.38" x2="439.09" y2="500.68" stroke="#222" stroke-width="0.7" />
<line x1="408.24" y1="503.38" x2="407.51" y2="500.68" stroke="#222" stroke-width="0.7" />
<line x1="382.15" y1="518.45" x2="380.17" y2="516.47" stroke="#222" stroke-width="0.7" />
<line x1="367.08" y1="544.54" x2="364.38" y2="543.81" stroke="#222" stroke-width="0.7" />
<line x1="367.08" y1="574.66" x2="364.38" y2="575.39" stroke="#222" stroke-width="0.7" />
<line x1="382.15" y1="600.75" x2="380.17" y2="602.73" stroke="#222" stroke-width="0.7" />
<line x1="408.24" y1="615.82" x2="407.51" y2="618.52" stroke="#222" stroke-width="0.7" />
<line x1="438.36" y1="615.82" x2="439.09" y2="618.52" stroke="#222" stroke-width="0.7" />
<line x1="464.45" y1="600.75" x2="466.43" y2="602.73" stroke="#222" stroke-width="0.7" />
<line x1="479.52" y1="574.66" x2="482.22" y2="575.39" stroke="#222" stroke-width="0.7" />
<circle cx="368.10" cy="499.80" r="2.70" fill="none" stroke="#222" stroke-width="0.81"/>
<line x1="369.99" y1="501.69" x2="372.29" y2="504.12" stroke="#222" stroke-width="1.1340000000000001" />
<text x="368.60" y="507.80" font-size="5.4" fill="#222" text-anchor="middle" font-weight="normal" textLength="9.4" lengthAdjust="spacingAndGlyphs">9mm</text>
<text x="483.70" y="505.10" font-size="9.6" fill="#000" text-anchor="end" font-weight="bold" >OS</text>
<text x="367.00" y="623.00" font-size="7.0" fill="#333" text-anchor="middle" font-weight="normal" >N</text>
<text x="479.60" y="623.00" font-size="7.0" fill="#333" text-anchor="middle" font-weight="normal" >T</text>
<rect x="510.40" y="482.20" width="151.90" height="150.50" fill="#efefef" stroke="none" stroke-width="1" />
<line x1="511.40" y1="495.20" x2="661.30" y2="495.20" stroke="#a8a8a8" stroke-width="0.8" />
<text x="586.65" y="487.00" font-size="5.1" fill="#333" text-anchor="middle" font-weight="normal" textLength="31.5" lengthAdjust="spacingAndGlyphs">Elevation (Back)</text>
<text x="586.65" y="493.30" font-size="5.1" fill="#333" text-anchor="middle" font-weight="normal" textLength="52" lengthAdjust="spacingAndGlyphs">BFS=5.57 Float, Dia=8.00</text>
<rect x="584.40" y="494.20" width="17.00" height="2.50" fill="#efefef" stroke="none" stroke-width="1" />
<line x1="523.30" y1="499.18" x2="523.30" y2="619.62" stroke="#7a7a7a" stroke-width="0.8" />
<line x1="521.10" y1="506.76" x2="523.30" y2="506.76" stroke="#7a7a7a" stroke-width="0.7" />
<line x1="521.10" y1="519.92" x2="523.30" y2="519.92" stroke="#7a7a7a" stroke-width="0.7" />
<line x1="521.10" y1="533.08" x2="523.30" y2="533.08" stroke="#7a7a7a" stroke-width="0.7" />
<line x1="521.10" y1="546.24" x2="523.30" y2="546.24" stroke="#7a7a7a" stroke-width="0.7" />
<line x1="521.10" y1="559.40" x2="523.30" y2="559.40" stroke="#7a7a7a" stroke-width="0.7" />
<line x1="521.10" y1="572.56" x2="523.30" y2="572.56" stroke="#7a7a7a" stroke-width="0.7" />
<line x1="521.10" y1="585.72" x2="523.30" y2="585.72" stroke="#7a7a7a" stroke-width="0.7" />
<line x1="521.10" y1="598.88" x2="523.30" y2="598.88" stroke="#7a7a7a" stroke-width="0.7" />
<line x1="521.10" y1="612.04" x2="523.30" y2="612.04" stroke="#7a7a7a" stroke-width="0.7" />
<text x="517.90" y="508.70" font-size="5.4" fill="#3c3c3c" text-anchor="middle" font-weight="normal" >8</text>
<text x="517.90" y="535.02" font-size="5.4" fill="#3c3c3c" text-anchor="middle" font-weight="normal" >4</text>
<text x="517.90" y="561.34" font-size="5.4" fill="#3c3c3c" text-anchor="middle" font-weight="normal" >0</text>
<text x="517.90" y="587.66" font-size="5.4" fill="#3c3c3c" text-anchor="middle" font-weight="normal" >4</text>
<text x="517.90" y="613.98" font-size="5.4" fill="#3c3c3c" text-anchor="middle" font-weight="normal" >8</text>
<line x1="533.68" y1="625.70" x2="652.12" y2="625.70" stroke="#7a7a7a" stroke-width="0.8" />
<line x1="540.26" y1="625.70" x2="540.26" y2="627.90" stroke="#7a7a7a" stroke-width="0.7" />
<line x1="553.42" y1="625.70" x2="553.42" y2="627.90" stroke="#7a7a7a" stroke-width="0.7" />
<line x1="566.58" y1="625.70" x2="566.58" y2="627.90" stroke="#7a7a7a" stroke-width="0.7" />
<line x1="579.74" y1="625.70" x2="579.74" y2="627.90" stroke="#7a7a7a" stroke-width="0.7" />
<line x1="592.90" y1="625.70" x2="592.90" y2="627.90" stroke="#7a7a7a" stroke-width="0.7" />
<line x1="606.06" y1="625.70" x2="606.06" y2="627.90" stroke="#7a7a7a" stroke-width="0.7" />
<line x1="619.22" y1="625.70" x2="619.22" y2="627.90" stroke="#7a7a7a" stroke-width="0.7" />
<line x1="632.38" y1="625.70" x2="632.38" y2="627.90" stroke="#7a7a7a" stroke-width="0.7" />
<line x1="645.54" y1="625.70" x2="645.54" y2="627.90" stroke="#7a7a7a" stroke-width="0.7" />
<text x="540.26" y="633.00" font-size="5.4" fill="#3c3c3c" text-anchor="middle" font-weight="normal" >8</text>
<text x="566.58" y="633.00" font-size="5.4" fill="#3c3c3c" text-anchor="middle" font-weight="normal" >4</text>
<text x="592.90" y="633.00" font-size="5.4" fill="#3c3c3c" text-anchor="middle" font-weight="normal" >0</text>
<text x="619.22" y="633.00" font-size="5.4" fill="#3c3c3c" text-anchor="middle" font-weight="normal" >4</text>
<text x="645.54" y="633.00" font-size="5.4" fill="#3c3c3c" text-anchor="middle" font-weight="normal" >8</text>
<clipPath id="c19"><circle cx="592.9" cy="559.4" r="59.0"/></clipPath>
<g clip-path="url(#c19)">
<defs><radialGradient id="g20" gradientUnits="userSpaceOnUse" cx="600.90" cy="565.40" r="60.00" fx="600.90" fy="565.40"><stop offset="0" stop-color="#ffb400"/><stop offset="0.25" stop-color="#ffc400"/><stop offset="0.45" stop-color="#ffdc00"/><stop offset="0.62" stop-color="#fff000"/><stop offset="0.76" stop-color="#ffe800"/><stop offset="0.84" stop-color="#ffc000"/><stop offset="0.9" stop-color="#ff9800"/><stop offset="0.95" stop-color="#ff6000"/><stop offset="1" stop-color="#ff3000"/></radialGradient></defs>
<circle cx="592.9" cy="559.4" r="60.0" fill="url(#g20)"/>
<g filter="url(#mb05)">
<path d="M662.90,534.40 C660.25,542.50 650.12,538.31 647.01,537.99 C643.91,537.66 646.12,534.87 644.28,532.44 C642.44,530.02 640.10,526.44 635.97,523.43 C631.84,520.41 626.67,516.33 619.49,514.38 C612.31,512.42 601.40,511.55 592.90,511.70 C584.40,511.85 575.30,513.05 568.48,515.30 C561.65,517.55 556.04,521.13 551.93,525.22 C547.81,529.32 545.76,534.41 543.79,539.89 C541.82,545.38 540.41,552.36 540.10,558.14 C539.79,563.91 540.56,569.68 541.93,574.54 C543.31,579.41 545.47,583.08 548.36,587.35 C551.24,591.62 555.28,596.50 559.22,600.17 C563.16,603.83 567.44,607.03 572.02,609.32 C576.59,611.61 582.55,612.75 586.68,613.91 C590.81,615.07 594.75,613.72 596.79,616.30 C598.83,618.89 611.22,627.22 598.90,629.40 C586.58,631.58 535.57,652.73 522.90,629.40 C510.23,606.07 499.57,512.73 522.90,489.40 C546.23,466.07 639.57,481.90 662.90,489.40 C686.23,496.90 665.55,526.30 662.90,534.40 Z" fill="#ff1800"/>
<path d="M662.90,531.40 C660.50,539.40 651.37,537.35 648.50,537.40 C645.63,537.45 647.58,534.20 645.70,531.70 C643.82,529.20 641.43,525.52 637.20,522.40 C632.97,519.28 627.68,515.05 620.30,513.00 C612.92,510.95 601.67,509.95 592.90,510.10 C584.13,510.25 574.73,511.55 567.70,513.90 C560.67,516.25 554.93,519.97 550.70,524.20 C546.47,528.43 544.33,533.65 542.30,539.30 C540.27,544.95 538.82,552.15 538.50,558.10 C538.18,564.05 538.98,569.98 540.40,575.00 C541.82,580.02 544.03,583.80 547.00,588.20 C549.97,592.60 554.13,597.63 558.20,601.40 C562.27,605.17 566.68,608.45 571.40,610.80 C576.12,613.15 582.25,614.32 586.50,615.50 C590.75,616.68 594.83,615.58 596.90,617.90 C598.97,620.22 611.23,627.48 598.90,629.40 C586.57,631.32 535.57,652.73 522.90,629.40 C510.23,606.07 499.57,512.73 522.90,489.40 C546.23,466.07 639.57,482.40 662.90,489.40 C686.23,496.40 665.30,523.40 662.90,531.40 Z" fill="#7a2a5c"/>
<path d="M548.90,559.40 C549.90,559.23 552.07,561.57 553.90,563.40 C555.73,565.23 558.40,568.23 559.90,570.40 C561.40,572.57 563.23,574.90 562.90,576.40 C562.57,577.90 559.40,580.23 557.90,579.40 C556.40,578.57 555.57,573.90 553.90,571.40 C552.23,568.90 548.73,566.40 547.90,564.40 C547.07,562.40 547.90,559.57 548.90,559.40 Z" fill="#00cc00" />
<path d="M546.00,552.40 C545.53,548.95 544.47,543.53 545.10,539.30 C545.73,535.07 546.83,530.52 549.80,527.00 C552.77,523.48 555.72,520.23 562.90,518.20 C570.08,516.17 583.65,515.05 592.90,514.80 C602.15,514.55 611.17,514.98 618.40,516.70 C625.63,518.42 632.22,521.65 636.30,525.10 C640.38,528.55 641.95,533.47 642.90,537.40 C643.85,541.33 643.25,546.03 642.00,548.70 C640.75,551.37 638.70,552.78 635.40,553.40 C632.10,554.02 626.60,553.03 622.20,552.40 C617.80,551.77 614.02,550.07 609.00,549.60 C603.98,549.13 597.10,549.28 592.10,549.60 C587.10,549.92 583.07,550.40 579.00,551.50 C574.93,552.60 571.15,554.17 567.70,556.20 C564.25,558.23 560.82,562.28 558.30,563.70 C555.78,565.12 554.33,565.32 552.60,564.70 C550.87,564.08 549.00,562.05 547.90,560.00 C546.80,557.95 546.47,555.85 546.00,552.40 Z" fill="#00cc00" stroke="#00cc00" stroke-width="2.6" stroke-linejoin="round"/>
<path d="M546.00,552.40 C545.53,548.95 544.47,543.53 545.10,539.30 C545.73,535.07 546.83,530.52 549.80,527.00 C552.77,523.48 555.72,520.23 562.90,518.20 C570.08,516.17 583.65,515.05 592.90,514.80 C602.15,514.55 611.17,514.98 618.40,516.70 C625.63,518.42 632.22,521.65 636.30,525.10 C640.38,528.55 641.95,533.47 642.90,537.40 C643.85,541.33 643.25,546.03 642.00,548.70 C640.75,551.37 638.70,552.78 635.40,553.40 C632.10,554.02 626.60,553.03 622.20,552.40 C617.80,551.77 614.02,550.07 609.00,549.60 C603.98,549.13 597.10,549.28 592.10,549.60 C587.10,549.92 583.07,550.40 579.00,551.50 C574.93,552.60 571.15,554.17 567.70,556.20 C564.25,558.23 560.82,562.28 558.30,563.70 C555.78,565.12 554.33,565.32 552.60,564.70 C550.87,564.08 549.00,562.05 547.90,560.00 C546.80,557.95 546.47,555.85 546.00,552.40 Z" fill="#00e0ff"/>
<clipPath id="bc21"><path d="M546.58,552.08 C546.12,548.69 545.07,543.35 545.70,539.18 C546.32,535.01 547.40,530.53 550.33,527.07 C553.25,523.60 556.15,520.40 563.23,518.40 C570.31,516.40 583.67,515.30 592.78,515.05 C601.89,514.80 610.77,515.23 617.90,516.92 C625.02,518.61 631.51,521.80 635.53,525.19 C639.55,528.59 641.09,533.44 642.03,537.31 C642.97,541.18 642.37,545.81 641.14,548.44 C639.91,551.07 637.89,552.46 634.64,553.07 C631.39,553.68 625.97,552.71 621.64,552.08 C617.31,551.46 613.58,549.79 608.64,549.33 C603.70,548.87 596.92,549.02 591.99,549.33 C587.07,549.64 583.09,550.12 579.09,551.20 C575.08,552.28 571.36,553.83 567.96,555.83 C564.56,557.83 561.18,561.82 558.70,563.22 C556.22,564.61 554.79,564.81 553.08,564.20 C551.38,563.59 549.54,561.59 548.45,559.57 C547.37,557.55 547.04,555.48 546.58,552.08 Z"/></clipPath>
<g clip-path="url(#bc21)"><g filter="url(#mb2)">
<path d="M549.89,550.30 C549.47,547.19 548.51,542.32 549.08,538.51 C549.65,534.70 550.64,530.60 553.31,527.44 C555.98,524.27 558.63,521.35 565.10,519.52 C571.57,517.69 583.78,516.69 592.10,516.46 C600.42,516.24 608.54,516.62 615.05,518.17 C621.56,519.71 627.48,522.62 631.16,525.73 C634.84,528.84 636.25,533.26 637.10,536.80 C637.96,540.34 637.41,544.57 636.29,546.97 C635.16,549.37 633.32,550.64 630.35,551.20 C627.38,551.75 622.43,550.87 618.47,550.30 C614.51,549.73 611.11,548.20 606.59,547.78 C602.08,547.36 595.88,547.50 591.38,547.78 C586.88,548.06 583.25,548.50 579.59,549.49 C575.93,550.48 572.52,551.89 569.42,553.72 C566.31,555.55 563.22,559.20 560.96,560.47 C558.69,561.75 557.39,561.92 555.83,561.37 C554.27,560.82 552.59,558.99 551.60,557.14 C550.61,555.29 550.31,553.40 549.89,550.30 Z" fill="#00a8ff" />
<path d="M554.56,547.78 C554.19,545.09 553.36,540.86 553.86,537.56 C554.35,534.26 555.21,530.71 557.52,527.97 C559.84,525.22 562.14,522.69 567.74,521.10 C573.34,519.52 583.92,518.65 591.14,518.45 C598.36,518.26 605.39,518.60 611.03,519.93 C616.67,521.27 621.81,523.79 624.99,526.49 C628.18,529.18 629.40,533.01 630.14,536.08 C630.88,539.15 630.41,542.81 629.44,544.89 C628.46,546.97 626.86,548.08 624.29,548.56 C621.72,549.04 617.43,548.27 613.99,547.78 C610.56,547.29 607.61,545.96 603.70,545.60 C599.78,545.23 594.42,545.35 590.52,545.60 C586.62,545.84 583.47,546.22 580.30,547.08 C577.13,547.94 574.17,549.16 571.48,550.74 C568.79,552.33 566.11,555.49 564.15,556.59 C562.19,557.70 561.06,557.86 559.71,557.37 C558.35,556.89 556.90,555.31 556.04,553.71 C555.18,552.11 554.92,550.47 554.56,547.78 Z" fill="#0080ff" />
<path d="M559.26,543.66 C558.97,541.52 558.31,538.16 558.70,535.54 C559.10,532.91 559.78,530.09 561.62,527.91 C563.46,525.73 565.29,523.72 569.74,522.46 C574.19,521.20 582.61,520.50 588.34,520.35 C594.08,520.19 599.67,520.46 604.15,521.53 C608.63,522.59 612.72,524.59 615.25,526.73 C617.78,528.87 618.75,531.92 619.34,534.36 C619.93,536.80 619.56,539.71 618.78,541.37 C618.01,543.02 616.74,543.90 614.69,544.28 C612.64,544.66 609.23,544.05 606.51,543.66 C603.78,543.27 601.43,542.21 598.32,541.92 C595.21,541.63 590.94,541.73 587.84,541.92 C584.74,542.12 582.24,542.42 579.72,543.10 C577.20,543.78 574.86,544.76 572.72,546.02 C570.58,547.28 568.45,549.79 566.89,550.67 C565.33,551.54 564.43,551.67 563.35,551.29 C562.28,550.90 561.12,549.64 560.44,548.37 C559.76,547.10 559.55,545.80 559.26,543.66 Z" fill="#0060ff" />
<path d="M566.24,539.06 C566.05,537.61 565.60,535.34 565.86,533.56 C566.13,531.78 566.59,529.87 567.84,528.39 C569.08,526.91 570.32,525.55 573.34,524.70 C576.36,523.84 582.05,523.37 585.94,523.27 C589.82,523.16 593.61,523.35 596.65,524.07 C599.69,524.79 602.45,526.14 604.17,527.59 C605.88,529.04 606.54,531.11 606.94,532.76 C607.34,534.41 607.09,536.39 606.56,537.51 C606.04,538.63 605.18,539.22 603.79,539.48 C602.40,539.74 600.09,539.33 598.25,539.06 C596.40,538.79 594.81,538.08 592.70,537.88 C590.60,537.69 587.70,537.75 585.60,537.88 C583.50,538.02 581.81,538.22 580.10,538.68 C578.39,539.14 576.80,539.80 575.36,540.66 C573.91,541.51 572.47,543.21 571.41,543.81 C570.35,544.40 569.74,544.49 569.01,544.23 C568.29,543.97 567.50,543.11 567.04,542.25 C566.58,541.39 566.44,540.51 566.24,539.06 Z" fill="#0048f8" />
</g></g>
<path d="M556.40,578.80 C558.12,577.23 562.62,576.75 566.70,576.90 C570.78,577.05 576.03,578.45 580.90,579.70 C585.77,580.95 590.58,582.52 595.90,584.40 C601.22,586.28 607.95,589.12 612.80,591.00 C617.65,592.88 622.50,594.13 625.00,595.70 C627.50,597.27 628.12,598.68 627.80,600.40 C627.48,602.12 626.85,604.58 623.10,606.00 C619.35,607.42 612.03,608.57 605.30,608.90 C598.57,609.23 588.97,608.95 582.70,608.00 C576.43,607.05 571.62,605.57 567.70,603.20 C563.78,600.83 561.08,596.62 559.20,593.80 C557.32,590.98 556.87,588.80 556.40,586.30 C555.93,583.80 554.68,580.37 556.40,578.80 Z" fill="#00cc00" stroke="#00cc00" stroke-width="2.6" stroke-linejoin="round"/>
<path d="M556.40,578.80 C558.12,577.23 562.62,576.75 566.70,576.90 C570.78,577.05 576.03,578.45 580.90,579.70 C585.77,580.95 590.58,582.52 595.90,584.40 C601.22,586.28 607.95,589.12 612.80,591.00 C617.65,592.88 622.50,594.13 625.00,595.70 C627.50,597.27 628.12,598.68 627.80,600.40 C627.48,602.12 626.85,604.58 623.10,606.00 C619.35,607.42 612.03,608.57 605.30,608.90 C598.57,609.23 588.97,608.95 582.70,608.00 C576.43,607.05 571.62,605.57 567.70,603.20 C563.78,600.83 561.08,596.62 559.20,593.80 C557.32,590.98 556.87,588.80 556.40,586.30 C555.93,583.80 554.68,580.37 556.40,578.80 Z" fill="#00e0ff"/>
<clipPath id="bc22"><path d="M556.86,579.08 C558.55,577.54 562.98,577.06 567.00,577.21 C571.03,577.36 576.20,578.73 580.99,579.97 C585.78,581.20 590.53,582.74 595.76,584.60 C601.00,586.45 607.63,589.24 612.41,591.10 C617.19,592.95 621.97,594.18 624.43,595.73 C626.89,597.27 627.50,598.66 627.19,600.36 C626.87,602.05 626.25,604.48 622.56,605.87 C618.86,607.27 611.66,608.40 605.02,608.73 C598.39,609.06 588.94,608.78 582.76,607.84 C576.59,606.91 571.85,605.44 567.99,603.11 C564.13,600.78 561.47,596.63 559.62,593.85 C557.76,591.08 557.32,588.93 556.86,586.47 C556.40,584.00 555.17,580.62 556.86,579.08 Z"/></clipPath>
<g clip-path="url(#bc22)"><g filter="url(#mb2)">
<path d="M559.45,580.66 C560.99,579.25 565.05,578.81 568.72,578.95 C572.39,579.08 577.12,580.35 581.50,581.47 C585.88,582.60 590.22,584.00 595.00,585.70 C599.78,587.39 605.84,589.94 610.21,591.64 C614.57,593.34 618.94,594.46 621.19,595.87 C623.44,597.28 624.00,598.56 623.71,600.10 C623.43,601.64 622.86,603.87 619.48,605.14 C616.11,606.41 609.52,607.45 603.46,607.75 C597.40,608.05 588.76,607.79 583.12,606.94 C577.48,606.08 573.14,604.75 569.62,602.62 C566.10,600.49 563.67,596.69 561.97,594.16 C560.27,591.62 559.87,589.66 559.45,587.41 C559.03,585.16 557.90,582.07 559.45,580.66 Z" fill="#00a8ff" />
<path d="M563.11,582.89 C564.45,581.67 567.96,581.29 571.14,581.41 C574.33,581.53 578.42,582.62 582.22,583.59 C586.02,584.57 589.77,585.79 593.92,587.26 C598.07,588.73 603.32,590.94 607.10,592.41 C610.88,593.88 614.67,594.85 616.62,596.07 C618.57,597.30 619.05,598.40 618.80,599.74 C618.56,601.08 618.06,603.00 615.14,604.11 C612.21,605.21 606.50,606.11 601.25,606.37 C596.00,606.63 588.51,606.41 583.62,605.67 C578.74,604.93 574.98,603.77 571.92,601.92 C568.87,600.08 566.76,596.79 565.29,594.59 C563.83,592.39 563.47,590.69 563.11,588.74 C562.75,586.79 561.77,584.11 563.11,582.89 Z" fill="#0080ff" />
<path d="M567.23,586.63 C568.29,585.66 571.08,585.36 573.62,585.45 C576.15,585.54 579.40,586.41 582.42,587.19 C585.44,587.96 588.42,588.93 591.72,590.10 C595.02,591.27 599.19,593.02 602.20,594.19 C605.20,595.36 608.21,596.13 609.76,597.11 C611.31,598.08 611.69,598.96 611.50,600.02 C611.30,601.08 610.91,602.61 608.58,603.49 C606.26,604.37 601.72,605.08 597.55,605.29 C593.37,605.50 587.42,605.32 583.54,604.73 C579.65,604.14 576.66,603.22 574.24,601.76 C571.81,600.29 570.13,597.67 568.97,595.93 C567.80,594.18 567.52,592.83 567.23,591.28 C566.94,589.73 566.17,587.60 567.23,586.63 Z" fill="#0060ff" />
<path d="M572.93,590.75 C573.65,590.09 575.54,589.89 577.26,589.95 C578.97,590.01 581.18,590.60 583.22,591.13 C585.26,591.65 587.29,592.31 589.52,593.10 C591.75,593.89 594.58,595.08 596.62,595.87 C598.65,596.66 600.69,597.19 601.74,597.85 C602.79,598.50 603.05,599.10 602.92,599.82 C602.78,600.54 602.52,601.58 600.94,602.17 C599.37,602.77 596.30,603.25 593.47,603.39 C590.64,603.53 586.61,603.41 583.98,603.01 C581.34,602.61 579.32,601.99 577.68,601.00 C576.03,600.00 574.90,598.23 574.11,597.05 C573.32,595.87 573.13,594.95 572.93,593.90 C572.73,592.85 572.21,591.41 572.93,590.75 Z" fill="#0048f8" />
</g></g>
</g>
</g>
<circle cx="629.73" cy="515.51" r="0.5" fill="#111"/>
<circle cx="625.77" cy="512.46" r="0.5" fill="#111"/>
<circle cx="621.55" cy="509.78" r="0.5" fill="#111"/>
<circle cx="617.12" cy="507.47" r="0.5" fill="#111"/>
<circle cx="612.50" cy="505.56" r="0.5" fill="#111"/>
<circle cx="607.73" cy="504.05" r="0.5" fill="#111"/>
<circle cx="606.90" cy="507.14" r="0.5" fill="#111"/>
<circle cx="606.07" cy="510.23" r="0.5" fill="#111"/>
<circle cx="602.85" cy="502.97" r="0.5" fill="#111"/>
<circle cx="602.29" cy="506.12" r="0.5" fill="#111"/>
<circle cx="601.74" cy="509.27" r="0.5" fill="#111"/>
<circle cx="597.89" cy="502.32" r="0.5" fill="#111"/>
<circle cx="597.62" cy="505.51" r="0.5" fill="#111"/>
<circle cx="597.34" cy="508.69" r="0.5" fill="#111"/>
<circle cx="592.90" cy="502.10" r="0.5" fill="#111"/>
<circle cx="592.90" cy="505.30" r="0.5" fill="#111"/>
<circle cx="592.90" cy="508.50" r="0.5" fill="#111"/>
<circle cx="587.91" cy="502.32" r="0.5" fill="#111"/>
<circle cx="588.18" cy="505.51" r="0.5" fill="#111"/>
<circle cx="588.46" cy="508.69" r="0.5" fill="#111"/>
<circle cx="582.95" cy="502.97" r="0.5" fill="#111"/>
<circle cx="583.51" cy="506.12" r="0.5" fill="#111"/>
<circle cx="584.06" cy="509.27" r="0.5" fill="#111"/>
<circle cx="578.07" cy="504.05" r="0.5" fill="#111"/>
<circle cx="578.90" cy="507.14" r="0.5" fill="#111"/>
<circle cx="573.30" cy="505.56" r="0.5" fill="#111"/>
<circle cx="574.40" cy="508.56" r="0.5" fill="#111"/>
<circle cx="568.68" cy="507.47" r="0.5" fill="#111"/>
<circle cx="570.04" cy="510.37" r="0.5" fill="#111"/>
<circle cx="564.25" cy="509.78" r="0.5" fill="#111"/>
<circle cx="565.85" cy="512.55" r="0.5" fill="#111"/>
<circle cx="560.03" cy="512.46" r="0.5" fill="#111"/>
<circle cx="561.87" cy="515.08" r="0.5" fill="#111"/>
<circle cx="556.07" cy="515.51" r="0.5" fill="#111"/>
<circle cx="552.38" cy="518.88" r="0.5" fill="#111"/>
<circle cx="549.01" cy="522.57" r="0.5" fill="#111"/>
<circle cx="545.96" cy="526.53" r="0.5" fill="#111"/>
<circle cx="543.28" cy="530.75" r="0.5" fill="#111"/>
<circle cx="540.97" cy="535.18" r="0.5" fill="#111"/>
<circle cx="539.06" cy="539.80" r="0.5" fill="#111"/>
<circle cx="537.55" cy="544.57" r="0.5" fill="#111"/>
<circle cx="536.47" cy="549.45" r="0.5" fill="#111"/>
<circle cx="535.82" cy="554.41" r="0.5" fill="#111"/>
<circle cx="535.60" cy="559.40" r="0.5" fill="#111"/>
<circle cx="535.82" cy="564.39" r="0.5" fill="#111"/>
<circle cx="536.47" cy="569.35" r="0.5" fill="#111"/>
<circle cx="537.55" cy="574.23" r="0.5" fill="#111"/>
<circle cx="539.06" cy="579.00" r="0.5" fill="#111"/>
<circle cx="540.97" cy="583.62" r="0.5" fill="#111"/>
<circle cx="543.28" cy="588.05" r="0.5" fill="#111"/>
<circle cx="545.96" cy="592.27" r="0.5" fill="#111"/>
<circle cx="549.01" cy="596.23" r="0.5" fill="#111"/>
<circle cx="552.38" cy="599.92" r="0.5" fill="#111"/>
<circle cx="556.07" cy="603.29" r="0.5" fill="#111"/>
<circle cx="560.03" cy="606.34" r="0.5" fill="#111"/>
<circle cx="564.25" cy="609.02" r="0.5" fill="#111"/>
<circle cx="568.68" cy="611.33" r="0.5" fill="#111"/>
<circle cx="573.30" cy="613.24" r="0.5" fill="#111"/>
<circle cx="578.07" cy="614.75" r="0.5" fill="#111"/>
<circle cx="573.58" cy="612.49" r="0.55" fill="#111"/>
<circle cx="580.19" cy="614.45" r="0.55" fill="#111"/>
<circle cx="586.99" cy="615.59" r="0.55" fill="#111"/>
<circle cx="593.89" cy="615.89" r="0.55" fill="#111"/>
<circle cx="600.76" cy="615.35" r="0.55" fill="#111"/>
<circle cx="607.52" cy="613.97" r="0.55" fill="#111"/>
<circle cx="614.07" cy="611.79" r="0.55" fill="#111"/>
<circle cx="620.29" cy="608.82" r="0.55" fill="#111"/>
<path d="M615.24,555.32 A23.5,23.5 0 0,0 568.69,557.35" fill="none" stroke="#ffffff" stroke-width="0.8" stroke-dasharray="2.2 1.6"/>
<path d="M568.69,557.35 A23.5,23.5 0 1,0 615.24,555.32" fill="none" stroke="#3a3a3a" stroke-width="0.8" stroke-dasharray="2.2 1.6"/>
<text x="592.90" y="561.20" font-size="5.2" fill="#000" text-anchor="middle" font-weight="normal" textLength="7.05" lengthAdjust="spacingAndGlyphs">+10</text>
<text x="583.59" y="551.89" font-size="5.2" fill="#000" text-anchor="middle" font-weight="normal" textLength="4.70" lengthAdjust="spacingAndGlyphs">-2</text>
<text x="602.21" y="551.89" font-size="5.2" fill="#000" text-anchor="middle" font-weight="normal" textLength="4.70" lengthAdjust="spacingAndGlyphs">+1</text>
<text x="583.59" y="570.51" font-size="5.2" fill="#000" text-anchor="middle" font-weight="normal" textLength="4.70" lengthAdjust="spacingAndGlyphs">+8</text>
<text x="602.21" y="570.51" font-size="5.2" fill="#000" text-anchor="middle" font-weight="normal" textLength="7.05" lengthAdjust="spacingAndGlyphs">+20</text>
<text x="592.90" y="534.88" font-size="5.2" fill="#000" text-anchor="middle" font-weight="normal" textLength="7.05" lengthAdjust="spacingAndGlyphs">-38</text>
<text x="574.29" y="542.59" font-size="5.2" fill="#000" text-anchor="middle" font-weight="normal" textLength="7.05" lengthAdjust="spacingAndGlyphs">-29</text>
<text x="611.51" y="542.59" font-size="5.2" fill="#000" text-anchor="middle" font-weight="normal" textLength="7.05" lengthAdjust="spacingAndGlyphs">-25</text>
<text x="566.58" y="561.20" font-size="5.2" fill="#000" text-anchor="middle" font-weight="normal" textLength="2.35" lengthAdjust="spacingAndGlyphs">0</text>
<text x="619.22" y="561.20" font-size="5.2" fill="#000" text-anchor="middle" font-weight="normal" textLength="4.70" lengthAdjust="spacingAndGlyphs">+9</text>
<text x="574.29" y="579.81" font-size="5.2" fill="#000" text-anchor="middle" font-weight="normal" textLength="4.70" lengthAdjust="spacingAndGlyphs">-1</text>
<text x="592.90" y="587.52" font-size="5.2" fill="#000" text-anchor="middle" font-weight="normal" textLength="4.70" lengthAdjust="spacingAndGlyphs">-1</text>
<text x="592.90" y="521.72" font-size="5.2" fill="#000" text-anchor="middle" font-weight="normal" textLength="7.05" lengthAdjust="spacingAndGlyphs">-36</text>
<text x="575.77" y="525.63" font-size="5.2" fill="#000" text-anchor="middle" font-weight="normal" textLength="7.05" lengthAdjust="spacingAndGlyphs">-41</text>
<text x="610.03" y="525.63" font-size="5.2" fill="#000" text-anchor="middle" font-weight="normal" textLength="7.05" lengthAdjust="spacingAndGlyphs">-31</text>
<text x="562.03" y="536.58" font-size="5.2" fill="#000" text-anchor="middle" font-weight="normal" textLength="7.05" lengthAdjust="spacingAndGlyphs">-40</text>
<text x="623.77" y="536.58" font-size="5.2" fill="#000" text-anchor="middle" font-weight="normal" textLength="7.05" lengthAdjust="spacingAndGlyphs">-34</text>
<text x="554.41" y="552.41" font-size="5.2" fill="#000" text-anchor="middle" font-weight="normal" textLength="7.05" lengthAdjust="spacingAndGlyphs">-22</text>
<text x="631.39" y="552.41" font-size="5.2" fill="#000" text-anchor="middle" font-weight="normal" textLength="7.05" lengthAdjust="spacingAndGlyphs">-10</text>
<text x="554.41" y="569.99" font-size="5.2" fill="#000" text-anchor="middle" font-weight="normal" textLength="4.70" lengthAdjust="spacingAndGlyphs">-1</text>
<text x="631.39" y="569.99" font-size="5.2" fill="#000" text-anchor="middle" font-weight="normal" textLength="7.05" lengthAdjust="spacingAndGlyphs">+16</text>
<text x="562.03" y="585.82" font-size="5.2" fill="#000" text-anchor="middle" font-weight="normal" textLength="4.70" lengthAdjust="spacingAndGlyphs">-4</text>
<text x="623.77" y="585.82" font-size="5.2" fill="#000" text-anchor="middle" font-weight="normal" textLength="7.05" lengthAdjust="spacingAndGlyphs">+17</text>
<text x="575.77" y="596.77" font-size="5.2" fill="#000" text-anchor="middle" font-weight="normal" textLength="7.05" lengthAdjust="spacingAndGlyphs">-16</text>
<text x="610.03" y="596.77" font-size="5.2" fill="#000" text-anchor="middle" font-weight="normal" textLength="4.70" lengthAdjust="spacingAndGlyphs">-2</text>
<text x="592.90" y="600.68" font-size="5.2" fill="#000" text-anchor="middle" font-weight="normal" textLength="7.05" lengthAdjust="spacingAndGlyphs">-19</text>
<circle cx="612.1999999999999" cy="572.1999999999999" r="6.6" fill="#ffffff" fill-opacity="0.35" stroke="#ffffff" stroke-width="0.9"/>
<text x="612.20" y="573.90" font-size="4.8" fill="#111" text-anchor="middle" font-weight="normal" >+21µm</text>
<text x="611.80" y="579.40" font-size="5.2" fill="#000" text-anchor="middle" font-weight="normal" >+19</text>
<text x="655.40" y="559.40" font-size="5.0" fill="#333" text-anchor="middle" dominant-baseline="central" transform="rotate(90.0 655.40 559.40)">0°</text>
<text x="647.03" y="528.15" font-size="5.0" fill="#333" text-anchor="middle" dominant-baseline="central" transform="rotate(60.0 647.03 528.15)">30°</text>
<text x="624.15" y="505.27" font-size="5.0" fill="#333" text-anchor="middle" dominant-baseline="central" transform="rotate(30.0 624.15 505.27)">60°</text>
<text x="592.90" y="496.90" font-size="5.0" fill="#333" text-anchor="middle" dominant-baseline="central" transform="rotate(0.0 592.90 496.90)">90°</text>
<text x="561.65" y="505.27" font-size="5.0" fill="#333" text-anchor="middle" dominant-baseline="central" transform="rotate(-30.0 561.65 505.27)">120°</text>
<text x="538.77" y="528.15" font-size="5.0" fill="#333" text-anchor="middle" dominant-baseline="central" transform="rotate(-60.0 538.77 528.15)">150°</text>
<text x="530.40" y="559.40" font-size="5.0" fill="#333" text-anchor="middle" dominant-baseline="central" transform="rotate(-90.0 530.40 559.40)">180°</text>
<text x="538.77" y="590.65" font-size="5.0" fill="#333" text-anchor="middle" dominant-baseline="central" transform="rotate(60.0 538.77 590.65)">210°</text>
<text x="561.65" y="613.53" font-size="5.0" fill="#333" text-anchor="middle" dominant-baseline="central" transform="rotate(30.0 561.65 613.53)">240°</text>
<text x="592.90" y="621.90" font-size="5.0" fill="#333" text-anchor="middle" dominant-baseline="central" transform="rotate(0.0 592.90 621.90)">270°</text>
<text x="624.15" y="613.53" font-size="5.0" fill="#333" text-anchor="middle" dominant-baseline="central" transform="rotate(-30.0 624.15 613.53)">300°</text>
<text x="647.03" y="590.65" font-size="5.0" fill="#333" text-anchor="middle" dominant-baseline="central" transform="rotate(-60.0 647.03 590.65)">330°</text>
<line x1="649.12" y1="544.34" x2="651.82" y2="543.61" stroke="#222" stroke-width="0.7" />
<line x1="634.05" y1="518.25" x2="636.03" y2="516.27" stroke="#222" stroke-width="0.7" />
<line x1="607.96" y1="503.18" x2="608.69" y2="500.48" stroke="#222" stroke-width="0.7" />
<line x1="577.84" y1="503.18" x2="577.11" y2="500.48" stroke="#222" stroke-width="0.7" />
<line x1="551.75" y1="518.25" x2="549.77" y2="516.27" stroke="#222" stroke-width="0.7" />
<line x1="536.68" y1="544.34" x2="533.98" y2="543.61" stroke="#222" stroke-width="0.7" />
<line x1="536.68" y1="574.46" x2="533.98" y2="575.19" stroke="#222" stroke-width="0.7" />
<line x1="551.75" y1="600.55" x2="549.77" y2="602.53" stroke="#222" stroke-width="0.7" />
<line x1="577.84" y1="615.62" x2="577.11" y2="618.32" stroke="#222" stroke-width="0.7" />
<line x1="607.96" y1="615.62" x2="608.69" y2="618.32" stroke="#222" stroke-width="0.7" />
<line x1="634.05" y1="600.55" x2="636.03" y2="602.53" stroke="#222" stroke-width="0.7" />
<line x1="649.12" y1="574.46" x2="651.82" y2="575.19" stroke="#222" stroke-width="0.7" />
<circle cx="537.70" cy="499.60" r="2.70" fill="none" stroke="#222" stroke-width="0.81"/>
<line x1="539.59" y1="501.49" x2="541.88" y2="503.92" stroke="#222" stroke-width="1.1340000000000001" />
<text x="538.20" y="507.60" font-size="5.4" fill="#222" text-anchor="middle" font-weight="normal" textLength="9.4" lengthAdjust="spacingAndGlyphs">9mm</text>
<text x="653.30" y="504.90" font-size="9.6" fill="#000" text-anchor="end" font-weight="bold" >OS</text>
<text x="536.60" y="622.80" font-size="7.0" fill="#333" text-anchor="middle" font-weight="normal" >N</text>
<text x="649.20" y="622.80" font-size="7.0" fill="#333" text-anchor="middle" font-weight="normal" >T</text>
<rect x="5.00" y="637.00" width="156.50" height="146.70" fill="#efefef" stroke="none" stroke-width="1" />
<rect x="165.00" y="637.00" width="160.70" height="146.70" fill="#efefef" stroke="none" stroke-width="1" />
<line x1="5.00" y1="637.00" x2="326.00" y2="637.00" stroke="#c4c4c4" stroke-width="0.8" />
<rect x="161.80" y="637.20" width="2.60" height="146.50" fill="#4a4a4a" stroke="none" stroke-width="1" />
<text x="87.10" y="645.30" font-size="6.6" fill="#333" text-anchor="middle" font-weight="normal" textLength="49.0" lengthAdjust="spacingAndGlyphs">(Front) Difference</text>
<line x1="23.20" y1="654.95" x2="23.20" y2="767.65" stroke="#7a7a7a" stroke-width="0.8" />
<line x1="20.80" y1="662.10" x2="23.20" y2="662.10" stroke="#7a7a7a" stroke-width="0.7" />
<line x1="20.80" y1="674.40" x2="23.20" y2="674.40" stroke="#7a7a7a" stroke-width="0.7" />
<line x1="20.80" y1="686.70" x2="23.20" y2="686.70" stroke="#7a7a7a" stroke-width="0.7" />
<line x1="20.80" y1="699.00" x2="23.20" y2="699.00" stroke="#7a7a7a" stroke-width="0.7" />
<line x1="20.80" y1="711.30" x2="23.20" y2="711.30" stroke="#7a7a7a" stroke-width="0.7" />
<line x1="20.80" y1="723.60" x2="23.20" y2="723.60" stroke="#7a7a7a" stroke-width="0.7" />
<line x1="20.80" y1="735.90" x2="23.20" y2="735.90" stroke="#7a7a7a" stroke-width="0.7" />
<line x1="20.80" y1="748.20" x2="23.20" y2="748.20" stroke="#7a7a7a" stroke-width="0.7" />
<line x1="20.80" y1="760.50" x2="23.20" y2="760.50" stroke="#7a7a7a" stroke-width="0.7" />
<text x="16.60" y="664.40" font-size="6.4" fill="#3c3c3c" text-anchor="middle" font-weight="normal" >8</text>
<text x="16.60" y="689.00" font-size="6.4" fill="#3c3c3c" text-anchor="middle" font-weight="normal" >4</text>
<text x="16.60" y="713.60" font-size="6.4" fill="#3c3c3c" text-anchor="middle" font-weight="normal" >0</text>
<text x="16.60" y="738.20" font-size="6.4" fill="#3c3c3c" text-anchor="middle" font-weight="normal" >4</text>
<text x="16.60" y="762.80" font-size="6.4" fill="#3c3c3c" text-anchor="middle" font-weight="normal" >8</text>
<circle cx="87.6" cy="711.3" r="55.5" fill="#00d400"/>
<circle cx="113.96" cy="665.64" r="0.55" fill="#111"/>
<circle cx="108.20" cy="662.77" r="0.55" fill="#111"/>
<circle cx="102.13" cy="660.62" r="0.55" fill="#111"/>
<circle cx="95.85" cy="659.22" r="0.55" fill="#111"/>
<circle cx="89.44" cy="658.61" r="0.55" fill="#111"/>
<circle cx="83.00" cy="658.78" r="0.55" fill="#111"/>
<circle cx="76.64" cy="659.73" r="0.55" fill="#111"/>
<circle cx="70.43" cy="661.45" r="0.55" fill="#111"/>
<circle cx="64.49" cy="663.91" r="0.55" fill="#111"/>
<circle cx="87.6" cy="711.3" r="24" fill="none" stroke="#ffffff" stroke-width="0.8" stroke-dasharray="2.2 1.6"/>
<text x="87.60" y="713.60" font-size="6.6" fill="#000" text-anchor="middle" font-weight="normal" textLength="5.80" lengthAdjust="spacingAndGlyphs">+4</text>
<text x="78.90" y="704.90" font-size="6.6" fill="#000" text-anchor="middle" font-weight="normal" textLength="5.80" lengthAdjust="spacingAndGlyphs">+4</text>
<text x="96.30" y="704.90" font-size="6.6" fill="#000" text-anchor="middle" font-weight="normal" textLength="5.80" lengthAdjust="spacingAndGlyphs">+4</text>
<text x="78.90" y="722.30" font-size="6.6" fill="#000" text-anchor="middle" font-weight="normal" textLength="5.80" lengthAdjust="spacingAndGlyphs">+4</text>
<text x="96.30" y="722.30" font-size="6.6" fill="#000" text-anchor="middle" font-weight="normal" textLength="5.80" lengthAdjust="spacingAndGlyphs">+4</text>
<text x="87.60" y="689.00" font-size="6.6" fill="#000" text-anchor="middle" font-weight="normal" textLength="5.80" lengthAdjust="spacingAndGlyphs">+3</text>
<text x="70.21" y="696.21" font-size="6.6" fill="#000" text-anchor="middle" font-weight="normal" textLength="5.80" lengthAdjust="spacingAndGlyphs">+3</text>
<text x="104.99" y="696.21" font-size="6.6" fill="#000" text-anchor="middle" font-weight="normal" textLength="5.80" lengthAdjust="spacingAndGlyphs">+3</text>
<text x="63.00" y="713.60" font-size="6.6" fill="#000" text-anchor="middle" font-weight="normal" textLength="5.80" lengthAdjust="spacingAndGlyphs">+3</text>
<text x="112.20" y="713.60" font-size="6.6" fill="#000" text-anchor="middle" font-weight="normal" textLength="5.80" lengthAdjust="spacingAndGlyphs">+3</text>
<text x="70.21" y="730.99" font-size="6.6" fill="#000" text-anchor="middle" font-weight="normal" textLength="5.80" lengthAdjust="spacingAndGlyphs">+2</text>
<text x="104.99" y="730.99" font-size="6.6" fill="#000" text-anchor="middle" font-weight="normal" textLength="5.80" lengthAdjust="spacingAndGlyphs">+3</text>
<text x="87.60" y="738.20" font-size="6.6" fill="#000" text-anchor="middle" font-weight="normal" textLength="5.80" lengthAdjust="spacingAndGlyphs">+2</text>
<text x="87.60" y="676.70" font-size="6.6" fill="#000" text-anchor="middle" font-weight="normal" textLength="2.90" lengthAdjust="spacingAndGlyphs">0</text>
<text x="71.59" y="680.35" font-size="6.6" fill="#000" text-anchor="middle" font-weight="normal" textLength="2.90" lengthAdjust="spacingAndGlyphs">0</text>
<text x="103.61" y="680.35" font-size="6.6" fill="#000" text-anchor="middle" font-weight="normal" textLength="2.90" lengthAdjust="spacingAndGlyphs">0</text>
<text x="58.75" y="690.59" font-size="6.6" fill="#000" text-anchor="middle" font-weight="normal" textLength="2.90" lengthAdjust="spacingAndGlyphs">0</text>
<text x="116.45" y="690.59" font-size="6.6" fill="#000" text-anchor="middle" font-weight="normal" textLength="2.90" lengthAdjust="spacingAndGlyphs">0</text>
<text x="51.63" y="705.39" font-size="6.6" fill="#000" text-anchor="middle" font-weight="normal" textLength="2.90" lengthAdjust="spacingAndGlyphs">0</text>
<text x="123.57" y="705.39" font-size="6.6" fill="#000" text-anchor="middle" font-weight="normal" textLength="2.90" lengthAdjust="spacingAndGlyphs">0</text>
<text x="51.63" y="721.81" font-size="6.6" fill="#000" text-anchor="middle" font-weight="normal" textLength="2.90" lengthAdjust="spacingAndGlyphs">0</text>
<text x="123.57" y="721.81" font-size="6.6" fill="#000" text-anchor="middle" font-weight="normal" textLength="2.90" lengthAdjust="spacingAndGlyphs">0</text>
<text x="58.75" y="736.61" font-size="6.6" fill="#000" text-anchor="middle" font-weight="normal" textLength="2.90" lengthAdjust="spacingAndGlyphs">0</text>
<text x="116.45" y="736.61" font-size="6.6" fill="#000" text-anchor="middle" font-weight="normal" textLength="2.90" lengthAdjust="spacingAndGlyphs">0</text>
<text x="71.59" y="746.85" font-size="6.6" fill="#000" text-anchor="middle" font-weight="normal" textLength="2.90" lengthAdjust="spacingAndGlyphs">0</text>
<text x="103.61" y="746.85" font-size="6.6" fill="#000" text-anchor="middle" font-weight="normal" textLength="2.90" lengthAdjust="spacingAndGlyphs">0</text>
<text x="87.60" y="750.50" font-size="6.6" fill="#000" text-anchor="middle" font-weight="normal" textLength="2.90" lengthAdjust="spacingAndGlyphs">0</text>
<circle cx="93.6" cy="717.3" r="2.2" fill="none" stroke="#111" stroke-width="0.7"/>
<line x1="140.60" y1="711.30" x2="145.60" y2="711.30" stroke="#222" stroke-width="0.7" />
<line x1="133.93" y1="684.55" x2="136.10" y2="683.30" stroke="#222" stroke-width="0.7" />
<line x1="114.35" y1="664.97" x2="115.60" y2="662.80" stroke="#222" stroke-width="0.7" />
<line x1="87.60" y1="658.30" x2="87.60" y2="653.30" stroke="#222" stroke-width="0.7" />
<line x1="60.85" y1="664.97" x2="59.60" y2="662.80" stroke="#222" stroke-width="0.7" />
<line x1="41.27" y1="684.55" x2="39.10" y2="683.30" stroke="#222" stroke-width="0.7" />
<line x1="34.60" y1="711.30" x2="29.60" y2="711.30" stroke="#222" stroke-width="0.7" />
<line x1="41.27" y1="738.05" x2="39.10" y2="739.30" stroke="#222" stroke-width="0.7" />
<line x1="60.85" y1="757.63" x2="59.60" y2="759.80" stroke="#222" stroke-width="0.7" />
<line x1="87.60" y1="764.30" x2="87.60" y2="769.30" stroke="#222" stroke-width="0.7" />
<line x1="114.35" y1="757.63" x2="115.60" y2="759.80" stroke="#222" stroke-width="0.7" />
<line x1="133.93" y1="738.05" x2="136.10" y2="739.30" stroke="#222" stroke-width="0.7" />
<circle cx="36.40" cy="658.70" r="4.60" fill="none" stroke="#222" stroke-width="1.38"/>
<line x1="39.62" y1="661.92" x2="43.53" y2="666.06" stroke="#222" stroke-width="1.9319999999999997" />
<text x="37.40" y="669.90" font-size="7.6" fill="#222" text-anchor="middle" font-weight="normal" textLength="13.2" lengthAdjust="spacingAndGlyphs">9mm</text>
<text x="143.60" y="665.40" font-size="13.4" fill="#000" text-anchor="end" font-weight="bold" textLength="21.2" lengthAdjust="spacingAndGlyphs">OS</text>
<text x="40.10" y="767.30" font-size="8.2" fill="#333" text-anchor="middle" font-weight="normal" >N</text>
<text x="135.60" y="767.30" font-size="8.2" fill="#333" text-anchor="middle" font-weight="normal" >T</text>
<rect x="32.10" y="772.90" width="37.17" height="10.40" fill="#00d400" stroke="none" stroke-width="1" />
<line x1="32.10" y1="772.90" x2="32.10" y2="783.30" stroke="#444" stroke-width="0.7" />
<text x="50.68" y="780.50" font-size="6.8" fill="#222" text-anchor="middle" font-weight="normal" textLength="16.0" lengthAdjust="spacingAndGlyphs">&lt;5µm</text>
<rect x="69.27" y="772.90" width="37.17" height="10.40" fill="#ffff00" stroke="none" stroke-width="1" />
<line x1="69.27" y1="772.90" x2="69.27" y2="783.30" stroke="#444" stroke-width="0.7" />
<text x="87.85" y="780.50" font-size="6.8" fill="#222" text-anchor="middle" font-weight="normal" textLength="18.2" lengthAdjust="spacingAndGlyphs">5-7µm</text>
<rect x="106.43" y="772.90" width="37.17" height="10.40" fill="#e00000" stroke="none" stroke-width="1" />
<line x1="106.43" y1="772.90" x2="106.43" y2="783.30" stroke="#444" stroke-width="0.7" />
<text x="125.02" y="780.50" font-size="6.8" fill="#222" text-anchor="middle" font-weight="normal" textLength="16.0" lengthAdjust="spacingAndGlyphs">&gt;7µm</text>
<line x1="32.10" y1="773.30" x2="143.60" y2="773.30" stroke="#333" stroke-width="0.9" />
<line x1="32.50" y1="772.90" x2="32.50" y2="783.30" stroke="#333" stroke-width="0.9" />
<text x="252.50" y="645.30" font-size="6.6" fill="#333" text-anchor="middle" font-weight="normal" textLength="50.2" lengthAdjust="spacingAndGlyphs">(Back) Difference</text>
<line x1="187.50" y1="655.55" x2="187.50" y2="768.25" stroke="#7a7a7a" stroke-width="0.8" />
<line x1="185.10" y1="662.70" x2="187.50" y2="662.70" stroke="#7a7a7a" stroke-width="0.7" />
<line x1="185.10" y1="675.00" x2="187.50" y2="675.00" stroke="#7a7a7a" stroke-width="0.7" />
<line x1="185.10" y1="687.30" x2="187.50" y2="687.30" stroke="#7a7a7a" stroke-width="0.7" />
<line x1="185.10" y1="699.60" x2="187.50" y2="699.60" stroke="#7a7a7a" stroke-width="0.7" />
<line x1="185.10" y1="711.90" x2="187.50" y2="711.90" stroke="#7a7a7a" stroke-width="0.7" />
<line x1="185.10" y1="724.20" x2="187.50" y2="724.20" stroke="#7a7a7a" stroke-width="0.7" />
<line x1="185.10" y1="736.50" x2="187.50" y2="736.50" stroke="#7a7a7a" stroke-width="0.7" />
<line x1="185.10" y1="748.80" x2="187.50" y2="748.80" stroke="#7a7a7a" stroke-width="0.7" />
<line x1="185.10" y1="761.10" x2="187.50" y2="761.10" stroke="#7a7a7a" stroke-width="0.7" />
<text x="180.90" y="665.00" font-size="6.4" fill="#3c3c3c" text-anchor="middle" font-weight="normal" >8</text>
<text x="180.90" y="689.60" font-size="6.4" fill="#3c3c3c" text-anchor="middle" font-weight="normal" >4</text>
<text x="180.90" y="714.20" font-size="6.4" fill="#3c3c3c" text-anchor="middle" font-weight="normal" >0</text>
<text x="180.90" y="738.80" font-size="6.4" fill="#3c3c3c" text-anchor="middle" font-weight="normal" >4</text>
<text x="180.90" y="763.40" font-size="6.4" fill="#3c3c3c" text-anchor="middle" font-weight="normal" >8</text>
<circle cx="253.0" cy="711.9" r="55.5" fill="#00d400"/>
<circle cx="252.0" cy="712.1999999999999" r="26.8" fill="#ffff00"/>
<circle cx="252.5" cy="712.6999999999999" r="20.4" fill="#e00000"/>
<circle cx="293.39" cy="678.01" r="0.55" fill="#111"/>
<circle cx="290.28" cy="674.62" r="0.55" fill="#111"/>
<circle cx="286.89" cy="671.51" r="0.55" fill="#111"/>
<circle cx="283.24" cy="668.71" r="0.55" fill="#111"/>
<circle cx="279.36" cy="666.24" r="0.55" fill="#111"/>
<circle cx="275.28" cy="664.11" r="0.55" fill="#111"/>
<circle cx="271.03" cy="662.35" r="0.55" fill="#111"/>
<circle cx="266.65" cy="660.97" r="0.55" fill="#111"/>
<circle cx="262.16" cy="659.98" r="0.55" fill="#111"/>
<circle cx="257.60" cy="659.38" r="0.55" fill="#111"/>
<circle cx="253.00" cy="659.17" r="0.55" fill="#111"/>
<circle cx="248.40" cy="659.38" r="0.55" fill="#111"/>
<circle cx="243.84" cy="659.98" r="0.55" fill="#111"/>
<circle cx="239.35" cy="660.97" r="0.55" fill="#111"/>
<circle cx="234.97" cy="662.35" r="0.55" fill="#111"/>
<circle cx="230.72" cy="664.11" r="0.55" fill="#111"/>
<circle cx="226.64" cy="666.24" r="0.55" fill="#111"/>
<circle cx="222.76" cy="668.71" r="0.55" fill="#111"/>
<circle cx="219.11" cy="671.51" r="0.55" fill="#111"/>
<circle cx="215.72" cy="674.62" r="0.55" fill="#111"/>
<circle cx="212.61" cy="678.01" r="0.55" fill="#111"/>
<circle cx="236.30" cy="666.01" r="0.55" fill="#111"/>
<circle cx="231.59" cy="668.00" r="0.55" fill="#111"/>
<circle cx="227.12" cy="670.48" r="0.55" fill="#111"/>
<circle cx="222.93" cy="673.41" r="0.55" fill="#111"/>
<circle cx="219.07" cy="676.77" r="0.55" fill="#111"/>
<circle cx="215.59" cy="680.51" r="0.55" fill="#111"/>
<circle cx="212.51" cy="684.59" r="0.55" fill="#111"/>
<circle cx="209.88" cy="688.97" r="0.55" fill="#111"/>
<circle cx="207.72" cy="693.60" r="0.55" fill="#111"/>
<circle cx="203.45" cy="729.93" r="0.55" fill="#111"/>
<circle cx="205.61" cy="735.01" r="0.55" fill="#111"/>
<circle cx="208.29" cy="739.84" r="0.55" fill="#111"/>
<circle cx="211.45" cy="744.36" r="0.55" fill="#111"/>
<circle cx="215.07" cy="748.53" r="0.55" fill="#111"/>
<circle cx="219.11" cy="752.29" r="0.55" fill="#111"/>
<circle cx="223.52" cy="755.61" r="0.55" fill="#111"/>
<circle cx="228.25" cy="758.45" r="0.55" fill="#111"/>
<circle cx="233.25" cy="760.79" r="0.55" fill="#111"/>
<circle cx="253.0" cy="711.9" r="24" fill="none" stroke="#ffffff" stroke-width="0.8" stroke-dasharray="2.2 1.6"/>
<text x="253.00" y="714.20" font-size="6.6" fill="#000" text-anchor="middle" font-weight="normal" textLength="8.70" lengthAdjust="spacingAndGlyphs">+21</text>
<text x="244.30" y="705.50" font-size="6.6" fill="#000" text-anchor="middle" font-weight="normal" textLength="8.70" lengthAdjust="spacingAndGlyphs">+19</text>
<text x="261.70" y="705.50" font-size="6.6" fill="#000" text-anchor="middle" font-weight="normal" textLength="8.70" lengthAdjust="spacingAndGlyphs">+19</text>
<text x="244.30" y="722.90" font-size="6.6" fill="#000" text-anchor="middle" font-weight="normal" textLength="8.70" lengthAdjust="spacingAndGlyphs">+20</text>
<text x="261.70" y="722.90" font-size="6.6" fill="#000" text-anchor="middle" font-weight="normal" textLength="8.70" lengthAdjust="spacingAndGlyphs">+20</text>
<text x="253.00" y="689.60" font-size="6.6" fill="#000" text-anchor="middle" font-weight="normal" textLength="8.70" lengthAdjust="spacingAndGlyphs">+13</text>
<text x="235.61" y="696.81" font-size="6.6" fill="#000" text-anchor="middle" font-weight="normal" textLength="8.70" lengthAdjust="spacingAndGlyphs">+12</text>
<text x="270.39" y="696.81" font-size="6.6" fill="#000" text-anchor="middle" font-weight="normal" textLength="8.70" lengthAdjust="spacingAndGlyphs">+13</text>
<text x="228.40" y="714.20" font-size="6.6" fill="#000" text-anchor="middle" font-weight="normal" textLength="8.70" lengthAdjust="spacingAndGlyphs">+14</text>
<text x="277.60" y="714.20" font-size="6.6" fill="#000" text-anchor="middle" font-weight="normal" textLength="8.70" lengthAdjust="spacingAndGlyphs">+13</text>
<text x="235.61" y="731.59" font-size="6.6" fill="#000" text-anchor="middle" font-weight="normal" textLength="8.70" lengthAdjust="spacingAndGlyphs">+14</text>
<text x="270.39" y="731.59" font-size="6.6" fill="#000" text-anchor="middle" font-weight="normal" textLength="8.70" lengthAdjust="spacingAndGlyphs">+14</text>
<text x="253.00" y="738.80" font-size="6.6" fill="#000" text-anchor="middle" font-weight="normal" textLength="8.70" lengthAdjust="spacingAndGlyphs">+14</text>
<text x="253.00" y="677.30" font-size="6.6" fill="#000" text-anchor="middle" font-weight="normal" textLength="5.80" lengthAdjust="spacingAndGlyphs">+1</text>
<text x="236.99" y="680.95" font-size="6.6" fill="#000" text-anchor="middle" font-weight="normal" textLength="5.80" lengthAdjust="spacingAndGlyphs">+2</text>
<text x="269.01" y="680.95" font-size="6.6" fill="#000" text-anchor="middle" font-weight="normal" textLength="5.80" lengthAdjust="spacingAndGlyphs">+1</text>
<text x="224.15" y="691.19" font-size="6.6" fill="#000" text-anchor="middle" font-weight="normal" textLength="5.80" lengthAdjust="spacingAndGlyphs">+2</text>
<text x="281.85" y="691.19" font-size="6.6" fill="#000" text-anchor="middle" font-weight="normal" textLength="5.80" lengthAdjust="spacingAndGlyphs">+2</text>
<text x="217.03" y="705.99" font-size="6.6" fill="#000" text-anchor="middle" font-weight="normal" textLength="5.80" lengthAdjust="spacingAndGlyphs">+3</text>
<text x="288.97" y="705.99" font-size="6.6" fill="#000" text-anchor="middle" font-weight="normal" textLength="5.80" lengthAdjust="spacingAndGlyphs">+2</text>
<text x="217.03" y="722.41" font-size="6.6" fill="#000" text-anchor="middle" font-weight="normal" textLength="5.80" lengthAdjust="spacingAndGlyphs">+3</text>
<text x="288.97" y="722.41" font-size="6.6" fill="#000" text-anchor="middle" font-weight="normal" textLength="5.80" lengthAdjust="spacingAndGlyphs">+3</text>
<text x="224.15" y="737.21" font-size="6.6" fill="#000" text-anchor="middle" font-weight="normal" textLength="5.80" lengthAdjust="spacingAndGlyphs">+4</text>
<text x="281.85" y="737.21" font-size="6.6" fill="#000" text-anchor="middle" font-weight="normal" textLength="5.80" lengthAdjust="spacingAndGlyphs">+4</text>
<text x="236.99" y="747.45" font-size="6.6" fill="#000" text-anchor="middle" font-weight="normal" textLength="5.80" lengthAdjust="spacingAndGlyphs">+4</text>
<text x="269.01" y="747.45" font-size="6.6" fill="#000" text-anchor="middle" font-weight="normal" textLength="5.80" lengthAdjust="spacingAndGlyphs">+4</text>
<text x="253.00" y="751.10" font-size="6.6" fill="#000" text-anchor="middle" font-weight="normal" textLength="5.80" lengthAdjust="spacingAndGlyphs">+4</text>
<line x1="306.00" y1="711.90" x2="311.00" y2="711.90" stroke="#222" stroke-width="0.7" />
<line x1="299.33" y1="685.15" x2="301.50" y2="683.90" stroke="#222" stroke-width="0.7" />
<line x1="279.75" y1="665.57" x2="281.00" y2="663.40" stroke="#222" stroke-width="0.7" />
<line x1="253.00" y1="658.90" x2="253.00" y2="653.90" stroke="#222" stroke-width="0.7" />
<line x1="226.25" y1="665.57" x2="225.00" y2="663.40" stroke="#222" stroke-width="0.7" />
<line x1="206.67" y1="685.15" x2="204.50" y2="683.90" stroke="#222" stroke-width="0.7" />
<line x1="200.00" y1="711.90" x2="195.00" y2="711.90" stroke="#222" stroke-width="0.7" />
<line x1="206.67" y1="738.65" x2="204.50" y2="739.90" stroke="#222" stroke-width="0.7" />
<line x1="226.25" y1="758.23" x2="225.00" y2="760.40" stroke="#222" stroke-width="0.7" />
<line x1="253.00" y1="764.90" x2="253.00" y2="769.90" stroke="#222" stroke-width="0.7" />
<line x1="279.75" y1="758.23" x2="281.00" y2="760.40" stroke="#222" stroke-width="0.7" />
<line x1="299.33" y1="738.65" x2="301.50" y2="739.90" stroke="#222" stroke-width="0.7" />
<circle cx="201.80" cy="659.30" r="4.60" fill="none" stroke="#222" stroke-width="1.38"/>
<line x1="205.02" y1="662.52" x2="208.93" y2="666.66" stroke="#222" stroke-width="1.9319999999999997" />
<text x="202.80" y="670.50" font-size="7.6" fill="#222" text-anchor="middle" font-weight="normal" textLength="13.2" lengthAdjust="spacingAndGlyphs">9mm</text>
<text x="309.00" y="666.00" font-size="13.4" fill="#000" text-anchor="end" font-weight="bold" textLength="21.2" lengthAdjust="spacingAndGlyphs">OS</text>
<text x="205.50" y="767.90" font-size="8.2" fill="#333" text-anchor="middle" font-weight="normal" >N</text>
<text x="301.00" y="767.90" font-size="8.2" fill="#333" text-anchor="middle" font-weight="normal" >T</text>
<rect x="197.50" y="773.50" width="37.17" height="10.40" fill="#00d400" stroke="none" stroke-width="1" />
<line x1="197.50" y1="773.50" x2="197.50" y2="783.90" stroke="#444" stroke-width="0.7" />
<text x="216.08" y="781.10" font-size="6.8" fill="#222" text-anchor="middle" font-weight="normal" textLength="19.7" lengthAdjust="spacingAndGlyphs">&lt;12µm</text>
<rect x="234.67" y="773.50" width="37.17" height="10.40" fill="#ffff00" stroke="none" stroke-width="1" />
<line x1="234.67" y1="773.50" x2="234.67" y2="783.90" stroke="#444" stroke-width="0.7" />
<text x="253.25" y="781.10" font-size="6.8" fill="#222" text-anchor="middle" font-weight="normal" textLength="25.7" lengthAdjust="spacingAndGlyphs">12-16µm</text>
<rect x="271.83" y="773.50" width="37.17" height="10.40" fill="#e00000" stroke="none" stroke-width="1" />
<line x1="271.83" y1="773.50" x2="271.83" y2="783.90" stroke="#444" stroke-width="0.7" />
<text x="290.42" y="781.10" font-size="6.8" fill="#222" text-anchor="middle" font-weight="normal" textLength="20.5" lengthAdjust="spacingAndGlyphs">&gt;16µm</text>
<line x1="197.50" y1="773.90" x2="309.00" y2="773.90" stroke="#333" stroke-width="0.9" />
<line x1="197.90" y1="773.50" x2="197.90" y2="783.90" stroke="#333" stroke-width="0.9" />
<rect x="327.30" y="633.40" width="344.70" height="154.60" fill="#efefef" stroke="none" stroke-width="1" />
<text x="331.40" y="640.50" font-size="7.2" fill="#222" text-anchor="start" font-weight="normal" textLength="106.3" lengthAdjust="spacingAndGlyphs">Percentage Thickness Increase (PTI)</text>
<text x="355.10" y="649.20" font-size="7.2" fill="#222" text-anchor="middle" font-weight="normal" >0</text>
<text x="413.40" y="649.20" font-size="7.2" fill="#222" text-anchor="middle" font-weight="normal" >2</text>
<text x="471.70" y="649.20" font-size="7.2" fill="#222" text-anchor="middle" font-weight="normal" >4</text>
<text x="530.00" y="649.20" font-size="7.2" fill="#222" text-anchor="middle" font-weight="normal" >6</text>
<text x="588.30" y="649.20" font-size="7.2" fill="#222" text-anchor="middle" font-weight="normal" >8</text>
<text x="663.50" y="641.00" font-size="7.0" fill="#222" text-anchor="end" font-weight="normal" textLength="26" lengthAdjust="spacingAndGlyphs">Diameter</text>
<text x="646.60" y="649.00" font-size="7.2" fill="#222" text-anchor="middle" font-weight="normal" >10</text>
<text x="663.60" y="649.00" font-size="7.0" fill="#222" text-anchor="end" font-weight="normal" >mm</text>
<rect x="349.00" y="653.40" width="315.30" height="85.00" fill="#ffffff" stroke="none" stroke-width="1" />
<line x1="349.00" y1="654.20" x2="664.30" y2="654.20" stroke="#303030" stroke-width="1.6" />
<line x1="349.80" y1="653.40" x2="349.80" y2="738.40" stroke="#303030" stroke-width="1.6" />
<line x1="351.00" y1="670.00" x2="662.30" y2="670.00" stroke="#d8d8d8" stroke-width="0.7" stroke-dasharray="4 2"/>
<line x1="351.00" y1="680.60" x2="662.30" y2="680.60" stroke="#d8d8d8" stroke-width="0.7" stroke-dasharray="4 2"/>
<line x1="351.00" y1="691.20" x2="662.30" y2="691.20" stroke="#d8d8d8" stroke-width="0.7" stroke-dasharray="4 2"/>
<line x1="351.00" y1="701.80" x2="662.30" y2="701.80" stroke="#d8d8d8" stroke-width="0.7" stroke-dasharray="4 2"/>
<line x1="351.00" y1="712.40" x2="662.30" y2="712.40" stroke="#d8d8d8" stroke-width="0.7" stroke-dasharray="4 2"/>
<line x1="351.00" y1="723.00" x2="662.30" y2="723.00" stroke="#d8d8d8" stroke-width="0.7" stroke-dasharray="4 2"/>
<line x1="355.10" y1="659.40" x2="661.30" y2="659.40" stroke="#c0c0c0" stroke-width="0.7" />
<line x1="355.10" y1="654.90" x2="355.10" y2="734.90" stroke="#888" stroke-width="0.9" />
<line x1="353.10" y1="659.40" x2="355.10" y2="659.40" stroke="#888" stroke-width="0.7" />
<line x1="353.10" y1="670.00" x2="355.10" y2="670.00" stroke="#888" stroke-width="0.7" />
<line x1="353.10" y1="680.60" x2="355.10" y2="680.60" stroke="#888" stroke-width="0.7" />
<line x1="353.10" y1="691.20" x2="355.10" y2="691.20" stroke="#888" stroke-width="0.7" />
<line x1="353.10" y1="701.80" x2="355.10" y2="701.80" stroke="#888" stroke-width="0.7" />
<line x1="353.10" y1="712.40" x2="355.10" y2="712.40" stroke="#888" stroke-width="0.7" />
<line x1="353.10" y1="723.00" x2="355.10" y2="723.00" stroke="#888" stroke-width="0.7" />
<line x1="413.40" y1="654.90" x2="413.40" y2="658.90" stroke="#888" stroke-width="0.7" />
<line x1="471.70" y1="654.90" x2="471.70" y2="658.90" stroke="#888" stroke-width="0.7" />
<line x1="530.00" y1="654.90" x2="530.00" y2="658.90" stroke="#888" stroke-width="0.7" />
<line x1="588.30" y1="654.90" x2="588.30" y2="658.90" stroke="#888" stroke-width="0.7" />
<line x1="646.60" y1="654.90" x2="646.60" y2="658.90" stroke="#888" stroke-width="0.7" />
<text x="344.70" y="662.00" font-size="7.2" fill="#222" text-anchor="end" font-weight="normal" >0</text>
<text x="344.70" y="672.60" font-size="7.2" fill="#222" text-anchor="end" font-weight="normal" >10</text>
<text x="344.70" y="683.20" font-size="7.2" fill="#222" text-anchor="end" font-weight="normal" >20</text>
<text x="344.70" y="693.80" font-size="7.2" fill="#222" text-anchor="end" font-weight="normal" >30</text>
<text x="344.70" y="704.40" font-size="7.2" fill="#222" text-anchor="end" font-weight="normal" >40</text>
<text x="344.70" y="715.00" font-size="7.2" fill="#222" text-anchor="end" font-weight="normal" >50</text>
<text x="344.70" y="725.60" font-size="7.2" fill="#222" text-anchor="end" font-weight="normal" >60</text>
<text x="344.70" y="736.20" font-size="7.2" fill="#222" text-anchor="end" font-weight="normal" >%</text>
<polyline points="355.10,659.40 413.40,658.87 471.70,662.58 530.00,670.21 588.30,679.33 646.60,690.88" fill="none" stroke="#111" stroke-width="0.9" stroke-dasharray="1.6 1.6"/>
<circle cx="413.40" cy="658.87" r="1.1" fill="#111"/>
<circle cx="471.70" cy="662.58" r="1.1" fill="#111"/>
<circle cx="530.00" cy="670.21" r="1.1" fill="#111"/>
<circle cx="588.30" cy="679.33" r="1.1" fill="#111"/>
<circle cx="646.60" cy="690.88" r="1.1" fill="#111"/>
<polyline points="355.10,659.40 413.40,659.93 471.70,665.76 530.00,676.57 588.30,688.76 646.60,705.19" fill="none" stroke="#111" stroke-width="0.9" stroke-dasharray="1.6 1.6"/>
<circle cx="413.40" cy="659.93" r="1.1" fill="#111"/>
<circle cx="471.70" cy="665.76" r="1.1" fill="#111"/>
<circle cx="530.00" cy="676.57" r="1.1" fill="#111"/>
<circle cx="588.30" cy="688.76" r="1.1" fill="#111"/>
<circle cx="646.60" cy="705.19" r="1.1" fill="#111"/>
<polyline points="355.10,659.40 413.40,660.99 471.70,668.41 530.00,681.66 588.30,699.04 646.60,720.67" fill="none" stroke="#111" stroke-width="0.9" stroke-dasharray="1.6 1.6"/>
<circle cx="413.40" cy="660.99" r="1.1" fill="#111"/>
<circle cx="471.70" cy="668.41" r="1.1" fill="#111"/>
<circle cx="530.00" cy="681.66" r="1.1" fill="#111"/>
<circle cx="588.30" cy="699.04" r="1.1" fill="#111"/>
<circle cx="646.60" cy="720.67" r="1.1" fill="#111"/>
<polyline points="355.10,659.40 369.68,659.82 384.25,660.25 398.83,660.73 413.40,661.31 427.98,662.79 442.55,664.49 457.12,666.40 471.70,669.26 486.27,671.70 500.85,674.35 515.42,677.63 530.00,681.98 544.58,685.69 559.15,689.29" fill="none" stroke="#ee1010" stroke-width="1.3"/>
<polyline points="559.15,689.29 588.30,702.33" fill="none" stroke="#f06060" stroke-width="1.0" stroke-dasharray="3 2"/>
<circle cx="355.10" cy="659.40" r="0.7" fill="#cc0000"/>
<circle cx="384.25" cy="660.25" r="0.7" fill="#cc0000"/>
<circle cx="413.40" cy="661.31" r="0.7" fill="#cc0000"/>
<circle cx="442.55" cy="664.49" r="0.7" fill="#cc0000"/>
<circle cx="471.70" cy="669.26" r="0.7" fill="#cc0000"/>
<circle cx="500.85" cy="674.35" r="0.7" fill="#cc0000"/>
<circle cx="530.00" cy="681.98" r="0.7" fill="#cc0000"/>
<circle cx="559.15" cy="689.29" r="0.7" fill="#cc0000"/>
<circle cx="355.10" cy="659.40" r="1.5" fill="#ee1010"/>
<circle cx="413.40" cy="661.31" r="1.5" fill="#ee1010"/>
<circle cx="471.70" cy="669.26" r="1.5" fill="#ee1010"/>
<circle cx="530.00" cy="681.98" r="1.5" fill="#ee1010"/>
<circle cx="588.30" cy="702.33" r="1.5" fill="#ee1010"/>
<rect x="327.30" y="748.70" width="344.70" height="2.80" fill="#4a4a4a" stroke="none" stroke-width="1" />
<text x="332.50" y="764.20" font-size="7.0" fill="#222" text-anchor="start" font-weight="normal" textLength="61" lengthAdjust="spacingAndGlyphs">Reference Database:</text>
<circle cx="408.50" cy="761.00" r="2.6" fill="#fff" stroke="#777" stroke-width="0.7"/>
<circle cx="408.50" cy="761.00" r="1.0" fill="#111"/>
<rect x="415.30" y="756.80" width="44.50" height="9.40" fill="none" stroke="#666" stroke-width="0.7" />
<text x="416.50" y="764.20" font-size="7.0" fill="#222" text-anchor="start" font-weight="normal" textLength="42.5" lengthAdjust="spacingAndGlyphs">Myopic/Normal</text>
<circle cx="527.40" cy="761.00" r="2.6" fill="#fff" stroke="#777" stroke-width="0.7"/>
<text x="533.90" y="764.20" font-size="7.0" fill="#222" text-anchor="start" font-weight="normal" textLength="61" lengthAdjust="spacingAndGlyphs">Hyperopic/Mixed Cyl.</text>
<rect x="628.30" y="755.60" width="32.00" height="11.40" fill="#f4f4f4" stroke="#888" stroke-width="0.7" />
<line x1="660.30" y1="755.60" x2="660.30" y2="767.00" stroke="#444" stroke-width="0.9" />
<line x1="628.30" y1="767.00" x2="660.30" y2="767.00" stroke="#444" stroke-width="0.9" />
<text x="644.30" y="764.20" font-size="7.0" fill="#222" text-anchor="middle" font-weight="normal" textLength="27" lengthAdjust="spacingAndGlyphs">Literature</text>
<line x1="327.30" y1="769.60" x2="672.00" y2="769.60" stroke="#b0b0b0" stroke-width="0.8" />
<line x1="327.30" y1="770.50" x2="672.00" y2="770.50" stroke="#fafafa" stroke-width="0.8" />
<text x="332.30" y="781.30" font-size="7.0" fill="#222" text-anchor="start" font-weight="normal" >Df:</text>
<rect x="347.50" y="773.30" width="22.50" height="10.20" fill="#ffffff" stroke="none" stroke-width="1" />
<line x1="347.50" y1="773.70" x2="370.00" y2="773.70" stroke="#333" stroke-width="0.9" />
<line x1="347.90" y1="773.30" x2="347.90" y2="783.50" stroke="#333" stroke-width="0.9" />
<text x="349.50" y="781.30" font-size="7.0" fill="#111" text-anchor="start" font-weight="normal" >1.18</text>
<text x="380.60" y="781.30" font-size="7.0" fill="#222" text-anchor="start" font-weight="normal" >Db:</text>
<rect x="395.80" y="773.30" width="22.50" height="10.20" fill="#e00000" stroke="none" stroke-width="1" />
<line x1="395.80" y1="773.70" x2="418.30" y2="773.70" stroke="#333" stroke-width="0.9" />
<line x1="396.20" y1="773.30" x2="396.20" y2="783.50" stroke="#333" stroke-width="0.9" />
<text x="397.80" y="781.30" font-size="7.0" fill="#fff" text-anchor="start" font-weight="normal" >3.91</text>
<text x="429.20" y="781.30" font-size="7.0" fill="#222" text-anchor="start" font-weight="normal" >Dp:</text>
<rect x="444.50" y="773.30" width="22.50" height="10.20" fill="#e00000" stroke="none" stroke-width="1" />
<line x1="444.50" y1="773.70" x2="467.00" y2="773.70" stroke="#333" stroke-width="0.9" />
<line x1="444.90" y1="773.30" x2="444.90" y2="783.50" stroke="#333" stroke-width="0.9" />
<text x="446.50" y="781.30" font-size="7.0" fill="#fff" text-anchor="start" font-weight="normal" >3.16</text>
<text x="477.70" y="781.30" font-size="7.0" fill="#222" text-anchor="start" font-weight="normal" >Dt:</text>
<rect x="492.50" y="773.30" width="22.50" height="10.20" fill="#ffffff" stroke="none" stroke-width="1" />
<line x1="492.50" y1="773.70" x2="515.00" y2="773.70" stroke="#333" stroke-width="0.9" />
<line x1="492.90" y1="773.30" x2="492.90" y2="783.50" stroke="#333" stroke-width="0.9" />
<text x="494.50" y="781.30" font-size="7.0" fill="#111" text-anchor="start" font-weight="normal" >-1.32</text>
<text x="525.70" y="781.30" font-size="7.0" fill="#222" text-anchor="start" font-weight="normal" >Da:</text>
<rect x="540.90" y="773.30" width="22.50" height="10.20" fill="#ffffff" stroke="none" stroke-width="1" />
<line x1="540.90" y1="773.70" x2="563.40" y2="773.70" stroke="#333" stroke-width="0.9" />
<line x1="541.30" y1="773.30" x2="541.30" y2="783.50" stroke="#333" stroke-width="0.9" />
<text x="542.90" y="781.30" font-size="7.0" fill="#111" text-anchor="start" font-weight="normal" >1.31</text>
<line x1="568.30" y1="770.70" x2="568.30" y2="787.00" stroke="#b0b0b0" stroke-width="0.8" />
<text x="596.30" y="781.30" font-size="8.5" fill="#222" text-anchor="start" font-weight="bold" >D:</text>
<rect x="611.80" y="773.00" width="32.50" height="11.30" fill="#e00000" stroke="none" stroke-width="1" />
<line x1="611.80" y1="773.40" x2="644.30" y2="773.40" stroke="#333" stroke-width="0.9" />
<line x1="612.20" y1="773.00" x2="612.20" y2="784.30" stroke="#333" stroke-width="0.9" />
<text x="614.00" y="781.80" font-size="8.5" fill="#fff" text-anchor="start" font-weight="bold" >3.34</text>
</svg>
</body></html>
